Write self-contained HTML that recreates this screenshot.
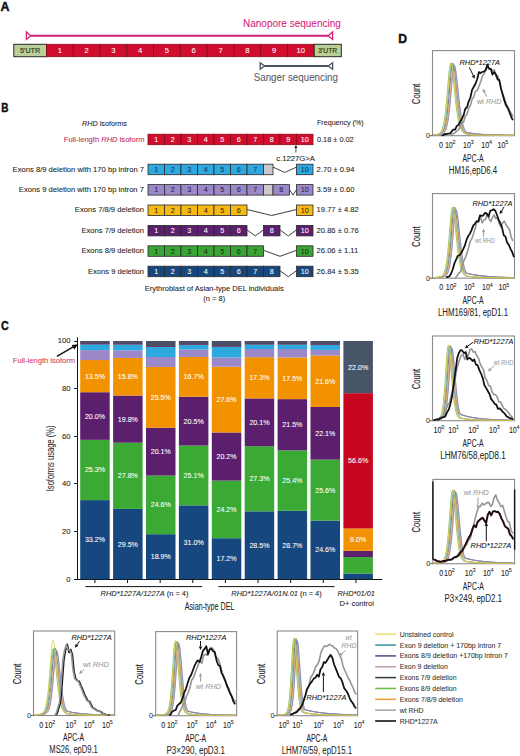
<!DOCTYPE html>
<html><head><meta charset="utf-8"><title>Figure</title>
<style>
html,body{margin:0;padding:0;background:#fff;}
body{width:520px;height:756px;overflow:hidden;}
svg{display:block;font-family:"Liberation Sans", sans-serif;}
</style></head>
<body>
<svg width="520" height="756" viewBox="0 0 520 756">
<rect x="0" y="0" width="520" height="756" fill="#fff"/>
<text x="0.60" y="11.10" font-size="13.2" fill="#111" text-anchor="start" font-weight="bold" textLength="9.00" lengthAdjust="spacingAndGlyphs" stroke="#111" stroke-width="0.45">A</text>
<text x="1.30" y="111.90" font-size="13.2" fill="#111" text-anchor="start" font-weight="bold" textLength="7.20" lengthAdjust="spacingAndGlyphs" stroke="#111" stroke-width="0.45">B</text>
<text x="0.90" y="329.90" font-size="13.2" fill="#111" text-anchor="start" font-weight="bold" textLength="7.70" lengthAdjust="spacingAndGlyphs" stroke="#111" stroke-width="0.45">C</text>
<text x="398.30" y="42.90" font-size="13.2" fill="#111" text-anchor="start" font-weight="bold" textLength="8.80" lengthAdjust="spacingAndGlyphs" stroke="#111" stroke-width="0.45">D</text>
<text x="243.00" y="26.80" font-size="10" fill="#d41f78" text-anchor="start" textLength="97.80" lengthAdjust="spacingAndGlyphs" stroke="#d41f78" stroke-width="0.07">Nanopore sequencing</text>
<line x1="30.80" y1="35.70" x2="328.20" y2="35.70" stroke="#d41f78" stroke-width="1.9"/>
<polygon points="26.40,32.00 26.40,39.40 30.80,35.70" fill="#fff" stroke="#d41f78" stroke-width="1.3"/>
<polygon points="332.60,32.00 332.60,39.40 328.20,35.70" fill="#fff" stroke="#d41f78" stroke-width="1.3"/>
<rect x="13.80" y="44.30" width="32.70" height="12.40" fill="#b9cf98" stroke="#2a2a20" stroke-width="1"/>
<text x="30.10" y="52.90" font-size="7.6" fill="#2c3d12" text-anchor="middle" textLength="20.20" lengthAdjust="spacingAndGlyphs" stroke="#2c3d12" stroke-width="0.2">5'UTR</text>
<rect x="46.50" y="44.30" width="26.77" height="12.40" fill="#d00d2e" stroke="#880a1c" stroke-width="0.8"/>
<text x="59.88" y="53.10" font-size="7.6" fill="#fff" text-anchor="middle" stroke="#fff" stroke-width="0.07">1</text>
<rect x="73.27" y="44.30" width="26.77" height="12.40" fill="#d00d2e" stroke="#880a1c" stroke-width="0.8"/>
<text x="86.66" y="53.10" font-size="7.6" fill="#fff" text-anchor="middle" stroke="#fff" stroke-width="0.07">2</text>
<rect x="100.04" y="44.30" width="26.77" height="12.40" fill="#d00d2e" stroke="#880a1c" stroke-width="0.8"/>
<text x="113.42" y="53.10" font-size="7.6" fill="#fff" text-anchor="middle" stroke="#fff" stroke-width="0.07">3</text>
<rect x="126.81" y="44.30" width="26.77" height="12.40" fill="#d00d2e" stroke="#880a1c" stroke-width="0.8"/>
<text x="140.19" y="53.10" font-size="7.6" fill="#fff" text-anchor="middle" stroke="#fff" stroke-width="0.07">4</text>
<rect x="153.58" y="44.30" width="26.77" height="12.40" fill="#d00d2e" stroke="#880a1c" stroke-width="0.8"/>
<text x="166.96" y="53.10" font-size="7.6" fill="#fff" text-anchor="middle" stroke="#fff" stroke-width="0.07">5</text>
<rect x="180.35" y="44.30" width="26.77" height="12.40" fill="#d00d2e" stroke="#880a1c" stroke-width="0.8"/>
<text x="193.73" y="53.10" font-size="7.6" fill="#fff" text-anchor="middle" stroke="#fff" stroke-width="0.07">6</text>
<rect x="207.12" y="44.30" width="26.77" height="12.40" fill="#d00d2e" stroke="#880a1c" stroke-width="0.8"/>
<text x="220.50" y="53.10" font-size="7.6" fill="#fff" text-anchor="middle" stroke="#fff" stroke-width="0.07">7</text>
<rect x="233.89" y="44.30" width="26.77" height="12.40" fill="#d00d2e" stroke="#880a1c" stroke-width="0.8"/>
<text x="247.27" y="53.10" font-size="7.6" fill="#fff" text-anchor="middle" stroke="#fff" stroke-width="0.07">8</text>
<rect x="260.66" y="44.30" width="26.77" height="12.40" fill="#d00d2e" stroke="#880a1c" stroke-width="0.8"/>
<text x="274.04" y="53.10" font-size="7.6" fill="#fff" text-anchor="middle" stroke="#fff" stroke-width="0.07">9</text>
<rect x="287.43" y="44.30" width="26.77" height="12.40" fill="#d00d2e" stroke="#880a1c" stroke-width="0.8"/>
<text x="300.81" y="53.10" font-size="7.6" fill="#fff" text-anchor="middle" stroke="#fff" stroke-width="0.07">10</text>
<rect x="314.20" y="44.30" width="27.10" height="12.40" fill="#b9cf98" stroke="#2a2a20" stroke-width="1"/>
<text x="327.75" y="52.90" font-size="7.2" fill="#2c3d12" text-anchor="middle" textLength="19.00" lengthAdjust="spacingAndGlyphs" stroke="#2c3d12" stroke-width="0.2">3'UTR</text>
<line x1="264.60" y1="66.00" x2="328.20" y2="66.00" stroke="#4a5160" stroke-width="1.9"/>
<polygon points="260.20,62.70 260.20,69.30 264.60,66.00" fill="#fff" stroke="#4a5160" stroke-width="1.3"/>
<polygon points="332.60,62.70 332.60,69.30 328.20,66.00" fill="#fff" stroke="#4a5160" stroke-width="1.3"/>
<text x="253.70" y="80.60" font-size="10.3" fill="#555b66" text-anchor="start" textLength="84.30" lengthAdjust="spacingAndGlyphs" stroke="#555b66" stroke-width="0.07">Sanger sequencing</text>
<text x="82.00" y="126.00" font-size="7.6" fill="#222" text-anchor="start" textLength="45.00" lengthAdjust="spacingAndGlyphs" stroke="#222" stroke-width="0.07"><tspan font-style="italic">RHD</tspan> isoforms</text>
<text x="317.00" y="125.40" font-size="7.4" fill="#222" text-anchor="start" textLength="46.70" lengthAdjust="spacingAndGlyphs" stroke="#222" stroke-width="0.07">Frequency (%)</text>
<text x="144.50" y="141.70" font-size="7.6" fill="#c62a55" text-anchor="end" textLength="80.70" lengthAdjust="spacingAndGlyphs" stroke="#c62a55" stroke-width="0.07">Full-length <tspan font-style="italic">RHD</tspan> isoform</text>
<rect x="148.00" y="134.20" width="16.50" height="10.50" fill="#d00d2e" stroke="#880a1c" stroke-width="0.8"/>
<text x="156.25" y="142.00" font-size="7.2" fill="#fff" text-anchor="middle" stroke="#fff" stroke-width="0.07">1</text>
<rect x="164.50" y="134.20" width="16.50" height="10.50" fill="#d00d2e" stroke="#880a1c" stroke-width="0.8"/>
<text x="172.75" y="142.00" font-size="7.2" fill="#fff" text-anchor="middle" stroke="#fff" stroke-width="0.07">2</text>
<rect x="181.00" y="134.20" width="16.50" height="10.50" fill="#d00d2e" stroke="#880a1c" stroke-width="0.8"/>
<text x="189.25" y="142.00" font-size="7.2" fill="#fff" text-anchor="middle" stroke="#fff" stroke-width="0.07">3</text>
<rect x="197.50" y="134.20" width="16.50" height="10.50" fill="#d00d2e" stroke="#880a1c" stroke-width="0.8"/>
<text x="205.75" y="142.00" font-size="7.2" fill="#fff" text-anchor="middle" stroke="#fff" stroke-width="0.07">4</text>
<rect x="214.00" y="134.20" width="16.50" height="10.50" fill="#d00d2e" stroke="#880a1c" stroke-width="0.8"/>
<text x="222.25" y="142.00" font-size="7.2" fill="#fff" text-anchor="middle" stroke="#fff" stroke-width="0.07">5</text>
<rect x="230.50" y="134.20" width="16.50" height="10.50" fill="#d00d2e" stroke="#880a1c" stroke-width="0.8"/>
<text x="238.75" y="142.00" font-size="7.2" fill="#fff" text-anchor="middle" stroke="#fff" stroke-width="0.07">6</text>
<rect x="247.00" y="134.20" width="16.50" height="10.50" fill="#d00d2e" stroke="#880a1c" stroke-width="0.8"/>
<text x="255.25" y="142.00" font-size="7.2" fill="#fff" text-anchor="middle" stroke="#fff" stroke-width="0.07">7</text>
<rect x="263.50" y="134.20" width="16.50" height="10.50" fill="#d00d2e" stroke="#880a1c" stroke-width="0.8"/>
<text x="271.75" y="142.00" font-size="7.2" fill="#fff" text-anchor="middle" stroke="#fff" stroke-width="0.07">8</text>
<rect x="280.00" y="134.20" width="16.50" height="10.50" fill="#d00d2e" stroke="#880a1c" stroke-width="0.8"/>
<text x="288.25" y="142.00" font-size="7.2" fill="#fff" text-anchor="middle" stroke="#fff" stroke-width="0.07">9</text>
<rect x="296.50" y="134.20" width="16.50" height="10.50" fill="#d00d2e" stroke="#880a1c" stroke-width="0.8"/>
<text x="304.75" y="142.00" font-size="7.2" fill="#fff" text-anchor="middle" stroke="#fff" stroke-width="0.07">10</text>
<line x1="295.90" y1="146.00" x2="295.90" y2="152.50" stroke="#222" stroke-width="0.8"/>
<polygon points="294.30,148.00 297.50,148.00 295.90,145.00" fill="#222"/>
<text x="276.20" y="160.60" font-size="7.6" fill="#222" text-anchor="start" textLength="38.80" lengthAdjust="spacingAndGlyphs" stroke="#222" stroke-width="0.07">c.1227G&gt;A</text>
<rect x="148.00" y="164.20" width="16.50" height="10.50" fill="#2ea9df" stroke="#2a2a2a" stroke-width="0.8"/>
<text x="156.25" y="172.00" font-size="7.2" fill="#1b2f5a" text-anchor="middle" stroke="#1b2f5a" stroke-width="0.07">1</text>
<rect x="164.50" y="164.20" width="16.50" height="10.50" fill="#2ea9df" stroke="#2a2a2a" stroke-width="0.8"/>
<text x="172.75" y="172.00" font-size="7.2" fill="#1b2f5a" text-anchor="middle" stroke="#1b2f5a" stroke-width="0.07">2</text>
<rect x="181.00" y="164.20" width="16.50" height="10.50" fill="#2ea9df" stroke="#2a2a2a" stroke-width="0.8"/>
<text x="189.25" y="172.00" font-size="7.2" fill="#1b2f5a" text-anchor="middle" stroke="#1b2f5a" stroke-width="0.07">3</text>
<rect x="197.50" y="164.20" width="16.50" height="10.50" fill="#2ea9df" stroke="#2a2a2a" stroke-width="0.8"/>
<text x="205.75" y="172.00" font-size="7.2" fill="#1b2f5a" text-anchor="middle" stroke="#1b2f5a" stroke-width="0.07">4</text>
<rect x="214.00" y="164.20" width="16.50" height="10.50" fill="#2ea9df" stroke="#2a2a2a" stroke-width="0.8"/>
<text x="222.25" y="172.00" font-size="7.2" fill="#1b2f5a" text-anchor="middle" stroke="#1b2f5a" stroke-width="0.07">5</text>
<rect x="230.50" y="164.20" width="16.50" height="10.50" fill="#2ea9df" stroke="#2a2a2a" stroke-width="0.8"/>
<text x="238.75" y="172.00" font-size="7.2" fill="#1b2f5a" text-anchor="middle" stroke="#1b2f5a" stroke-width="0.07">6</text>
<rect x="247.00" y="164.20" width="16.50" height="10.50" fill="#2ea9df" stroke="#2a2a2a" stroke-width="0.8"/>
<text x="255.25" y="172.00" font-size="7.2" fill="#1b2f5a" text-anchor="middle" stroke="#1b2f5a" stroke-width="0.07">7</text>
<rect x="296.50" y="164.20" width="16.50" height="10.50" fill="#2ea9df" stroke="#2a2a2a" stroke-width="0.8"/>
<text x="304.75" y="172.00" font-size="7.2" fill="#1b2f5a" text-anchor="middle" stroke="#1b2f5a" stroke-width="0.07">10</text>
<rect x="263.50" y="164.20" width="9.50" height="10.50" fill="#cdc8cb" stroke="#2a2a2a" stroke-width="0.8"/>
<polyline points="273.00,167.10 284.75,172.50 296.50,167.10" fill="none" stroke="#2a2a2a" stroke-width="0.9"/>
<rect x="148.00" y="184.60" width="16.50" height="10.50" fill="#9a88c8" stroke="#2a2a2a" stroke-width="0.8"/>
<text x="156.25" y="192.40" font-size="7.2" fill="#2a1a4e" text-anchor="middle" stroke="#2a1a4e" stroke-width="0.07">1</text>
<rect x="164.50" y="184.60" width="16.50" height="10.50" fill="#9a88c8" stroke="#2a2a2a" stroke-width="0.8"/>
<text x="172.75" y="192.40" font-size="7.2" fill="#2a1a4e" text-anchor="middle" stroke="#2a1a4e" stroke-width="0.07">2</text>
<rect x="181.00" y="184.60" width="16.50" height="10.50" fill="#9a88c8" stroke="#2a2a2a" stroke-width="0.8"/>
<text x="189.25" y="192.40" font-size="7.2" fill="#2a1a4e" text-anchor="middle" stroke="#2a1a4e" stroke-width="0.07">3</text>
<rect x="197.50" y="184.60" width="16.50" height="10.50" fill="#9a88c8" stroke="#2a2a2a" stroke-width="0.8"/>
<text x="205.75" y="192.40" font-size="7.2" fill="#2a1a4e" text-anchor="middle" stroke="#2a1a4e" stroke-width="0.07">4</text>
<rect x="214.00" y="184.60" width="16.50" height="10.50" fill="#9a88c8" stroke="#2a2a2a" stroke-width="0.8"/>
<text x="222.25" y="192.40" font-size="7.2" fill="#2a1a4e" text-anchor="middle" stroke="#2a1a4e" stroke-width="0.07">5</text>
<rect x="230.50" y="184.60" width="16.50" height="10.50" fill="#9a88c8" stroke="#2a2a2a" stroke-width="0.8"/>
<text x="238.75" y="192.40" font-size="7.2" fill="#2a1a4e" text-anchor="middle" stroke="#2a1a4e" stroke-width="0.07">6</text>
<rect x="247.00" y="184.60" width="16.50" height="10.50" fill="#9a88c8" stroke="#2a2a2a" stroke-width="0.8"/>
<text x="255.25" y="192.40" font-size="7.2" fill="#2a1a4e" text-anchor="middle" stroke="#2a1a4e" stroke-width="0.07">7</text>
<rect x="296.50" y="184.60" width="16.50" height="10.50" fill="#9a88c8" stroke="#2a2a2a" stroke-width="0.8"/>
<text x="304.75" y="192.40" font-size="7.2" fill="#2a1a4e" text-anchor="middle" stroke="#2a1a4e" stroke-width="0.07">10</text>
<rect x="263.50" y="184.60" width="9.50" height="10.50" fill="#cdc8cb" stroke="#2a2a2a" stroke-width="0.8"/>
<polyline points="289.50,189.60 293.00,195.10 296.50,189.60" fill="none" stroke="#2a2a2a" stroke-width="0.9"/>
<rect x="273.00" y="184.60" width="16.50" height="10.50" fill="#9a88c8" stroke="#2a2a2a" stroke-width="0.8"/>
<text x="281.25" y="192.40" font-size="7.2" fill="#2a1a4e" text-anchor="middle" stroke="#2a1a4e" stroke-width="0.07">8</text>
<rect x="148.00" y="205.00" width="16.50" height="10.50" fill="#f7b916" stroke="#2a2a2a" stroke-width="0.8"/>
<text x="156.25" y="212.80" font-size="7.2" fill="#3a2a00" text-anchor="middle" stroke="#3a2a00" stroke-width="0.07">1</text>
<rect x="164.50" y="205.00" width="16.50" height="10.50" fill="#f7b916" stroke="#2a2a2a" stroke-width="0.8"/>
<text x="172.75" y="212.80" font-size="7.2" fill="#3a2a00" text-anchor="middle" stroke="#3a2a00" stroke-width="0.07">2</text>
<rect x="181.00" y="205.00" width="16.50" height="10.50" fill="#f7b916" stroke="#2a2a2a" stroke-width="0.8"/>
<text x="189.25" y="212.80" font-size="7.2" fill="#3a2a00" text-anchor="middle" stroke="#3a2a00" stroke-width="0.07">3</text>
<rect x="197.50" y="205.00" width="16.50" height="10.50" fill="#f7b916" stroke="#2a2a2a" stroke-width="0.8"/>
<text x="205.75" y="212.80" font-size="7.2" fill="#3a2a00" text-anchor="middle" stroke="#3a2a00" stroke-width="0.07">4</text>
<rect x="214.00" y="205.00" width="16.50" height="10.50" fill="#f7b916" stroke="#2a2a2a" stroke-width="0.8"/>
<text x="222.25" y="212.80" font-size="7.2" fill="#3a2a00" text-anchor="middle" stroke="#3a2a00" stroke-width="0.07">5</text>
<rect x="230.50" y="205.00" width="16.50" height="10.50" fill="#f7b916" stroke="#2a2a2a" stroke-width="0.8"/>
<text x="238.75" y="212.80" font-size="7.2" fill="#3a2a00" text-anchor="middle" stroke="#3a2a00" stroke-width="0.07">6</text>
<rect x="296.50" y="205.00" width="16.50" height="10.50" fill="#f7b916" stroke="#2a2a2a" stroke-width="0.8"/>
<text x="304.75" y="212.80" font-size="7.2" fill="#3a2a00" text-anchor="middle" stroke="#3a2a00" stroke-width="0.07">10</text>
<polyline points="247.00,209.50 271.75,215.50 296.50,209.50" fill="none" stroke="#2a2a2a" stroke-width="0.9"/>
<rect x="148.00" y="225.40" width="16.50" height="10.50" fill="#5b1f6d" stroke="#2a2a2a" stroke-width="0.8"/>
<text x="156.25" y="233.20" font-size="7.2" fill="#fff" text-anchor="middle" stroke="#fff" stroke-width="0.07">1</text>
<rect x="164.50" y="225.40" width="16.50" height="10.50" fill="#5b1f6d" stroke="#2a2a2a" stroke-width="0.8"/>
<text x="172.75" y="233.20" font-size="7.2" fill="#fff" text-anchor="middle" stroke="#fff" stroke-width="0.07">2</text>
<rect x="181.00" y="225.40" width="16.50" height="10.50" fill="#5b1f6d" stroke="#2a2a2a" stroke-width="0.8"/>
<text x="189.25" y="233.20" font-size="7.2" fill="#fff" text-anchor="middle" stroke="#fff" stroke-width="0.07">3</text>
<rect x="197.50" y="225.40" width="16.50" height="10.50" fill="#5b1f6d" stroke="#2a2a2a" stroke-width="0.8"/>
<text x="205.75" y="233.20" font-size="7.2" fill="#fff" text-anchor="middle" stroke="#fff" stroke-width="0.07">4</text>
<rect x="214.00" y="225.40" width="16.50" height="10.50" fill="#5b1f6d" stroke="#2a2a2a" stroke-width="0.8"/>
<text x="222.25" y="233.20" font-size="7.2" fill="#fff" text-anchor="middle" stroke="#fff" stroke-width="0.07">5</text>
<rect x="230.50" y="225.40" width="16.50" height="10.50" fill="#5b1f6d" stroke="#2a2a2a" stroke-width="0.8"/>
<text x="238.75" y="233.20" font-size="7.2" fill="#fff" text-anchor="middle" stroke="#fff" stroke-width="0.07">6</text>
<rect x="263.50" y="225.40" width="16.50" height="10.50" fill="#5b1f6d" stroke="#2a2a2a" stroke-width="0.8"/>
<text x="271.75" y="233.20" font-size="7.2" fill="#fff" text-anchor="middle" stroke="#fff" stroke-width="0.07">8</text>
<rect x="296.50" y="225.40" width="16.50" height="10.50" fill="#5b1f6d" stroke="#2a2a2a" stroke-width="0.8"/>
<text x="304.75" y="233.20" font-size="7.2" fill="#fff" text-anchor="middle" stroke="#fff" stroke-width="0.07">10</text>
<polyline points="247.00,229.90 255.25,235.90 263.50,229.90" fill="none" stroke="#2a2a2a" stroke-width="0.9"/>
<polyline points="280.00,229.90 288.25,235.90 296.50,229.90" fill="none" stroke="#2a2a2a" stroke-width="0.9"/>
<rect x="148.00" y="245.80" width="16.50" height="10.50" fill="#3aa535" stroke="#2a2a2a" stroke-width="0.8"/>
<text x="156.25" y="253.60" font-size="7.2" fill="#1a2a10" text-anchor="middle" stroke="#1a2a10" stroke-width="0.07">1</text>
<rect x="164.50" y="245.80" width="16.50" height="10.50" fill="#3aa535" stroke="#2a2a2a" stroke-width="0.8"/>
<text x="172.75" y="253.60" font-size="7.2" fill="#1a2a10" text-anchor="middle" stroke="#1a2a10" stroke-width="0.07">2</text>
<rect x="181.00" y="245.80" width="16.50" height="10.50" fill="#3aa535" stroke="#2a2a2a" stroke-width="0.8"/>
<text x="189.25" y="253.60" font-size="7.2" fill="#1a2a10" text-anchor="middle" stroke="#1a2a10" stroke-width="0.07">3</text>
<rect x="197.50" y="245.80" width="16.50" height="10.50" fill="#3aa535" stroke="#2a2a2a" stroke-width="0.8"/>
<text x="205.75" y="253.60" font-size="7.2" fill="#1a2a10" text-anchor="middle" stroke="#1a2a10" stroke-width="0.07">4</text>
<rect x="214.00" y="245.80" width="16.50" height="10.50" fill="#3aa535" stroke="#2a2a2a" stroke-width="0.8"/>
<text x="222.25" y="253.60" font-size="7.2" fill="#1a2a10" text-anchor="middle" stroke="#1a2a10" stroke-width="0.07">5</text>
<rect x="230.50" y="245.80" width="16.50" height="10.50" fill="#3aa535" stroke="#2a2a2a" stroke-width="0.8"/>
<text x="238.75" y="253.60" font-size="7.2" fill="#1a2a10" text-anchor="middle" stroke="#1a2a10" stroke-width="0.07">6</text>
<rect x="247.00" y="245.80" width="16.50" height="10.50" fill="#3aa535" stroke="#2a2a2a" stroke-width="0.8"/>
<text x="255.25" y="253.60" font-size="7.2" fill="#1a2a10" text-anchor="middle" stroke="#1a2a10" stroke-width="0.07">7</text>
<rect x="296.50" y="245.80" width="16.50" height="10.50" fill="#3aa535" stroke="#2a2a2a" stroke-width="0.8"/>
<text x="304.75" y="253.60" font-size="7.2" fill="#1a2a10" text-anchor="middle" stroke="#1a2a10" stroke-width="0.07">10</text>
<polyline points="263.50,250.30 280.00,256.30 296.50,250.30" fill="none" stroke="#2a2a2a" stroke-width="0.9"/>
<rect x="148.00" y="266.20" width="16.50" height="10.50" fill="#17477f" stroke="#2a2a2a" stroke-width="0.8"/>
<text x="156.25" y="274.00" font-size="7.2" fill="#fff" text-anchor="middle" stroke="#fff" stroke-width="0.07">1</text>
<rect x="164.50" y="266.20" width="16.50" height="10.50" fill="#17477f" stroke="#2a2a2a" stroke-width="0.8"/>
<text x="172.75" y="274.00" font-size="7.2" fill="#fff" text-anchor="middle" stroke="#fff" stroke-width="0.07">2</text>
<rect x="181.00" y="266.20" width="16.50" height="10.50" fill="#17477f" stroke="#2a2a2a" stroke-width="0.8"/>
<text x="189.25" y="274.00" font-size="7.2" fill="#fff" text-anchor="middle" stroke="#fff" stroke-width="0.07">3</text>
<rect x="197.50" y="266.20" width="16.50" height="10.50" fill="#17477f" stroke="#2a2a2a" stroke-width="0.8"/>
<text x="205.75" y="274.00" font-size="7.2" fill="#fff" text-anchor="middle" stroke="#fff" stroke-width="0.07">4</text>
<rect x="214.00" y="266.20" width="16.50" height="10.50" fill="#17477f" stroke="#2a2a2a" stroke-width="0.8"/>
<text x="222.25" y="274.00" font-size="7.2" fill="#fff" text-anchor="middle" stroke="#fff" stroke-width="0.07">5</text>
<rect x="230.50" y="266.20" width="16.50" height="10.50" fill="#17477f" stroke="#2a2a2a" stroke-width="0.8"/>
<text x="238.75" y="274.00" font-size="7.2" fill="#fff" text-anchor="middle" stroke="#fff" stroke-width="0.07">6</text>
<rect x="247.00" y="266.20" width="16.50" height="10.50" fill="#17477f" stroke="#2a2a2a" stroke-width="0.8"/>
<text x="255.25" y="274.00" font-size="7.2" fill="#fff" text-anchor="middle" stroke="#fff" stroke-width="0.07">7</text>
<rect x="263.50" y="266.20" width="16.50" height="10.50" fill="#17477f" stroke="#2a2a2a" stroke-width="0.8"/>
<text x="271.75" y="274.00" font-size="7.2" fill="#fff" text-anchor="middle" stroke="#fff" stroke-width="0.07">8</text>
<rect x="296.50" y="266.20" width="16.50" height="10.50" fill="#17477f" stroke="#2a2a2a" stroke-width="0.8"/>
<text x="304.75" y="274.00" font-size="7.2" fill="#fff" text-anchor="middle" stroke="#fff" stroke-width="0.07">10</text>
<polyline points="280.00,270.70 288.25,276.70 296.50,270.70" fill="none" stroke="#2a2a2a" stroke-width="0.9"/>
<text x="317.00" y="141.90" font-size="7.6" fill="#222" text-anchor="start" textLength="36.70" lengthAdjust="spacingAndGlyphs" stroke="#222" stroke-width="0.07">0.18 ± 0.02</text>
<text x="144.00" y="171.60" font-size="7.6" fill="#222" text-anchor="end" textLength="131.40" lengthAdjust="spacingAndGlyphs" stroke="#222" stroke-width="0.07">Exons 8/9 deletion with 170 bp intron 7</text>
<text x="316.60" y="171.60" font-size="7.6" fill="#222" text-anchor="start" stroke="#222" stroke-width="0.07">2.70 ± 0.94</text>
<text x="144.00" y="192.00" font-size="7.6" fill="#222" text-anchor="end" textLength="125.20" lengthAdjust="spacingAndGlyphs" stroke="#222" stroke-width="0.07">Exons 9 deletion with 170 bp intron 7</text>
<text x="316.60" y="192.00" font-size="7.6" fill="#222" text-anchor="start" stroke="#222" stroke-width="0.07">3.59 ± 0.60</text>
<text x="144.00" y="212.40" font-size="7.6" fill="#222" text-anchor="end" textLength="69.20" lengthAdjust="spacingAndGlyphs" stroke="#222" stroke-width="0.07">Exons 7/8/9 deletion</text>
<text x="316.60" y="212.40" font-size="7.6" fill="#222" text-anchor="start" stroke="#222" stroke-width="0.07">19.77 ± 4.82</text>
<text x="144.00" y="232.80" font-size="7.6" fill="#222" text-anchor="end" textLength="62.60" lengthAdjust="spacingAndGlyphs" stroke="#222" stroke-width="0.07">Exons 7/9 deletion</text>
<text x="316.60" y="232.80" font-size="7.6" fill="#222" text-anchor="start" stroke="#222" stroke-width="0.07">20.86 ± 0.76</text>
<text x="144.00" y="253.20" font-size="7.6" fill="#222" text-anchor="end" textLength="62.60" lengthAdjust="spacingAndGlyphs" stroke="#222" stroke-width="0.07">Exons 8/9 deletion</text>
<text x="316.60" y="253.20" font-size="7.6" fill="#222" text-anchor="start" stroke="#222" stroke-width="0.07">26.06 ± 1.11</text>
<text x="144.00" y="273.60" font-size="7.6" fill="#222" text-anchor="end" textLength="56.00" lengthAdjust="spacingAndGlyphs" stroke="#222" stroke-width="0.07">Exons 9 deletion</text>
<text x="316.60" y="273.60" font-size="7.6" fill="#222" text-anchor="start" stroke="#222" stroke-width="0.07">26.84 ± 5.35</text>
<text x="214.20" y="291.30" font-size="7.5" fill="#222" text-anchor="middle" textLength="138.90" lengthAdjust="spacingAndGlyphs" stroke="#222" stroke-width="0.07">Erythroblast of Asian-type DEL individuals</text>
<text x="214.20" y="301.00" font-size="7.5" fill="#222" text-anchor="middle" stroke="#222" stroke-width="0.07">(n = 8)</text>
<line x1="77.50" y1="337.40" x2="77.50" y2="580.00" stroke="#111" stroke-width="1.0"/>
<line x1="77.00" y1="579.50" x2="382.40" y2="579.50" stroke="#111" stroke-width="1.0"/>
<line x1="74.20" y1="579.50" x2="77.50" y2="579.50" stroke="#111" stroke-width="1.0"/>
<text x="70.60" y="581.60" font-size="7.7" fill="#222" text-anchor="end" stroke="#222" stroke-width="0.07">0</text>
<line x1="74.20" y1="531.50" x2="77.50" y2="531.50" stroke="#111" stroke-width="1.0"/>
<text x="70.60" y="533.96" font-size="7.7" fill="#222" text-anchor="end" stroke="#222" stroke-width="0.07">20</text>
<line x1="74.20" y1="483.50" x2="77.50" y2="483.50" stroke="#111" stroke-width="1.0"/>
<text x="70.60" y="486.32" font-size="7.7" fill="#222" text-anchor="end" stroke="#222" stroke-width="0.07">40</text>
<line x1="74.20" y1="436.50" x2="77.50" y2="436.50" stroke="#111" stroke-width="1.0"/>
<text x="70.60" y="438.68" font-size="7.7" fill="#222" text-anchor="end" stroke="#222" stroke-width="0.07">60</text>
<line x1="74.20" y1="388.50" x2="77.50" y2="388.50" stroke="#111" stroke-width="1.0"/>
<text x="70.60" y="391.04" font-size="7.7" fill="#222" text-anchor="end" stroke="#222" stroke-width="0.07">80</text>
<line x1="74.20" y1="341.50" x2="77.50" y2="341.50" stroke="#111" stroke-width="1.0"/>
<text x="70.60" y="343.40" font-size="7.7" fill="#222" text-anchor="end" stroke="#222" stroke-width="0.07">100</text>
<text transform="translate(53.7,458.4) rotate(-90)" x="0" y="0" font-size="10.2" fill="#222" text-anchor="middle" textLength="65.7" lengthAdjust="spacingAndGlyphs">Isoforms usage (%)</text>
<text x="12.80" y="362.80" font-size="7.6" fill="#cf3560" text-anchor="start" textLength="62.40" lengthAdjust="spacingAndGlyphs" stroke="#cf3560" stroke-width="0.07">Full-length isoform</text>
<line x1="56.90" y1="356.30" x2="74.50" y2="346.20" stroke="#111" stroke-width="1.4"/>
<polygon points="78.20,344.20 71.60,345.00 74.30,349.60" fill="#111"/>
<rect x="80.20" y="500.12" width="29.50" height="79.08" fill="#17477f"/>
<text x="94.95" y="542.16" font-size="7.1" fill="#fff" text-anchor="middle" stroke="#fff" stroke-width="0.07">33.2%</text>
<rect x="80.20" y="439.85" width="29.50" height="60.26" fill="#3aaa35"/>
<text x="94.95" y="472.49" font-size="7.1" fill="#fff" text-anchor="middle" stroke="#fff" stroke-width="0.07">25.3%</text>
<rect x="80.20" y="392.21" width="29.50" height="47.64" fill="#5b1f6d"/>
<text x="94.95" y="418.53" font-size="7.1" fill="#fff" text-anchor="middle" stroke="#fff" stroke-width="0.07">20.0%</text>
<rect x="80.20" y="360.06" width="29.50" height="32.16" fill="#f39200"/>
<text x="94.95" y="378.63" font-size="7.1" fill="#fff" text-anchor="middle" stroke="#fff" stroke-width="0.07">13.5%</text>
<rect x="80.20" y="350.10" width="29.50" height="9.96" fill="#9a88c8"/>
<rect x="80.20" y="344.30" width="29.50" height="5.80" fill="#2ea9df"/>
<rect x="80.20" y="341.00" width="29.50" height="3.30" fill="#4a4f67"/>
<rect x="80.20" y="343.50" width="29.50" height="0.80" fill="#74305a"/>
<rect x="113.10" y="508.93" width="29.50" height="70.27" fill="#17477f"/>
<text x="127.85" y="546.57" font-size="7.1" fill="#fff" text-anchor="middle" stroke="#fff" stroke-width="0.07">29.5%</text>
<rect x="113.10" y="442.71" width="29.50" height="66.22" fill="#3aaa35"/>
<text x="127.85" y="478.32" font-size="7.1" fill="#fff" text-anchor="middle" stroke="#fff" stroke-width="0.07">27.8%</text>
<rect x="113.10" y="395.55" width="29.50" height="47.16" fill="#5b1f6d"/>
<text x="127.85" y="421.63" font-size="7.1" fill="#fff" text-anchor="middle" stroke="#fff" stroke-width="0.07">19.8%</text>
<rect x="113.10" y="357.91" width="29.50" height="37.64" fill="#f39200"/>
<text x="127.85" y="379.23" font-size="7.1" fill="#fff" text-anchor="middle" stroke="#fff" stroke-width="0.07">15.8%</text>
<rect x="113.10" y="350.30" width="29.50" height="7.61" fill="#9a88c8"/>
<rect x="113.10" y="344.40" width="29.50" height="5.90" fill="#2ea9df"/>
<rect x="113.10" y="341.00" width="29.50" height="3.40" fill="#4a4f67"/>
<rect x="113.10" y="343.60" width="29.50" height="0.80" fill="#74305a"/>
<rect x="146.00" y="534.18" width="29.50" height="45.02" fill="#17477f"/>
<text x="160.75" y="559.19" font-size="7.1" fill="#fff" text-anchor="middle" stroke="#fff" stroke-width="0.07">18.9%</text>
<rect x="146.00" y="475.58" width="29.50" height="58.60" fill="#3aaa35"/>
<text x="160.75" y="507.38" font-size="7.1" fill="#fff" text-anchor="middle" stroke="#fff" stroke-width="0.07">24.6%</text>
<rect x="146.00" y="427.70" width="29.50" height="47.88" fill="#5b1f6d"/>
<text x="160.75" y="454.14" font-size="7.1" fill="#fff" text-anchor="middle" stroke="#fff" stroke-width="0.07">20.1%</text>
<rect x="146.00" y="366.96" width="29.50" height="60.74" fill="#f39200"/>
<text x="160.75" y="399.83" font-size="7.1" fill="#fff" text-anchor="middle" stroke="#fff" stroke-width="0.07">25.5%</text>
<rect x="146.00" y="357.00" width="29.50" height="9.96" fill="#9a88c8"/>
<rect x="146.00" y="346.80" width="29.50" height="10.20" fill="#2ea9df"/>
<rect x="146.00" y="341.00" width="29.50" height="5.80" fill="#4a4f67"/>
<rect x="146.00" y="346.00" width="29.50" height="0.80" fill="#74305a"/>
<rect x="178.90" y="505.36" width="29.50" height="73.84" fill="#17477f"/>
<text x="193.65" y="544.78" font-size="7.1" fill="#fff" text-anchor="middle" stroke="#fff" stroke-width="0.07">31.0%</text>
<rect x="178.90" y="445.57" width="29.50" height="59.79" fill="#3aaa35"/>
<text x="193.65" y="477.96" font-size="7.1" fill="#fff" text-anchor="middle" stroke="#fff" stroke-width="0.07">25.1%</text>
<rect x="178.90" y="396.74" width="29.50" height="48.83" fill="#5b1f6d"/>
<text x="193.65" y="423.65" font-size="7.1" fill="#fff" text-anchor="middle" stroke="#fff" stroke-width="0.07">20.5%</text>
<rect x="178.90" y="356.96" width="29.50" height="39.78" fill="#f39200"/>
<text x="193.65" y="379.35" font-size="7.1" fill="#fff" text-anchor="middle" stroke="#fff" stroke-width="0.07">16.7%</text>
<rect x="178.90" y="349.50" width="29.50" height="7.46" fill="#9a88c8"/>
<rect x="178.90" y="344.70" width="29.50" height="4.80" fill="#2ea9df"/>
<rect x="178.90" y="341.00" width="29.50" height="3.70" fill="#4a4f67"/>
<rect x="178.90" y="343.90" width="29.50" height="0.80" fill="#74305a"/>
<rect x="211.80" y="538.23" width="29.50" height="40.97" fill="#17477f"/>
<text x="226.55" y="561.21" font-size="7.1" fill="#fff" text-anchor="middle" stroke="#fff" stroke-width="0.07">17.2%</text>
<rect x="211.80" y="480.59" width="29.50" height="57.64" fill="#3aaa35"/>
<text x="226.55" y="511.91" font-size="7.1" fill="#fff" text-anchor="middle" stroke="#fff" stroke-width="0.07">24.2%</text>
<rect x="211.80" y="432.47" width="29.50" height="48.12" fill="#5b1f6d"/>
<text x="226.55" y="459.03" font-size="7.1" fill="#fff" text-anchor="middle" stroke="#fff" stroke-width="0.07">20.2%</text>
<rect x="211.80" y="366.73" width="29.50" height="65.74" fill="#f39200"/>
<text x="226.55" y="402.10" font-size="7.1" fill="#fff" text-anchor="middle" stroke="#fff" stroke-width="0.07">27.6%</text>
<rect x="211.80" y="357.50" width="29.50" height="9.23" fill="#9a88c8"/>
<rect x="211.80" y="346.60" width="29.50" height="10.90" fill="#2ea9df"/>
<rect x="211.80" y="341.00" width="29.50" height="5.60" fill="#4a4f67"/>
<rect x="211.80" y="345.80" width="29.50" height="0.80" fill="#74305a"/>
<rect x="244.70" y="511.31" width="29.50" height="67.89" fill="#17477f"/>
<text x="259.45" y="547.76" font-size="7.1" fill="#fff" text-anchor="middle" stroke="#fff" stroke-width="0.07">28.5%</text>
<rect x="244.70" y="446.28" width="29.50" height="65.03" fill="#3aaa35"/>
<text x="259.45" y="481.30" font-size="7.1" fill="#fff" text-anchor="middle" stroke="#fff" stroke-width="0.07">27.3%</text>
<rect x="244.70" y="398.41" width="29.50" height="47.88" fill="#5b1f6d"/>
<text x="259.45" y="424.85" font-size="7.1" fill="#fff" text-anchor="middle" stroke="#fff" stroke-width="0.07">20.1%</text>
<rect x="244.70" y="357.20" width="29.50" height="41.21" fill="#f39200"/>
<text x="259.45" y="380.30" font-size="7.1" fill="#fff" text-anchor="middle" stroke="#fff" stroke-width="0.07">17.3%</text>
<rect x="244.70" y="349.00" width="29.50" height="8.20" fill="#9a88c8"/>
<rect x="244.70" y="344.40" width="29.50" height="4.60" fill="#2ea9df"/>
<rect x="244.70" y="341.00" width="29.50" height="3.40" fill="#4a4f67"/>
<rect x="244.70" y="343.60" width="29.50" height="0.80" fill="#74305a"/>
<rect x="277.60" y="510.84" width="29.50" height="68.36" fill="#17477f"/>
<text x="292.35" y="547.52" font-size="7.1" fill="#fff" text-anchor="middle" stroke="#fff" stroke-width="0.07">28.7%</text>
<rect x="277.60" y="450.33" width="29.50" height="60.50" fill="#3aaa35"/>
<text x="292.35" y="483.09" font-size="7.1" fill="#fff" text-anchor="middle" stroke="#fff" stroke-width="0.07">25.4%</text>
<rect x="277.60" y="399.12" width="29.50" height="51.21" fill="#5b1f6d"/>
<text x="292.35" y="427.23" font-size="7.1" fill="#fff" text-anchor="middle" stroke="#fff" stroke-width="0.07">21.5%</text>
<rect x="277.60" y="357.44" width="29.50" height="41.68" fill="#f39200"/>
<text x="292.35" y="380.78" font-size="7.1" fill="#fff" text-anchor="middle" stroke="#fff" stroke-width="0.07">17.5%</text>
<rect x="277.60" y="349.00" width="29.50" height="8.44" fill="#9a88c8"/>
<rect x="277.60" y="344.40" width="29.50" height="4.60" fill="#2ea9df"/>
<rect x="277.60" y="341.00" width="29.50" height="3.40" fill="#4a4f67"/>
<rect x="277.60" y="343.60" width="29.50" height="0.80" fill="#74305a"/>
<rect x="310.50" y="520.60" width="29.50" height="58.60" fill="#17477f"/>
<text x="325.25" y="552.40" font-size="7.1" fill="#fff" text-anchor="middle" stroke="#fff" stroke-width="0.07">24.6%</text>
<rect x="310.50" y="459.62" width="29.50" height="60.98" fill="#3aaa35"/>
<text x="325.25" y="492.61" font-size="7.1" fill="#fff" text-anchor="middle" stroke="#fff" stroke-width="0.07">25.6%</text>
<rect x="310.50" y="406.98" width="29.50" height="52.64" fill="#5b1f6d"/>
<text x="325.25" y="435.80" font-size="7.1" fill="#fff" text-anchor="middle" stroke="#fff" stroke-width="0.07">22.1%</text>
<rect x="310.50" y="355.53" width="29.50" height="51.45" fill="#f39200"/>
<text x="325.25" y="383.76" font-size="7.1" fill="#fff" text-anchor="middle" stroke="#fff" stroke-width="0.07">21.6%</text>
<rect x="310.50" y="349.90" width="29.50" height="5.63" fill="#9a88c8"/>
<rect x="310.50" y="344.70" width="29.50" height="5.20" fill="#2ea9df"/>
<rect x="310.50" y="341.00" width="29.50" height="3.70" fill="#4a4f67"/>
<rect x="310.50" y="343.90" width="29.50" height="0.80" fill="#74305a"/>
<rect x="343.40" y="573.48" width="29.50" height="5.72" fill="#17477f"/>
<rect x="343.40" y="557.05" width="29.50" height="16.44" fill="#3aaa35"/>
<rect x="343.40" y="550.85" width="29.50" height="6.19" fill="#5b1f6d"/>
<rect x="343.40" y="528.46" width="29.50" height="22.39" fill="#f39200"/>
<text x="358.15" y="542.16" font-size="7.1" fill="#fff" text-anchor="middle" stroke="#fff" stroke-width="0.07">9.0%</text>
<rect x="343.40" y="393.17" width="29.50" height="135.30" fill="#c8061f"/>
<text x="358.15" y="463.31" font-size="7.1" fill="#fff" text-anchor="middle" stroke="#fff" stroke-width="0.07">56.6%</text>
<rect x="343.40" y="341.00" width="29.50" height="52.17" fill="#485468"/>
<text x="358.15" y="369.58" font-size="7.1" fill="#fff" text-anchor="middle" stroke="#fff" stroke-width="0.07">22.0%</text>
<line x1="94.90" y1="579.50" x2="94.90" y2="583.00" stroke="#111" stroke-width="1.0"/>
<line x1="127.53" y1="579.50" x2="127.53" y2="583.00" stroke="#111" stroke-width="1.0"/>
<line x1="160.16" y1="579.50" x2="160.16" y2="583.00" stroke="#111" stroke-width="1.0"/>
<line x1="192.79" y1="579.50" x2="192.79" y2="583.00" stroke="#111" stroke-width="1.0"/>
<line x1="225.42" y1="579.50" x2="225.42" y2="583.00" stroke="#111" stroke-width="1.0"/>
<line x1="258.05" y1="579.50" x2="258.05" y2="583.00" stroke="#111" stroke-width="1.0"/>
<line x1="290.68" y1="579.50" x2="290.68" y2="583.00" stroke="#111" stroke-width="1.0"/>
<line x1="323.31" y1="579.50" x2="323.31" y2="583.00" stroke="#111" stroke-width="1.0"/>
<line x1="355.94" y1="579.50" x2="355.94" y2="583.00" stroke="#111" stroke-width="1.0"/>
<line x1="85.40" y1="586.60" x2="202.10" y2="586.60" stroke="#111" stroke-width="1.0"/>
<line x1="218.40" y1="586.60" x2="334.60" y2="586.60" stroke="#111" stroke-width="1.0"/>
<text x="144.50" y="596.00" font-size="7.4" fill="#222" text-anchor="middle" textLength="87.90" lengthAdjust="spacingAndGlyphs" stroke="#222" stroke-width="0.07"><tspan font-style="italic">RHD*1227A/1227A</tspan> (n = 4)</text>
<text x="276.50" y="596.00" font-size="7.4" fill="#222" text-anchor="middle" textLength="90.50" lengthAdjust="spacingAndGlyphs" stroke="#222" stroke-width="0.07"><tspan font-style="italic">RHD*1227A/01N.01</tspan> (n = 4)</text>
<text x="356.20" y="596.00" font-size="7.4" fill="#222" text-anchor="middle" font-style="italic" textLength="37.40" lengthAdjust="spacingAndGlyphs" stroke="#222" stroke-width="0.07">RHD*01/01</text>
<text x="356.70" y="606.00" font-size="7.4" fill="#222" text-anchor="middle" textLength="34.40" lengthAdjust="spacingAndGlyphs" stroke="#222" stroke-width="0.07">D+ control</text>
<text x="209.60" y="610.20" font-size="10.0" fill="#222" text-anchor="middle" textLength="49.70" lengthAdjust="spacingAndGlyphs" stroke="#222" stroke-width="0.07">Asian-type DEL</text>
<rect x="432.50" y="50.60" width="82.00" height="85.10" fill="#fff" stroke="#8a8a8a" stroke-width="1.1"/>
<path d="M433.00,135.03 L433.80,134.98 L434.60,134.93 L435.40,134.86 L436.20,134.78 L437.00,134.69 L437.80,134.58 L438.60,134.43 L439.40,134.24 L440.20,133.99 L441.00,133.62 L441.80,133.09 L442.60,132.30 L443.40,131.13 L444.20,129.41 L445.00,126.93 L445.80,123.47 L446.60,118.82 L447.40,112.84 L448.20,105.46 L449.00,96.83 L449.80,87.33 L450.60,77.77 L451.40,69.47 L452.20,64.14 L453.00,63.16 L453.80,65.80 L454.60,71.14 L455.40,78.25 L456.20,86.15 L457.00,94.10 L457.80,101.57 L458.60,108.27 L459.40,114.06 L460.20,118.89 L461.00,122.81 L461.80,125.90 L462.60,128.26 L463.40,130.03 L464.20,131.34 L465.00,132.28 L465.80,132.49 L466.60,132.64 L467.40,132.78 L468.20,132.92 L469.00,133.05 L469.80,133.17 L470.60,133.29 L471.40,133.40 L472.20,133.50 L473.00,133.60 L473.80,133.69 L474.60,133.78 L475.40,133.86 L476.20,133.94 L477.00,134.02 L477.80,134.09 L478.60,134.16 L479.40,134.22 L480.20,134.29 L481.00,134.34 L481.80,134.40 L482.60,134.45 L483.40,134.50 L484.20,134.55 L485.00,134.59 L485.80,134.63 L486.60,134.67 L487.40,134.71 L488.20,134.75 L489.00,134.78 L489.80,134.81 L490.60,134.84 L491.40,134.87 L492.20,134.90 L493.00,134.93 L493.80,134.95 L494.60,134.97 L495.40,135.00 L496.20,135.02 L497.00,135.04 L497.80,135.06 L498.60,135.07 L499.40,135.09 L500.20,135.11 L501.00,135.12 L501.80,135.14 L502.60,135.15 L503.40,135.16 L504.20,135.17 L505.00,135.19 L505.80,135.20 L506.60,135.21 L507.40,135.22 L508.20,135.23 L509.00,135.24 L509.80,135.25 L510.60,135.25 L511.40,135.26 L512.20,135.27 L513.00,135.27 L513.80,135.28" fill="none" stroke="#5a5250" stroke-width="0.8" stroke-linejoin="round"/>
<path d="M433.00,135.12 L433.80,135.08 L434.60,135.05 L435.40,135.00 L436.20,134.95 L437.00,134.89 L437.80,134.82 L438.60,134.73 L439.40,134.62 L440.20,134.48 L441.00,134.30 L441.80,134.06 L442.60,133.72 L443.40,133.23 L444.20,132.49 L445.00,131.39 L445.80,129.78 L446.60,127.45 L447.40,124.20 L448.20,119.83 L449.00,114.17 L449.80,107.18 L450.60,98.97 L451.40,89.91 L452.20,80.71 L453.00,72.63 L453.80,67.30 L454.60,66.10 L455.40,68.44 L456.20,73.42 L457.00,80.16 L457.80,87.71 L458.60,95.34 L459.40,102.54 L460.20,109.02 L461.00,114.62 L461.80,119.31 L462.60,123.12 L463.40,126.13 L464.20,128.43 L465.00,130.16 L465.80,131.44 L466.60,132.36 L467.40,132.60 L468.20,132.74 L469.00,132.88 L469.80,133.01 L470.60,133.14 L471.40,133.25 L472.20,133.37 L473.00,133.47 L473.80,133.57 L474.60,133.67 L475.40,133.76 L476.20,133.84 L477.00,133.92 L477.80,134.00 L478.60,134.07 L479.40,134.14 L480.20,134.21 L481.00,134.27 L481.80,134.33 L482.60,134.38 L483.40,134.44 L484.20,134.49 L485.00,134.53 L485.80,134.58 L486.60,134.62 L487.40,134.66 L488.20,134.70 L489.00,134.74 L489.80,134.77 L490.60,134.80 L491.40,134.83 L492.20,134.86 L493.00,134.89 L493.80,134.92 L494.60,134.94 L495.40,134.97 L496.20,134.99 L497.00,135.01 L497.80,135.03 L498.60,135.05 L499.40,135.07 L500.20,135.09 L501.00,135.10 L501.80,135.12 L502.60,135.13 L503.40,135.15 L504.20,135.16 L505.00,135.17 L505.80,135.18 L506.60,135.19 L507.40,135.21 L508.20,135.22 L509.00,135.23 L509.80,135.23 L510.60,135.24 L511.40,135.25 L512.20,135.26 L513.00,135.27 L513.80,135.27" fill="none" stroke="#9a8cb8" stroke-width="0.8" stroke-linejoin="round"/>
<path d="M433.00,134.97 L433.80,134.92 L434.60,134.85 L435.40,134.77 L436.20,134.67 L437.00,134.55 L437.80,134.40 L438.60,134.19 L439.40,133.91 L440.20,133.51 L441.00,132.92 L441.80,132.04 L442.60,130.74 L443.40,128.84 L444.20,126.12 L445.00,122.37 L445.80,117.40 L446.60,111.09 L447.40,103.43 L448.20,94.61 L449.00,85.15 L449.80,75.97 L450.60,68.53 L451.40,64.54 L452.20,64.84 L453.00,68.35 L453.80,74.25 L454.60,81.58 L455.40,89.44 L456.20,97.14 L457.00,104.28 L457.80,110.60 L458.60,116.00 L459.40,120.46 L460.20,124.05 L461.00,126.85 L461.80,128.98 L462.60,130.57 L463.40,131.73 L464.20,132.57 L465.00,133.17 L465.80,133.60 L466.60,133.92 L467.40,134.16 L468.20,134.34 L469.00,134.48 L469.80,134.59 L470.60,134.69 L471.40,134.77 L472.20,134.83 L473.00,134.89 L473.80,134.93 L474.60,134.97 L475.40,135.00 L476.20,135.03 L477.00,135.06 L477.80,135.09 L478.60,135.11 L479.40,135.13 L480.20,135.15 L481.00,135.17 L481.80,135.19 L482.60,135.21 L483.40,135.22 L484.20,135.23 L485.00,135.25 L485.80,135.26 L486.60,135.27 L487.40,135.28 L488.20,135.29 L489.00,135.30 L489.80,135.31 L490.60,135.31 L491.40,135.32 L492.20,135.32 L493.00,135.33 L493.80,135.33 L494.60,135.33 L495.40,135.34 L496.20,135.34 L497.00,135.34 L497.80,135.35 L498.60,135.35 L499.40,135.35 L500.20,135.35 L501.00,135.36 L501.80,135.36 L502.60,135.36 L503.40,135.36 L504.20,135.36 L505.00,135.36 L505.80,135.37 L506.60,135.37 L507.40,135.37 L508.20,135.37 L509.00,135.37 L509.80,135.37 L510.60,135.37 L511.40,135.37 L512.20,135.38 L513.00,135.38 L513.80,135.38" fill="none" stroke="#4f9ea4" stroke-width="0.8" stroke-linejoin="round"/>
<path d="M433.00,134.89 L433.80,134.82 L434.60,134.73 L435.40,134.63 L436.20,134.50 L437.00,134.33 L437.80,134.10 L438.60,133.79 L439.40,133.33 L440.20,132.66 L441.00,131.66 L441.80,130.18 L442.60,128.02 L443.40,124.98 L444.20,120.84 L445.00,115.41 L445.80,108.61 L446.60,100.49 L447.40,91.32 L448.20,81.74 L449.00,72.85 L449.80,66.26 L450.60,63.61 L451.40,65.04 L452.20,69.43 L453.00,75.94 L453.80,83.58 L454.60,91.52 L455.40,99.15 L456.20,106.10 L457.00,112.19 L457.80,117.34 L458.60,121.56 L459.40,124.92 L460.20,127.52 L461.00,129.48 L461.80,130.93 L462.60,131.99 L463.40,132.75 L464.20,133.30 L465.00,133.70 L465.80,133.99 L466.60,134.21 L467.40,134.38 L468.20,134.51 L469.00,134.62 L469.80,134.71 L470.60,134.78 L471.40,134.85 L472.20,134.90 L473.00,134.94 L473.80,134.97 L474.60,135.01 L475.40,135.04 L476.20,135.07 L477.00,135.09 L477.80,135.11 L478.60,135.14 L479.40,135.16 L480.20,135.18 L481.00,135.19 L481.80,135.21 L482.60,135.22 L483.40,135.24 L484.20,135.25 L485.00,135.26 L485.80,135.27 L486.60,135.28 L487.40,135.29 L488.20,135.30 L489.00,135.31 L489.80,135.31 L490.60,135.32 L491.40,135.32 L492.20,135.33 L493.00,135.33 L493.80,135.33 L494.60,135.34 L495.40,135.34 L496.20,135.34 L497.00,135.35 L497.80,135.35 L498.60,135.35 L499.40,135.35 L500.20,135.36 L501.00,135.36 L501.80,135.36 L502.60,135.36 L503.40,135.36 L504.20,135.37 L505.00,135.37 L505.80,135.37 L506.60,135.37 L507.40,135.37 L508.20,135.37 L509.00,135.37 L509.80,135.37 L510.60,135.38 L511.40,135.38 L512.20,135.38 L513.00,135.38 L513.80,135.38" fill="none" stroke="#78b246" stroke-width="0.8" stroke-linejoin="round"/>
<path d="M433.00,135.10 L433.80,135.06 L434.60,135.02 L435.40,134.98 L436.20,134.92 L437.00,134.85 L437.80,134.78 L438.60,134.68 L439.40,134.56 L440.20,134.41 L441.00,134.21 L441.80,133.93 L442.60,133.53 L443.40,132.95 L444.20,132.08 L445.00,130.79 L445.80,128.91 L446.60,126.22 L447.40,122.52 L448.20,117.61 L449.00,111.36 L449.80,103.79 L450.60,95.07 L451.40,85.71 L452.20,76.64 L453.00,69.28 L453.80,65.33 L454.60,65.63 L455.40,69.10 L456.20,74.94 L457.00,82.19 L457.80,89.95 L458.60,97.57 L459.40,104.63 L460.20,110.88 L461.00,116.22 L461.80,120.63 L462.60,124.18 L463.40,126.95 L464.20,129.05 L465.00,130.62 L465.80,131.77 L466.60,132.46 L467.40,132.62 L468.20,132.76 L469.00,132.90 L469.80,133.03 L470.60,133.15 L471.40,133.27 L472.20,133.38 L473.00,133.48 L473.80,133.58 L474.60,133.68 L475.40,133.77 L476.20,133.85 L477.00,133.93 L477.80,134.01 L478.60,134.08 L479.40,134.15 L480.20,134.21 L481.00,134.28 L481.80,134.33 L482.60,134.39 L483.40,134.44 L484.20,134.49 L485.00,134.54 L485.80,134.58 L486.60,134.63 L487.40,134.67 L488.20,134.70 L489.00,134.74 L489.80,134.77 L490.60,134.81 L491.40,134.84 L492.20,134.87 L493.00,134.89 L493.80,134.92 L494.60,134.95 L495.40,134.97 L496.20,134.99 L497.00,135.01 L497.80,135.03 L498.60,135.05 L499.40,135.07 L500.20,135.09 L501.00,135.10 L501.80,135.12 L502.60,135.13 L503.40,135.15 L504.20,135.16 L505.00,135.17 L505.80,135.18 L506.60,135.20 L507.40,135.21 L508.20,135.22 L509.00,135.23 L509.80,135.24 L510.60,135.24 L511.40,135.25 L512.20,135.26 L513.00,135.27 L513.80,135.27" fill="none" stroke="#7a8aa8" stroke-width="0.8" stroke-linejoin="round"/>
<path d="M433.00,135.09 L433.80,135.05 L434.60,135.01 L435.40,134.95 L436.20,134.89 L437.00,134.82 L437.80,134.73 L438.60,134.62 L439.40,134.47 L440.20,134.28 L441.00,134.02 L441.80,133.63 L442.60,133.07 L443.40,132.24 L444.20,131.00 L445.00,129.20 L445.80,126.64 L446.60,123.12 L447.40,118.48 L448.20,112.61 L449.00,105.53 L449.80,97.46 L450.60,88.87 L451.40,80.69 L452.20,74.27 L453.00,71.14 L453.80,71.83 L454.60,75.32 L455.40,80.87 L456.20,87.60 L457.00,94.71 L457.80,101.64 L458.60,108.01 L459.40,113.62 L460.20,118.40 L461.00,122.34 L461.80,125.49 L462.60,127.94 L463.40,129.80 L464.20,131.18 L465.00,132.19 L465.80,132.91 L466.60,133.44 L467.40,133.82 L468.20,134.09 L469.00,134.30 L469.80,134.46 L470.60,134.58 L471.40,134.68 L472.20,134.77 L473.00,134.84 L473.80,134.90 L474.60,134.95 L475.40,134.98 L476.20,135.01 L477.00,135.04 L477.80,135.07 L478.60,135.10 L479.40,135.12 L480.20,135.14 L481.00,135.16 L481.80,135.18 L482.60,135.20 L483.40,135.21 L484.20,135.23 L485.00,135.24 L485.80,135.25 L486.60,135.26 L487.40,135.27 L488.20,135.28 L489.00,135.29 L489.80,135.30 L490.60,135.31 L491.40,135.32 L492.20,135.32 L493.00,135.32 L493.80,135.33 L494.60,135.33 L495.40,135.34 L496.20,135.34 L497.00,135.34 L497.80,135.35 L498.60,135.35 L499.40,135.35 L500.20,135.35 L501.00,135.36 L501.80,135.36 L502.60,135.36 L503.40,135.36 L504.20,135.36 L505.00,135.37 L505.80,135.37 L506.60,135.37 L507.40,135.37 L508.20,135.37 L509.00,135.37 L509.80,135.37 L510.60,135.37 L511.40,135.38 L512.20,135.38 L513.00,135.38 L513.80,135.38" fill="none" stroke="#eca262" stroke-width="0.8" stroke-linejoin="round"/>
<path d="M433.00,134.92 L433.80,134.85 L434.60,134.77 L435.40,134.68 L436.20,134.56 L437.00,134.41 L437.80,134.22 L438.60,133.95 L439.40,133.57 L440.20,133.03 L441.00,132.21 L441.80,130.99 L442.60,129.21 L443.40,126.65 L444.20,123.08 L445.00,118.30 L445.80,112.16 L446.60,104.62 L447.40,95.82 L448.20,86.19 L449.00,76.56 L449.80,68.30 L450.60,63.16 L451.40,62.44 L452.20,65.29 L453.00,70.84 L453.80,78.10 L454.60,86.12 L455.40,94.13 L456.20,101.64 L457.00,108.36 L457.80,114.16 L458.60,118.99 L459.40,122.89 L460.20,125.96 L461.00,128.31 L461.80,130.07 L462.60,131.36 L463.40,132.30 L464.20,132.97 L465.00,133.45 L465.80,133.81 L466.60,134.07 L467.40,134.27 L468.20,134.42 L469.00,134.54 L469.80,134.65 L470.60,134.73 L471.40,134.80 L472.20,134.86 L473.00,134.91 L473.80,134.95 L474.60,134.98 L475.40,135.01 L476.20,135.04 L477.00,135.07 L477.80,135.10 L478.60,135.12 L479.40,135.14 L480.20,135.16 L481.00,135.18 L481.80,135.20 L482.60,135.21 L483.40,135.23 L484.20,135.24 L485.00,135.25 L485.80,135.26 L486.60,135.27 L487.40,135.28 L488.20,135.29 L489.00,135.30 L489.80,135.31 L490.60,135.31 L491.40,135.32 L492.20,135.32 L493.00,135.33 L493.80,135.33 L494.60,135.33 L495.40,135.34 L496.20,135.34 L497.00,135.34 L497.80,135.35 L498.60,135.35 L499.40,135.35 L500.20,135.35 L501.00,135.36 L501.80,135.36 L502.60,135.36 L503.40,135.36 L504.20,135.36 L505.00,135.37 L505.80,135.37 L506.60,135.37 L507.40,135.37 L508.20,135.37 L509.00,135.37 L509.80,135.37 L510.60,135.37 L511.40,135.37 L512.20,135.38 L513.00,135.38 L513.80,135.38" fill="none" stroke="#d8d24c" stroke-width="0.8" stroke-linejoin="round"/>
<path d="M450.00,134.66 L451.70,134.49 L453.40,133.58 L455.10,132.56 L456.80,131.21 L458.50,129.66 L460.20,126.27 L461.90,123.03 L463.60,122.09 L465.30,116.02 L467.00,114.24 L468.70,108.51 L470.40,105.37 L472.10,99.45 L473.80,96.55 L475.50,91.46 L477.20,90.31 L478.90,86.45 L480.60,82.04 L482.30,76.39 L484.00,73.95 L485.70,70.22 L487.40,67.17 L489.10,69.00 L490.80,68.67 L492.50,71.03 L494.20,69.53 L495.90,75.74 L497.60,75.53 L499.30,80.60 L501.00,87.86 L502.70,93.55 L504.40,98.09 L506.10,103.75 L507.80,106.78 L509.50,110.36 L511.20,113.29 L512.90,116.72" fill="none" stroke="#959595" stroke-width="1.6" stroke-linejoin="round"/>
<path d="M441.50,135.40 L443.20,135.25 L444.90,133.94 L446.60,134.07 L448.30,133.52 L450.00,133.50 L451.70,131.38 L453.40,129.51 L455.10,129.59 L456.80,125.88 L458.50,124.88 L460.20,121.72 L461.90,118.80 L463.60,115.15 L465.30,108.74 L467.00,107.28 L468.70,101.36 L470.40,97.52 L472.10,89.81 L473.80,86.74 L475.50,83.74 L477.20,79.24 L478.90,72.07 L480.60,73.09 L482.30,72.04 L484.00,71.47 L485.70,69.87 L487.40,64.58 L489.10,68.68 L490.80,68.86 L492.50,74.63 L494.20,72.09 L495.90,74.41 L497.60,79.43 L499.30,80.09 L501.00,88.63 L502.70,94.75 L504.40,100.66 L506.10,105.59 L507.80,108.05 L509.50,112.18 L511.20,116.82 L512.90,120.22" fill="none" stroke="#111" stroke-width="1.75" stroke-linejoin="round"/>
<text transform="translate(419.90,93.85) rotate(-90)" x="0" y="0" font-size="11.5" fill="#222" stroke="#222" stroke-width="0.16" text-anchor="middle" textLength="20.6" lengthAdjust="spacingAndGlyphs">Count</text>
<line x1="429.70" y1="135.70" x2="432.50" y2="135.70" stroke="#555" stroke-width="0.9"/>
<text x="429.90" y="138.30" font-size="8.0" fill="#333" text-anchor="end" textLength="4.00" lengthAdjust="spacingAndGlyphs" stroke="#333" stroke-width="0.07">0</text>
<text x="438.95" y="147.70" font-size="8.2" fill="#222" text-anchor="start" textLength="4.00" lengthAdjust="spacingAndGlyphs" stroke="#222" stroke-width="0.07">0</text>
<text x="444.90" y="147.70" font-size="8.2" fill="#222" text-anchor="start" textLength="7.90" lengthAdjust="spacingAndGlyphs" stroke="#222" stroke-width="0.07">10</text>
<text x="452.60" y="144.40" font-size="5.4" fill="#222" text-anchor="start" stroke="#222" stroke-width="0.07">2</text>
<text x="463.00" y="147.70" font-size="8.2" fill="#222" text-anchor="start" textLength="7.90" lengthAdjust="spacingAndGlyphs" stroke="#222" stroke-width="0.07">10</text>
<text x="470.70" y="144.40" font-size="5.4" fill="#222" text-anchor="start" stroke="#222" stroke-width="0.07">3</text>
<text x="481.20" y="147.70" font-size="8.2" fill="#222" text-anchor="start" textLength="7.90" lengthAdjust="spacingAndGlyphs" stroke="#222" stroke-width="0.07">10</text>
<text x="488.90" y="144.40" font-size="5.4" fill="#222" text-anchor="start" stroke="#222" stroke-width="0.07">4</text>
<text x="497.60" y="147.70" font-size="8.2" fill="#222" text-anchor="start" textLength="7.90" lengthAdjust="spacingAndGlyphs" stroke="#222" stroke-width="0.07">10</text>
<text x="505.30" y="144.40" font-size="5.4" fill="#222" text-anchor="start" stroke="#222" stroke-width="0.07">5</text>
<text x="473.00" y="161.50" font-size="10.2" fill="#222" text-anchor="middle" textLength="21.00" lengthAdjust="spacingAndGlyphs" stroke="#222" stroke-width="0.04">APC-A</text>
<text x="473.00" y="173.60" font-size="10.0" fill="#222" text-anchor="middle" textLength="48.40" lengthAdjust="spacingAndGlyphs" stroke="#222" stroke-width="0.04">HM16,epD6.4</text>
<text x="459.50" y="64.60" font-size="7.9" fill="#111" text-anchor="start" font-style="italic" textLength="40.50" lengthAdjust="spacingAndGlyphs" stroke="#111" stroke-width="0.07">RHD*1227A</text>
<line x1="469.30" y1="67.30" x2="473.25" y2="75.55" stroke="#111" stroke-width="1.0"/>
<polygon points="474.80,78.80 471.71,76.29 474.78,74.82" fill="#111"/>
<text x="477.00" y="103.80" font-size="7.9" fill="#9a9a9a" text-anchor="start" textLength="24.30" lengthAdjust="spacingAndGlyphs" stroke="#9a9a9a" stroke-width="0.07">wt <tspan font-style="italic">RHD</tspan></text>
<line x1="486.50" y1="96.50" x2="484.33" y2="91.86" stroke="#9a9a9a" stroke-width="1.0"/>
<polygon points="482.80,88.60 485.87,91.14 482.79,92.58" fill="#9a9a9a"/>
<rect x="432.50" y="193.60" width="82.00" height="84.60" fill="#fff" stroke="#8a8a8a" stroke-width="1.1"/>
<path d="M433.00,277.67 L433.80,277.64 L434.60,277.61 L435.40,277.57 L436.20,277.53 L437.00,277.48 L437.80,277.42 L438.60,277.35 L439.40,277.26 L440.20,277.15 L441.00,277.01 L441.80,276.83 L442.60,276.58 L443.40,276.23 L444.20,275.69 L445.00,274.88 L445.80,273.63 L446.60,271.74 L447.40,268.97 L448.20,265.03 L449.00,259.69 L449.80,252.80 L450.60,244.37 L451.40,234.71 L452.20,224.55 L453.00,215.25 L453.80,208.79 L454.60,207.06 L455.40,209.43 L456.20,214.74 L457.00,221.95 L457.80,230.01 L458.60,238.08 L459.40,245.62 L460.20,252.31 L461.00,258.03 L461.80,262.75 L462.60,266.50 L463.40,269.41 L464.20,271.60 L465.00,272.85 L465.80,273.07 L466.60,273.28 L467.40,273.48 L468.20,273.67 L469.00,273.86 L469.80,274.03 L470.60,274.20 L471.40,274.36 L472.20,274.51 L473.00,274.66 L473.80,274.80 L474.60,274.94 L475.40,275.07 L476.20,275.19 L477.00,275.31 L477.80,275.42 L478.60,275.53 L479.40,275.63 L480.20,275.73 L481.00,275.82 L481.80,275.91 L482.60,276.00 L483.40,276.08 L484.20,276.16 L485.00,276.24 L485.80,276.31 L486.60,276.38 L487.40,276.45 L488.20,276.51 L489.00,276.57 L489.80,276.63 L490.60,276.68 L491.40,276.73 L492.20,276.79 L493.00,276.83 L493.80,276.88 L494.60,276.92 L495.40,276.97 L496.20,277.01 L497.00,277.05 L497.80,277.08 L498.60,277.12 L499.40,277.15 L500.20,277.19 L501.00,277.22 L501.80,277.25 L502.60,277.27 L503.40,277.30 L504.20,277.33 L505.00,277.35 L505.80,277.38 L506.60,277.40 L507.40,277.42 L508.20,277.44 L509.00,277.46 L509.80,277.48 L510.60,277.50 L511.40,277.52 L512.20,277.53 L513.00,277.55 L513.80,277.56" fill="none" stroke="#5a5250" stroke-width="0.8" stroke-linejoin="round"/>
<path d="M433.00,277.72 L433.80,277.70 L434.60,277.68 L435.40,277.65 L436.20,277.62 L437.00,277.59 L437.80,277.55 L438.60,277.50 L439.40,277.44 L440.20,277.37 L441.00,277.29 L441.80,277.19 L442.60,277.06 L443.40,276.89 L444.20,276.66 L445.00,276.32 L445.80,275.82 L446.60,275.07 L447.40,273.90 L448.20,272.14 L449.00,269.54 L449.80,265.85 L450.60,260.82 L451.40,254.32 L452.20,246.34 L453.00,237.14 L453.80,227.41 L454.60,218.40 L455.40,211.99 L456.20,210.03 L457.00,212.10 L457.80,217.03 L458.60,223.85 L459.40,231.55 L460.20,239.29 L461.00,246.55 L461.80,253.02 L462.60,258.56 L463.40,263.13 L464.20,266.79 L465.00,269.62 L465.80,271.75 L466.60,273.05 L467.40,273.26 L468.20,273.46 L469.00,273.66 L469.80,273.84 L470.60,274.02 L471.40,274.19 L472.20,274.35 L473.00,274.50 L473.80,274.65 L474.60,274.79 L475.40,274.93 L476.20,275.05 L477.00,275.18 L477.80,275.30 L478.60,275.41 L479.40,275.52 L480.20,275.62 L481.00,275.72 L481.80,275.82 L482.60,275.91 L483.40,275.99 L484.20,276.08 L485.00,276.15 L485.80,276.23 L486.60,276.30 L487.40,276.37 L488.20,276.44 L489.00,276.50 L489.80,276.56 L490.60,276.62 L491.40,276.68 L492.20,276.73 L493.00,276.78 L493.80,276.83 L494.60,276.88 L495.40,276.92 L496.20,276.96 L497.00,277.00 L497.80,277.04 L498.60,277.08 L499.40,277.12 L500.20,277.15 L501.00,277.18 L501.80,277.21 L502.60,277.24 L503.40,277.27 L504.20,277.30 L505.00,277.33 L505.80,277.35 L506.60,277.37 L507.40,277.40 L508.20,277.42 L509.00,277.44 L509.80,277.46 L510.60,277.48 L511.40,277.50 L512.20,277.51 L513.00,277.53 L513.80,277.55" fill="none" stroke="#9a8cb8" stroke-width="0.8" stroke-linejoin="round"/>
<path d="M433.00,277.63 L433.80,277.60 L434.60,277.56 L435.40,277.52 L436.20,277.47 L437.00,277.40 L437.80,277.33 L438.60,277.24 L439.40,277.12 L440.20,276.98 L441.00,276.78 L441.80,276.51 L442.60,276.11 L443.40,275.52 L444.20,274.60 L445.00,273.20 L445.80,271.10 L446.60,268.04 L447.40,263.76 L448.20,258.05 L449.00,250.79 L449.80,242.08 L450.60,232.33 L451.40,222.42 L452.20,213.92 L453.00,208.88 L453.80,208.63 L454.60,211.95 L455.40,217.87 L456.20,225.33 L457.00,233.33 L457.80,241.14 L458.60,248.32 L459.40,254.61 L460.20,259.92 L461.00,264.25 L461.80,267.67 L462.60,270.30 L463.40,272.25 L464.20,273.68 L465.00,274.71 L465.80,275.44 L466.60,275.96 L467.40,276.16 L468.20,276.28 L469.00,276.38 L469.80,276.48 L470.60,276.57 L471.40,276.66 L472.20,276.74 L473.00,276.81 L473.80,276.88 L474.60,276.95 L475.40,277.01 L476.20,277.07 L477.00,277.12 L477.80,277.17 L478.60,277.22 L479.40,277.26 L480.20,277.30 L481.00,277.34 L481.80,277.38 L482.60,277.41 L483.40,277.44 L484.20,277.47 L485.00,277.50 L485.80,277.53 L486.60,277.55 L487.40,277.57 L488.20,277.59 L489.00,277.61 L489.80,277.63 L490.60,277.65 L491.40,277.67 L492.20,277.68 L493.00,277.69 L493.80,277.71 L494.60,277.72 L495.40,277.73 L496.20,277.74 L497.00,277.75 L497.80,277.76 L498.60,277.77 L499.40,277.78 L500.20,277.79 L501.00,277.79 L501.80,277.80 L502.60,277.81 L503.40,277.81 L504.20,277.82 L505.00,277.82 L505.80,277.83 L506.60,277.83 L507.40,277.84 L508.20,277.84 L509.00,277.85 L509.80,277.85 L510.60,277.85 L511.40,277.86 L512.20,277.86 L513.00,277.86 L513.80,277.86" fill="none" stroke="#4f9ea4" stroke-width="0.8" stroke-linejoin="round"/>
<path d="M433.00,277.59 L433.80,277.55 L434.60,277.50 L435.40,277.44 L436.20,277.38 L437.00,277.30 L437.80,277.20 L438.60,277.07 L439.40,276.91 L440.20,276.70 L441.00,276.39 L441.80,275.94 L442.60,275.25 L443.40,274.19 L444.20,272.59 L445.00,270.19 L445.80,266.75 L446.60,262.00 L447.40,255.76 L448.20,247.96 L449.00,238.78 L449.80,228.77 L450.60,219.02 L451.40,211.31 L452.20,207.70 L453.00,208.75 L453.80,213.02 L454.60,219.59 L455.40,227.38 L456.20,235.45 L457.00,243.17 L457.80,250.15 L458.60,256.19 L459.40,261.24 L460.20,265.31 L461.00,268.49 L461.80,270.91 L462.60,272.71 L463.40,274.01 L464.20,274.94 L465.00,275.60 L465.80,276.07 L466.60,276.18 L467.40,276.30 L468.20,276.40 L469.00,276.50 L469.80,276.59 L470.60,276.67 L471.40,276.75 L472.20,276.82 L473.00,276.89 L473.80,276.96 L474.60,277.02 L475.40,277.08 L476.20,277.13 L477.00,277.18 L477.80,277.23 L478.60,277.27 L479.40,277.31 L480.20,277.35 L481.00,277.38 L481.80,277.42 L482.60,277.45 L483.40,277.48 L484.20,277.50 L485.00,277.53 L485.80,277.55 L486.60,277.58 L487.40,277.60 L488.20,277.62 L489.00,277.63 L489.80,277.65 L490.60,277.67 L491.40,277.68 L492.20,277.70 L493.00,277.71 L493.80,277.72 L494.60,277.73 L495.40,277.74 L496.20,277.75 L497.00,277.76 L497.80,277.77 L498.60,277.78 L499.40,277.79 L500.20,277.80 L501.00,277.80 L501.80,277.81 L502.60,277.81 L503.40,277.82 L504.20,277.83 L505.00,277.83 L505.80,277.83 L506.60,277.84 L507.40,277.84 L508.20,277.85 L509.00,277.85 L509.80,277.85 L510.60,277.86 L511.40,277.86 L512.20,277.86 L513.00,277.86 L513.80,277.87" fill="none" stroke="#78b246" stroke-width="0.8" stroke-linejoin="round"/>
<path d="M433.00,277.71 L433.80,277.69 L434.60,277.66 L435.40,277.64 L436.20,277.60 L437.00,277.57 L437.80,277.52 L438.60,277.47 L439.40,277.41 L440.20,277.34 L441.00,277.25 L441.80,277.13 L442.60,276.99 L443.40,276.79 L444.20,276.53 L445.00,276.13 L445.80,275.54 L446.60,274.64 L447.40,273.26 L448.20,271.18 L449.00,268.16 L449.80,263.93 L450.60,258.28 L451.40,251.10 L452.20,242.49 L453.00,232.85 L453.80,223.06 L454.60,214.66 L455.40,209.67 L456.20,209.43 L457.00,212.71 L457.80,218.56 L458.60,225.93 L459.40,233.84 L460.20,241.56 L461.00,248.66 L461.80,254.88 L462.60,260.13 L463.40,264.41 L464.20,267.79 L465.00,270.38 L465.80,272.32 L466.60,273.06 L467.40,273.27 L468.20,273.47 L469.00,273.66 L469.80,273.85 L470.60,274.02 L471.40,274.19 L472.20,274.35 L473.00,274.51 L473.80,274.66 L474.60,274.80 L475.40,274.93 L476.20,275.06 L477.00,275.18 L477.80,275.30 L478.60,275.42 L479.40,275.52 L480.20,275.63 L481.00,275.73 L481.80,275.82 L482.60,275.91 L483.40,276.00 L484.20,276.08 L485.00,276.16 L485.80,276.23 L486.60,276.31 L487.40,276.38 L488.20,276.44 L489.00,276.51 L489.80,276.57 L490.60,276.62 L491.40,276.68 L492.20,276.73 L493.00,276.78 L493.80,276.83 L494.60,276.88 L495.40,276.92 L496.20,276.97 L497.00,277.01 L497.80,277.04 L498.60,277.08 L499.40,277.12 L500.20,277.15 L501.00,277.18 L501.80,277.22 L502.60,277.24 L503.40,277.27 L504.20,277.30 L505.00,277.33 L505.80,277.35 L506.60,277.38 L507.40,277.40 L508.20,277.42 L509.00,277.44 L509.80,277.46 L510.60,277.48 L511.40,277.50 L512.20,277.52 L513.00,277.53 L513.80,277.55" fill="none" stroke="#7a8aa8" stroke-width="0.8" stroke-linejoin="round"/>
<path d="M433.00,277.70 L433.80,277.68 L434.60,277.66 L435.40,277.63 L436.20,277.59 L437.00,277.55 L437.80,277.50 L438.60,277.45 L439.40,277.38 L440.20,277.29 L441.00,277.18 L441.80,277.05 L442.60,276.86 L443.40,276.61 L444.20,276.23 L445.00,275.66 L445.80,274.79 L446.60,273.46 L447.40,271.47 L448.20,268.59 L449.00,264.57 L449.80,259.24 L450.60,252.52 L451.40,244.51 L452.20,235.64 L453.00,226.77 L453.80,219.39 L454.60,215.34 L455.40,215.61 L456.20,218.95 L457.00,224.51 L457.80,231.35 L458.60,238.58 L459.40,245.57 L460.20,251.96 L461.00,257.53 L461.80,262.21 L462.60,266.01 L463.40,269.00 L464.20,271.29 L465.00,272.99 L465.80,274.23 L466.60,275.12 L467.40,275.75 L468.20,276.20 L469.00,276.35 L469.80,276.45 L470.60,276.54 L471.40,276.63 L472.20,276.71 L473.00,276.79 L473.80,276.86 L474.60,276.93 L475.40,276.99 L476.20,277.05 L477.00,277.10 L477.80,277.15 L478.60,277.20 L479.40,277.25 L480.20,277.29 L481.00,277.33 L481.80,277.37 L482.60,277.40 L483.40,277.43 L484.20,277.46 L485.00,277.49 L485.80,277.52 L486.60,277.54 L487.40,277.56 L488.20,277.59 L489.00,277.61 L489.80,277.63 L490.60,277.64 L491.40,277.66 L492.20,277.68 L493.00,277.69 L493.80,277.70 L494.60,277.72 L495.40,277.73 L496.20,277.74 L497.00,277.75 L497.80,277.76 L498.60,277.77 L499.40,277.78 L500.20,277.78 L501.00,277.79 L501.80,277.80 L502.60,277.81 L503.40,277.81 L504.20,277.82 L505.00,277.82 L505.80,277.83 L506.60,277.83 L507.40,277.84 L508.20,277.84 L509.00,277.84 L509.80,277.85 L510.60,277.85 L511.40,277.85 L512.20,277.86 L513.00,277.86 L513.80,277.86" fill="none" stroke="#eca262" stroke-width="0.8" stroke-linejoin="round"/>
<path d="M433.00,277.60 L433.80,277.56 L434.60,277.52 L435.40,277.47 L436.20,277.41 L437.00,277.33 L437.80,277.24 L438.60,277.13 L439.40,276.99 L440.20,276.81 L441.00,276.55 L441.80,276.18 L442.60,275.63 L443.40,274.78 L444.20,273.49 L445.00,271.53 L445.80,268.65 L446.60,264.59 L447.40,259.10 L448.20,252.03 L449.00,243.42 L449.80,233.59 L450.60,223.32 L451.40,214.03 L452.20,207.75 L453.00,206.31 L453.80,208.92 L454.60,214.44 L455.40,221.81 L456.20,229.99 L457.00,238.12 L457.80,245.70 L458.60,252.42 L459.40,258.14 L460.20,262.84 L461.00,266.58 L461.80,269.47 L462.60,271.65 L463.40,273.24 L464.20,274.39 L465.00,275.21 L465.80,275.79 L466.60,276.08 L467.40,276.20 L468.20,276.31 L469.00,276.41 L469.80,276.51 L470.60,276.60 L471.40,276.68 L472.20,276.76 L473.00,276.83 L473.80,276.90 L474.60,276.97 L475.40,277.03 L476.20,277.08 L477.00,277.14 L477.80,277.19 L478.60,277.23 L479.40,277.27 L480.20,277.32 L481.00,277.35 L481.80,277.39 L482.60,277.42 L483.40,277.45 L484.20,277.48 L485.00,277.51 L485.80,277.53 L486.60,277.56 L487.40,277.58 L488.20,277.60 L489.00,277.62 L489.80,277.64 L490.60,277.65 L491.40,277.67 L492.20,277.68 L493.00,277.70 L493.80,277.71 L494.60,277.72 L495.40,277.74 L496.20,277.75 L497.00,277.76 L497.80,277.77 L498.60,277.77 L499.40,277.78 L500.20,277.79 L501.00,277.80 L501.80,277.80 L502.60,277.81 L503.40,277.82 L504.20,277.82 L505.00,277.83 L505.80,277.83 L506.60,277.84 L507.40,277.84 L508.20,277.84 L509.00,277.85 L509.80,277.85 L510.60,277.85 L511.40,277.86 L512.20,277.86 L513.00,277.86 L513.80,277.86" fill="none" stroke="#d8d24c" stroke-width="0.8" stroke-linejoin="round"/>
<path d="M455.00,278.00 L456.70,276.29 L458.40,273.50 L460.10,272.34 L461.80,268.14 L463.50,261.74 L465.20,257.94 L466.90,253.66 L468.60,247.75 L470.30,241.06 L472.00,238.39 L473.70,233.24 L475.40,227.21 L477.10,221.10 L478.80,221.74 L480.50,216.40 L482.20,222.90 L483.90,220.07 L485.60,219.29 L487.30,213.65 L489.00,218.39 L490.70,221.75 L492.40,217.68 L494.10,214.96 L495.80,218.65 L497.50,217.77 L499.20,223.60 L500.90,226.87 L502.60,222.91 L504.30,221.03 L506.00,224.68 L507.70,226.90 L509.40,229.54 L511.10,236.73 L512.80,241.05" fill="none" stroke="#959595" stroke-width="1.6" stroke-linejoin="round"/>
<path d="M446.00,277.27 L447.70,276.79 L449.40,276.39 L451.10,273.53 L452.80,269.26 L454.50,263.19 L456.20,259.31 L457.90,255.72 L459.60,255.22 L461.30,253.01 L463.00,249.61 L464.70,245.95 L466.40,240.13 L468.10,236.36 L469.80,233.87 L471.50,230.09 L473.20,225.60 L474.90,223.81 L476.60,221.26 L478.30,221.52 L480.00,215.31 L481.70,215.94 L483.40,215.33 L485.10,212.85 L486.80,213.60 L488.50,216.64 L490.20,210.92 L491.90,210.29 L493.60,209.18 L495.30,210.73 L497.00,215.00 L498.70,219.90 L500.40,223.24 L502.10,227.92 L503.80,235.34 L505.50,236.64 L507.20,242.71 L508.90,244.87 L510.60,249.19 L512.30,252.20 L514.00,257.25" fill="none" stroke="#111" stroke-width="1.75" stroke-linejoin="round"/>
<text transform="translate(419.90,236.60) rotate(-90)" x="0" y="0" font-size="11.5" fill="#222" stroke="#222" stroke-width="0.16" text-anchor="middle" textLength="20.6" lengthAdjust="spacingAndGlyphs">Count</text>
<line x1="429.70" y1="278.20" x2="432.50" y2="278.20" stroke="#555" stroke-width="0.9"/>
<text x="429.90" y="280.80" font-size="8.0" fill="#333" text-anchor="end" textLength="4.00" lengthAdjust="spacingAndGlyphs" stroke="#333" stroke-width="0.07">0</text>
<text x="439.15" y="290.20" font-size="8.2" fill="#222" text-anchor="start" textLength="4.00" lengthAdjust="spacingAndGlyphs" stroke="#222" stroke-width="0.07">0</text>
<text x="445.70" y="290.20" font-size="8.2" fill="#222" text-anchor="start" textLength="7.90" lengthAdjust="spacingAndGlyphs" stroke="#222" stroke-width="0.07">10</text>
<text x="453.40" y="286.90" font-size="5.4" fill="#222" text-anchor="start" stroke="#222" stroke-width="0.07">2</text>
<text x="463.90" y="290.20" font-size="8.2" fill="#222" text-anchor="start" textLength="7.90" lengthAdjust="spacingAndGlyphs" stroke="#222" stroke-width="0.07">10</text>
<text x="471.60" y="286.90" font-size="5.4" fill="#222" text-anchor="start" stroke="#222" stroke-width="0.07">3</text>
<text x="482.10" y="290.20" font-size="8.2" fill="#222" text-anchor="start" textLength="7.90" lengthAdjust="spacingAndGlyphs" stroke="#222" stroke-width="0.07">10</text>
<text x="489.80" y="286.90" font-size="5.4" fill="#222" text-anchor="start" stroke="#222" stroke-width="0.07">4</text>
<text x="498.50" y="290.20" font-size="8.2" fill="#222" text-anchor="start" textLength="7.90" lengthAdjust="spacingAndGlyphs" stroke="#222" stroke-width="0.07">10</text>
<text x="506.20" y="286.90" font-size="5.4" fill="#222" text-anchor="start" stroke="#222" stroke-width="0.07">5</text>
<text x="473.00" y="304.00" font-size="10.2" fill="#222" text-anchor="middle" textLength="21.00" lengthAdjust="spacingAndGlyphs" stroke="#222" stroke-width="0.04">APC-A</text>
<text x="473.00" y="316.10" font-size="10.0" fill="#222" text-anchor="middle" textLength="70.00" lengthAdjust="spacingAndGlyphs" stroke="#222" stroke-width="0.04">LHM169/81, epD1.1</text>
<text x="472.50" y="205.60" font-size="7.9" fill="#111" text-anchor="start" font-style="italic" textLength="40.00" lengthAdjust="spacingAndGlyphs" stroke="#111" stroke-width="0.07">RHD*1227A</text>
<line x1="504.00" y1="207.00" x2="501.48" y2="211.13" stroke="#111" stroke-width="1.0"/>
<polygon points="499.60,214.20 500.03,210.24 502.93,212.01" fill="#111"/>
<text x="475.00" y="242.60" font-size="7.9" fill="#9a9a9a" text-anchor="start" textLength="20.00" lengthAdjust="spacingAndGlyphs" stroke="#9a9a9a" stroke-width="0.07">wt <tspan font-style="italic">RHD</tspan></text>
<line x1="483.60" y1="236.60" x2="483.60" y2="232.20" stroke="#9a9a9a" stroke-width="1.0"/>
<polygon points="483.60,228.60 485.30,232.20 481.90,232.20" fill="#9a9a9a"/>
<rect x="432.50" y="336.00" width="82.00" height="84.70" fill="#fff" stroke="#8a8a8a" stroke-width="1.1"/>
<path d="M433.00,420.11 L433.80,420.07 L434.60,420.01 L435.40,419.95 L436.20,419.88 L437.00,419.78 L437.80,419.66 L438.60,419.51 L439.40,419.30 L440.20,418.99 L441.00,418.52 L441.80,417.77 L442.60,416.52 L443.40,414.47 L444.20,411.22 L445.00,406.29 L445.80,399.29 L446.60,389.99 L447.40,378.59 L448.20,365.98 L449.00,354.17 L449.80,346.47 L450.60,345.68 L451.40,350.18 L452.20,358.20 L453.00,367.95 L453.80,377.93 L454.60,387.17 L455.40,395.18 L456.20,401.76 L457.00,406.92 L457.80,410.81 L458.60,413.61 L459.40,414.18 L460.20,414.48 L461.00,414.76 L461.80,415.02 L462.60,415.28 L463.40,415.52 L464.20,415.75 L465.00,415.97 L465.80,416.18 L466.60,416.38 L467.40,416.57 L468.20,416.75 L469.00,416.92 L469.80,417.09 L470.60,417.25 L471.40,417.39 L472.20,417.54 L473.00,417.67 L473.80,417.80 L474.60,417.92 L475.40,418.04 L476.20,418.15 L477.00,418.26 L477.80,418.36 L478.60,418.46 L479.40,418.55 L480.20,418.64 L481.00,418.72 L481.80,418.80 L482.60,418.88 L483.40,418.95 L484.20,419.02 L485.00,419.08 L485.80,419.14 L486.60,419.20 L487.40,419.26 L488.20,419.31 L489.00,419.37 L489.80,419.41 L490.60,419.46 L491.40,419.51 L492.20,419.55 L493.00,419.59 L493.80,419.63 L494.60,419.66 L495.40,419.70 L496.20,419.73 L497.00,419.76 L497.80,419.79 L498.60,419.82 L499.40,419.85 L500.20,419.88 L501.00,419.90 L501.80,419.92 L502.60,419.95 L503.40,419.97 L504.20,419.99 L505.00,420.01 L505.80,420.03 L506.60,420.04 L507.40,420.06 L508.20,420.08 L509.00,420.09 L509.80,420.11 L510.60,420.12 L511.40,420.13 L512.20,420.15 L513.00,420.16 L513.80,420.17" fill="none" stroke="#5a5250" stroke-width="0.8" stroke-linejoin="round"/>
<path d="M433.00,420.19 L433.80,420.16 L434.60,420.12 L435.40,420.08 L436.20,420.03 L437.00,419.97 L437.80,419.90 L438.60,419.81 L439.40,419.70 L440.20,419.55 L441.00,419.36 L441.80,419.07 L442.60,418.63 L443.40,417.93 L444.20,416.77 L445.00,414.86 L445.80,411.82 L446.60,407.21 L447.40,400.61 L448.20,391.83 L449.00,380.99 L449.80,368.91 L450.60,357.45 L451.40,349.70 L452.20,348.54 L453.00,352.59 L453.80,360.13 L454.60,369.44 L455.40,379.04 L456.20,387.98 L457.00,395.75 L457.80,402.15 L458.60,407.19 L459.40,410.99 L460.20,413.74 L461.00,414.41 L461.80,414.69 L462.60,414.96 L463.40,415.22 L464.20,415.47 L465.00,415.70 L465.80,415.92 L466.60,416.13 L467.40,416.34 L468.20,416.53 L469.00,416.71 L469.80,416.89 L470.60,417.05 L471.40,417.21 L472.20,417.36 L473.00,417.51 L473.80,417.64 L474.60,417.77 L475.40,417.90 L476.20,418.02 L477.00,418.13 L477.80,418.24 L478.60,418.34 L479.40,418.44 L480.20,418.53 L481.00,418.62 L481.80,418.70 L482.60,418.78 L483.40,418.86 L484.20,418.93 L485.00,419.00 L485.80,419.07 L486.60,419.13 L487.40,419.19 L488.20,419.25 L489.00,419.30 L489.80,419.35 L490.60,419.40 L491.40,419.45 L492.20,419.50 L493.00,419.54 L493.80,419.58 L494.60,419.62 L495.40,419.66 L496.20,419.69 L497.00,419.72 L497.80,419.76 L498.60,419.79 L499.40,419.82 L500.20,419.84 L501.00,419.87 L501.80,419.89 L502.60,419.92 L503.40,419.94 L504.20,419.96 L505.00,419.98 L505.80,420.00 L506.60,420.02 L507.40,420.04 L508.20,420.06 L509.00,420.07 L509.80,420.09 L510.60,420.10 L511.40,420.12 L512.20,420.13 L513.00,420.14 L513.80,420.16" fill="none" stroke="#9a8cb8" stroke-width="0.8" stroke-linejoin="round"/>
<path d="M433.00,420.06 L433.80,420.00 L434.60,419.94 L435.40,419.86 L436.20,419.76 L437.00,419.63 L437.80,419.47 L438.60,419.23 L439.40,418.89 L440.20,418.36 L441.00,417.49 L441.80,416.05 L442.60,413.71 L443.40,410.05 L444.20,404.60 L445.00,397.01 L445.80,387.17 L446.60,375.44 L447.40,363.00 L448.20,352.26 L449.00,346.65 L449.80,347.79 L450.60,353.47 L451.40,362.09 L452.20,371.89 L453.00,381.56 L453.80,390.31 L454.60,397.76 L455.40,403.79 L456.20,408.46 L457.00,411.93 L457.80,414.41 L458.60,416.13 L459.40,417.30 L460.20,417.95 L461.00,418.12 L461.80,418.28 L462.60,418.43 L463.40,418.57 L464.20,418.70 L465.00,418.82 L465.80,418.93 L466.60,419.03 L467.40,419.13 L468.20,419.22 L469.00,419.30 L469.80,419.38 L470.60,419.45 L471.40,419.51 L472.20,419.58 L473.00,419.63 L473.80,419.69 L474.60,419.74 L475.40,419.78 L476.20,419.83 L477.00,419.87 L477.80,419.91 L478.60,419.94 L479.40,419.97 L480.20,420.00 L481.00,420.03 L481.80,420.06 L482.60,420.08 L483.40,420.10 L484.20,420.12 L485.00,420.14 L485.80,420.16 L486.60,420.18 L487.40,420.19 L488.20,420.21 L489.00,420.22 L489.80,420.23 L490.60,420.25 L491.40,420.26 L492.20,420.27 L493.00,420.28 L493.80,420.28 L494.60,420.29 L495.40,420.30 L496.20,420.31 L497.00,420.31 L497.80,420.32 L498.60,420.33 L499.40,420.33 L500.20,420.34 L501.00,420.34 L501.80,420.34 L502.60,420.35 L503.40,420.35 L504.20,420.36 L505.00,420.36 L505.80,420.36 L506.60,420.36 L507.40,420.37 L508.20,420.37 L509.00,420.37 L509.80,420.37 L510.60,420.37 L511.40,420.38 L512.20,420.38 L513.00,420.38 L513.80,420.38" fill="none" stroke="#4f9ea4" stroke-width="0.8" stroke-linejoin="round"/>
<path d="M433.00,419.98 L433.80,419.91 L434.60,419.83 L435.40,419.72 L436.20,419.58 L437.00,419.39 L437.80,419.13 L438.60,418.74 L439.40,418.12 L440.20,417.09 L441.00,415.40 L441.80,412.67 L442.60,408.46 L443.40,402.32 L444.20,393.96 L445.00,383.37 L445.80,371.15 L446.60,358.81 L447.40,349.22 L448.20,345.81 L449.00,348.57 L449.80,355.41 L450.60,364.65 L451.40,374.60 L452.20,384.13 L453.00,392.57 L453.80,399.63 L454.60,405.27 L455.40,409.58 L456.20,412.73 L457.00,414.97 L457.80,416.51 L458.60,417.55 L459.40,417.99 L460.20,418.15 L461.00,418.31 L461.80,418.46 L462.60,418.60 L463.40,418.72 L464.20,418.84 L465.00,418.95 L465.80,419.05 L466.60,419.15 L467.40,419.23 L468.20,419.32 L469.00,419.39 L469.80,419.46 L470.60,419.53 L471.40,419.59 L472.20,419.65 L473.00,419.70 L473.80,419.75 L474.60,419.79 L475.40,419.84 L476.20,419.88 L477.00,419.91 L477.80,419.95 L478.60,419.98 L479.40,420.01 L480.20,420.04 L481.00,420.06 L481.80,420.08 L482.60,420.11 L483.40,420.13 L484.20,420.15 L485.00,420.16 L485.80,420.18 L486.60,420.20 L487.40,420.21 L488.20,420.22 L489.00,420.24 L489.80,420.25 L490.60,420.26 L491.40,420.27 L492.20,420.28 L493.00,420.29 L493.80,420.29 L494.60,420.30 L495.40,420.31 L496.20,420.31 L497.00,420.32 L497.80,420.33 L498.60,420.33 L499.40,420.34 L500.20,420.34 L501.00,420.34 L501.80,420.35 L502.60,420.35 L503.40,420.36 L504.20,420.36 L505.00,420.36 L505.80,420.36 L506.60,420.37 L507.40,420.37 L508.20,420.37 L509.00,420.37 L509.80,420.38 L510.60,420.38 L511.40,420.38 L512.20,420.38 L513.00,420.38 L513.80,420.38" fill="none" stroke="#78b246" stroke-width="0.8" stroke-linejoin="round"/>
<path d="M433.00,420.17 L433.80,420.14 L434.60,420.10 L435.40,420.06 L436.20,420.01 L437.00,419.94 L437.80,419.86 L438.60,419.77 L439.40,419.64 L440.20,419.48 L441.00,419.25 L441.80,418.91 L442.60,418.38 L443.40,417.52 L444.20,416.10 L445.00,413.79 L445.80,410.16 L446.60,404.77 L447.40,397.26 L448.20,387.53 L449.00,375.93 L449.80,363.62 L450.60,352.99 L451.40,347.45 L452.20,348.57 L453.00,354.20 L453.80,362.72 L454.60,372.41 L455.40,381.98 L456.20,390.64 L457.00,398.01 L457.80,403.97 L458.60,408.59 L459.40,412.02 L460.20,414.14 L461.00,414.44 L461.80,414.72 L462.60,414.99 L463.40,415.24 L464.20,415.49 L465.00,415.72 L465.80,415.94 L466.60,416.15 L467.40,416.35 L468.20,416.55 L469.00,416.73 L469.80,416.90 L470.60,417.07 L471.40,417.23 L472.20,417.38 L473.00,417.52 L473.80,417.65 L474.60,417.78 L475.40,417.91 L476.20,418.03 L477.00,418.14 L477.80,418.25 L478.60,418.35 L479.40,418.44 L480.20,418.54 L481.00,418.63 L481.80,418.71 L482.60,418.79 L483.40,418.87 L484.20,418.94 L485.00,419.01 L485.80,419.07 L486.60,419.14 L487.40,419.20 L488.20,419.25 L489.00,419.31 L489.80,419.36 L490.60,419.41 L491.40,419.46 L492.20,419.50 L493.00,419.54 L493.80,419.58 L494.60,419.62 L495.40,419.66 L496.20,419.69 L497.00,419.73 L497.80,419.76 L498.60,419.79 L499.40,419.82 L500.20,419.85 L501.00,419.87 L501.80,419.90 L502.60,419.92 L503.40,419.94 L504.20,419.97 L505.00,419.99 L505.80,420.01 L506.60,420.02 L507.40,420.04 L508.20,420.06 L509.00,420.07 L509.80,420.09 L510.60,420.10 L511.40,420.12 L512.20,420.13 L513.00,420.14 L513.80,420.16" fill="none" stroke="#7a8aa8" stroke-width="0.8" stroke-linejoin="round"/>
<path d="M433.00,420.16 L433.80,420.12 L434.60,420.08 L435.40,420.03 L436.20,419.97 L437.00,419.90 L437.80,419.81 L438.60,419.69 L439.40,419.53 L440.20,419.31 L441.00,418.98 L441.80,418.47 L442.60,417.63 L443.40,416.24 L444.20,413.99 L445.00,410.48 L445.80,405.30 L446.60,398.15 L447.40,388.97 L448.20,378.16 L449.00,366.91 L449.80,357.56 L450.60,353.26 L451.40,354.91 L452.20,360.49 L453.00,368.53 L453.80,377.47 L454.60,386.18 L455.40,393.99 L456.20,400.60 L457.00,405.91 L457.80,410.01 L458.60,413.03 L459.40,415.19 L460.20,416.68 L461.00,417.69 L461.80,418.20 L462.60,418.35 L463.40,418.49 L464.20,418.63 L465.00,418.75 L465.80,418.87 L466.60,418.97 L467.40,419.07 L468.20,419.17 L469.00,419.25 L469.80,419.33 L470.60,419.41 L471.40,419.48 L472.20,419.54 L473.00,419.60 L473.80,419.66 L474.60,419.71 L475.40,419.76 L476.20,419.80 L477.00,419.85 L477.80,419.89 L478.60,419.92 L479.40,419.95 L480.20,419.99 L481.00,420.02 L481.80,420.04 L482.60,420.07 L483.40,420.09 L484.20,420.11 L485.00,420.13 L485.80,420.15 L486.60,420.17 L487.40,420.18 L488.20,420.20 L489.00,420.21 L489.80,420.23 L490.60,420.24 L491.40,420.25 L492.20,420.26 L493.00,420.27 L493.80,420.28 L494.60,420.29 L495.40,420.30 L496.20,420.30 L497.00,420.31 L497.80,420.32 L498.60,420.32 L499.40,420.33 L500.20,420.33 L501.00,420.34 L501.80,420.34 L502.60,420.35 L503.40,420.35 L504.20,420.35 L505.00,420.36 L505.80,420.36 L506.60,420.36 L507.40,420.37 L508.20,420.37 L509.00,420.37 L509.80,420.37 L510.60,420.37 L511.40,420.38 L512.20,420.38 L513.00,420.38 L513.80,420.38" fill="none" stroke="#eca262" stroke-width="0.8" stroke-linejoin="round"/>
<path d="M433.00,420.01 L433.80,419.94 L434.60,419.87 L435.40,419.77 L436.20,419.65 L437.00,419.49 L437.80,419.27 L438.60,418.95 L439.40,418.47 L440.20,417.68 L441.00,416.38 L441.80,414.24 L442.60,410.86 L443.40,405.77 L444.20,398.54 L445.00,389.00 L445.80,377.37 L446.60,364.60 L447.40,352.82 L448.20,345.42 L449.00,345.04 L449.80,349.85 L450.60,358.12 L451.40,368.03 L452.20,378.09 L453.00,387.37 L453.80,395.37 L454.60,401.93 L455.40,407.06 L456.20,410.91 L457.00,413.69 L457.80,415.63 L458.60,416.96 L459.40,417.84 L460.20,418.02 L461.00,418.18 L461.80,418.34 L462.60,418.48 L463.40,418.62 L464.20,418.74 L465.00,418.86 L465.80,418.97 L466.60,419.07 L467.40,419.16 L468.20,419.25 L469.00,419.33 L469.80,419.40 L470.60,419.47 L471.40,419.54 L472.20,419.60 L473.00,419.66 L473.80,419.71 L474.60,419.76 L475.40,419.80 L476.20,419.84 L477.00,419.88 L477.80,419.92 L478.60,419.95 L479.40,419.98 L480.20,420.01 L481.00,420.04 L481.80,420.07 L482.60,420.09 L483.40,420.11 L484.20,420.13 L485.00,420.15 L485.80,420.17 L486.60,420.18 L487.40,420.20 L488.20,420.21 L489.00,420.23 L489.80,420.24 L490.60,420.25 L491.40,420.26 L492.20,420.27 L493.00,420.28 L493.80,420.29 L494.60,420.30 L495.40,420.30 L496.20,420.31 L497.00,420.32 L497.80,420.32 L498.60,420.33 L499.40,420.33 L500.20,420.34 L501.00,420.34 L501.80,420.35 L502.60,420.35 L503.40,420.35 L504.20,420.36 L505.00,420.36 L505.80,420.36 L506.60,420.36 L507.40,420.37 L508.20,420.37 L509.00,420.37 L509.80,420.37 L510.60,420.38 L511.40,420.38 L512.20,420.38 L513.00,420.38 L513.80,420.38" fill="none" stroke="#d8d24c" stroke-width="0.8" stroke-linejoin="round"/>
<path d="M436.00,420.30 L437.70,418.78 L439.40,418.23 L441.10,417.50 L442.80,416.84 L444.50,414.51 L446.20,409.03 L447.90,404.79 L449.60,402.36 L451.30,395.08 L453.00,387.42 L454.70,382.06 L456.40,370.74 L458.10,364.65 L459.80,358.94 L461.50,355.01 L463.20,355.10 L464.90,359.50 L466.60,355.04 L468.30,355.75 L470.00,349.58 L471.70,348.94 L473.40,352.25 L475.10,351.61 L476.80,355.77 L478.50,358.29 L480.20,363.73 L481.90,367.01 L483.60,370.20 L485.30,378.29 L487.00,380.65 L488.70,385.68 L490.40,385.85 L492.10,391.87 L493.80,394.45 L495.50,394.63 L497.20,397.14 L498.90,401.92 L500.60,401.98 L502.30,405.56 L504.00,408.57 L505.70,409.42 L507.40,411.51 L509.10,413.35 L510.80,415.86 L512.50,417.32" fill="none" stroke="#959595" stroke-width="1.6" stroke-linejoin="round"/>
<path d="M433.40,420.21 L435.10,420.02 L436.80,419.29 L438.50,419.66 L440.20,418.25 L441.90,417.42 L443.60,417.16 L445.30,416.44 L447.00,412.36 L448.70,409.64 L450.40,404.17 L452.10,396.00 L453.80,383.22 L455.50,371.24 L457.20,358.02 L458.90,352.94 L460.60,350.03 L462.30,350.63 L464.00,353.25 L465.70,352.09 L467.40,359.45 L469.10,357.87 L470.80,358.80 L472.50,361.02 L474.20,359.43 L475.90,364.59 L477.60,365.15 L479.30,369.90 L481.00,373.53 L482.70,377.91 L484.40,385.26 L486.10,387.88 L487.80,391.05 L489.50,394.02 L491.20,399.14 L492.90,401.12 L494.60,403.84 L496.30,404.58 L498.00,408.82 L499.70,408.37 L501.40,410.09 L503.10,412.19 L504.80,413.72 L506.50,416.30 L508.20,417.14 L509.90,418.33 L511.60,418.36 L513.30,419.13" fill="none" stroke="#111" stroke-width="1.75" stroke-linejoin="round"/>
<text transform="translate(419.90,379.05) rotate(-90)" x="0" y="0" font-size="11.5" fill="#222" stroke="#222" stroke-width="0.16" text-anchor="middle" textLength="20.6" lengthAdjust="spacingAndGlyphs">Count</text>
<line x1="429.70" y1="420.70" x2="432.50" y2="420.70" stroke="#555" stroke-width="0.9"/>
<text x="429.90" y="423.30" font-size="8.0" fill="#333" text-anchor="end" textLength="4.00" lengthAdjust="spacingAndGlyphs" stroke="#333" stroke-width="0.07">0</text>
<text x="433.60" y="432.70" font-size="8.2" fill="#222" text-anchor="start" textLength="7.90" lengthAdjust="spacingAndGlyphs" stroke="#222" stroke-width="0.07">10</text>
<text x="441.30" y="429.40" font-size="5.4" fill="#222" text-anchor="start" stroke="#222" stroke-width="0.07">0</text>
<text x="448.30" y="432.70" font-size="8.2" fill="#222" text-anchor="start" textLength="7.90" lengthAdjust="spacingAndGlyphs" stroke="#222" stroke-width="0.07">10</text>
<text x="456.00" y="429.40" font-size="5.4" fill="#222" text-anchor="start" stroke="#222" stroke-width="0.07">1</text>
<text x="468.20" y="432.70" font-size="8.2" fill="#222" text-anchor="start" textLength="7.90" lengthAdjust="spacingAndGlyphs" stroke="#222" stroke-width="0.07">10</text>
<text x="475.90" y="429.40" font-size="5.4" fill="#222" text-anchor="start" stroke="#222" stroke-width="0.07">2</text>
<text x="489.00" y="432.70" font-size="8.2" fill="#222" text-anchor="start" textLength="7.90" lengthAdjust="spacingAndGlyphs" stroke="#222" stroke-width="0.07">10</text>
<text x="496.70" y="429.40" font-size="5.4" fill="#222" text-anchor="start" stroke="#222" stroke-width="0.07">3</text>
<text x="508.90" y="432.70" font-size="8.2" fill="#222" text-anchor="start" textLength="7.90" lengthAdjust="spacingAndGlyphs" stroke="#222" stroke-width="0.07">10</text>
<text x="516.60" y="429.40" font-size="5.4" fill="#222" text-anchor="start" stroke="#222" stroke-width="0.07">4</text>
<text x="473.00" y="446.50" font-size="10.2" fill="#222" text-anchor="middle" textLength="21.00" lengthAdjust="spacingAndGlyphs" stroke="#222" stroke-width="0.04">APC-A</text>
<text x="473.00" y="458.60" font-size="10.0" fill="#222" text-anchor="middle" textLength="65.50" lengthAdjust="spacingAndGlyphs" stroke="#222" stroke-width="0.04">LHM76/58,epD8.1</text>
<text x="473.80" y="343.80" font-size="7.9" fill="#111" text-anchor="start" font-style="italic" textLength="39.50" lengthAdjust="spacingAndGlyphs" stroke="#111" stroke-width="0.07">RHD*1227A</text>
<line x1="473.20" y1="342.20" x2="467.71" y2="346.18" stroke="#111" stroke-width="1.0"/>
<polygon points="464.80,348.30 466.71,344.81 468.71,347.56" fill="#111"/>
<text x="493.80" y="364.50" font-size="7.9" fill="#9a9a9a" text-anchor="start" textLength="19.50" lengthAdjust="spacingAndGlyphs" stroke="#9a9a9a" stroke-width="0.07">wt <tspan font-style="italic">RHD</tspan></text>
<line x1="494.30" y1="365.60" x2="490.63" y2="369.04" stroke="#9a9a9a" stroke-width="1.0"/>
<polygon points="488.00,371.50 489.47,367.80 491.79,370.28" fill="#9a9a9a"/>
<rect x="432.90" y="479.40" width="81.70" height="84.30" fill="#fff" stroke="#8a8a8a" stroke-width="1.1"/>
<path d="M433.40,563.18 L434.20,563.15 L435.00,563.12 L435.80,563.09 L436.60,563.05 L437.40,563.00 L438.20,562.94 L439.00,562.87 L439.80,562.78 L440.60,562.67 L441.40,562.54 L442.20,562.36 L443.00,562.11 L443.80,561.75 L444.60,561.21 L445.40,560.37 L446.20,559.05 L447.00,557.00 L447.80,553.93 L448.60,549.52 L449.40,543.46 L450.20,535.62 L451.00,526.07 L451.80,515.27 L452.60,504.32 L453.40,495.17 L454.20,490.31 L455.00,491.11 L455.80,496.29 L456.60,504.41 L457.40,513.84 L458.20,523.30 L459.00,531.98 L459.80,539.48 L460.60,545.64 L461.40,550.48 L462.20,554.13 L463.00,556.79 L463.80,557.81 L464.60,558.05 L465.40,558.29 L466.20,558.51 L467.00,558.72 L467.80,558.92 L468.60,559.12 L469.40,559.31 L470.20,559.48 L471.00,559.65 L471.80,559.82 L472.60,559.97 L473.40,560.12 L474.20,560.26 L475.00,560.40 L475.80,560.53 L476.60,560.66 L477.40,560.77 L478.20,560.89 L479.00,561.00 L479.80,561.10 L480.60,561.20 L481.40,561.30 L482.20,561.39 L483.00,561.48 L483.80,561.56 L484.60,561.64 L485.40,561.72 L486.20,561.79 L487.00,561.86 L487.80,561.93 L488.60,561.99 L489.40,562.05 L490.20,562.11 L491.00,562.17 L491.80,562.22 L492.60,562.27 L493.40,562.32 L494.20,562.37 L495.00,562.41 L495.80,562.46 L496.60,562.50 L497.40,562.54 L498.20,562.57 L499.00,562.61 L499.80,562.64 L500.60,562.68 L501.40,562.71 L502.20,562.74 L503.00,562.77 L503.80,562.79 L504.60,562.82 L505.40,562.85 L506.20,562.87 L507.00,562.89 L507.80,562.92 L508.60,562.94 L509.40,562.96 L510.20,562.98 L511.00,562.99 L511.80,563.01 L512.60,563.03 L513.40,563.04" fill="none" stroke="#5a5250" stroke-width="0.8" stroke-linejoin="round"/>
<path d="M433.40,563.23 L434.20,563.21 L435.00,563.19 L435.80,563.16 L436.60,563.14 L437.40,563.10 L438.20,563.06 L439.00,563.02 L439.80,562.96 L440.60,562.89 L441.40,562.81 L442.20,562.71 L443.00,562.58 L443.80,562.41 L444.60,562.18 L445.40,561.85 L446.20,561.34 L447.00,560.56 L447.80,559.32 L448.60,557.41 L449.40,554.54 L450.20,550.39 L451.00,544.69 L451.80,537.28 L452.60,528.21 L453.40,517.90 L454.20,507.36 L455.00,498.41 L455.80,493.43 L456.60,493.88 L457.40,498.62 L458.20,506.28 L459.00,515.29 L459.80,524.39 L460.60,532.78 L461.40,540.04 L462.20,546.03 L463.00,550.75 L463.80,554.32 L464.60,556.93 L465.40,558.02 L466.20,558.26 L467.00,558.48 L467.80,558.70 L468.60,558.90 L469.40,559.10 L470.20,559.28 L471.00,559.46 L471.80,559.63 L472.60,559.80 L473.40,559.95 L474.20,560.10 L475.00,560.25 L475.80,560.38 L476.60,560.51 L477.40,560.64 L478.20,560.76 L479.00,560.87 L479.80,560.98 L480.60,561.09 L481.40,561.19 L482.20,561.29 L483.00,561.38 L483.80,561.47 L484.60,561.55 L485.40,561.63 L486.20,561.71 L487.00,561.78 L487.80,561.85 L488.60,561.92 L489.40,561.98 L490.20,562.04 L491.00,562.10 L491.80,562.16 L492.60,562.21 L493.40,562.27 L494.20,562.31 L495.00,562.36 L495.80,562.41 L496.60,562.45 L497.40,562.49 L498.20,562.53 L499.00,562.57 L499.80,562.60 L500.60,562.64 L501.40,562.67 L502.20,562.70 L503.00,562.73 L503.80,562.76 L504.60,562.79 L505.40,562.82 L506.20,562.84 L507.00,562.87 L507.80,562.89 L508.60,562.91 L509.40,562.93 L510.20,562.95 L511.00,562.97 L511.80,562.99 L512.60,563.01 L513.40,563.03" fill="none" stroke="#9a8cb8" stroke-width="0.8" stroke-linejoin="round"/>
<path d="M433.40,563.15 L434.20,563.12 L435.00,563.08 L435.80,563.04 L436.60,562.99 L437.40,562.92 L438.20,562.85 L439.00,562.76 L439.80,562.65 L440.60,562.50 L441.40,562.31 L442.20,562.04 L443.00,561.64 L443.80,561.03 L444.60,560.07 L445.40,558.58 L446.20,556.29 L447.00,552.89 L447.80,548.07 L448.60,541.57 L449.40,533.31 L450.20,523.45 L451.00,512.63 L451.80,502.17 L452.60,494.22 L453.40,491.20 L454.20,493.47 L455.00,499.65 L455.80,508.20 L456.60,517.61 L457.40,526.73 L458.20,534.94 L459.00,541.90 L459.80,547.55 L460.60,551.93 L461.40,555.20 L462.20,557.55 L463.00,559.20 L463.80,560.33 L464.60,561.09 L465.40,561.28 L466.20,561.41 L467.00,561.54 L467.80,561.66 L468.60,561.77 L469.40,561.88 L470.20,561.98 L471.00,562.07 L471.80,562.15 L472.60,562.23 L473.40,562.31 L474.20,562.38 L475.00,562.45 L475.80,562.51 L476.60,562.56 L477.40,562.62 L478.20,562.67 L479.00,562.72 L479.80,562.76 L480.60,562.80 L481.40,562.84 L482.20,562.88 L483.00,562.91 L483.80,562.94 L484.60,562.97 L485.40,563.00 L486.20,563.02 L487.00,563.05 L487.80,563.07 L488.60,563.09 L489.40,563.11 L490.20,563.13 L491.00,563.15 L491.80,563.16 L492.60,563.18 L493.40,563.19 L494.20,563.21 L495.00,563.22 L495.80,563.23 L496.60,563.24 L497.40,563.25 L498.20,563.26 L499.00,563.27 L499.80,563.28 L500.60,563.29 L501.40,563.29 L502.20,563.30 L503.00,563.31 L503.80,563.31 L504.60,563.32 L505.40,563.32 L506.20,563.33 L507.00,563.33 L507.80,563.34 L508.60,563.34 L509.40,563.35 L510.20,563.35 L511.00,563.35 L511.80,563.36 L512.60,563.36 L513.40,563.36" fill="none" stroke="#4f9ea4" stroke-width="0.8" stroke-linejoin="round"/>
<path d="M433.40,563.10 L434.20,563.06 L435.00,563.02 L435.80,562.96 L436.60,562.90 L437.40,562.82 L438.20,562.72 L439.00,562.60 L439.80,562.44 L440.60,562.22 L441.40,561.92 L442.20,561.46 L443.00,560.75 L443.80,559.64 L444.60,557.92 L445.40,555.29 L446.20,551.45 L447.00,546.08 L447.80,538.98 L448.60,530.11 L449.40,519.77 L450.20,508.79 L451.00,498.76 L451.80,492.07 L452.60,490.83 L453.40,494.48 L454.20,501.63 L455.00,510.68 L455.80,520.17 L456.60,529.13 L457.40,537.04 L458.20,543.65 L459.00,548.93 L459.80,552.97 L460.60,555.96 L461.40,558.09 L462.20,559.57 L463.00,560.58 L463.80,561.16 L464.60,561.30 L465.40,561.44 L466.20,561.56 L467.00,561.68 L467.80,561.79 L468.60,561.90 L469.40,561.99 L470.20,562.08 L471.00,562.17 L471.80,562.25 L472.60,562.32 L473.40,562.39 L474.20,562.46 L475.00,562.52 L475.80,562.57 L476.60,562.63 L477.40,562.68 L478.20,562.72 L479.00,562.77 L479.80,562.81 L480.60,562.85 L481.40,562.88 L482.20,562.92 L483.00,562.95 L483.80,562.98 L484.60,563.00 L485.40,563.03 L486.20,563.05 L487.00,563.08 L487.80,563.10 L488.60,563.12 L489.40,563.13 L490.20,563.15 L491.00,563.17 L491.80,563.18 L492.60,563.20 L493.40,563.21 L494.20,563.22 L495.00,563.23 L495.80,563.24 L496.60,563.25 L497.40,563.26 L498.20,563.27 L499.00,563.28 L499.80,563.29 L500.60,563.30 L501.40,563.30 L502.20,563.31 L503.00,563.31 L503.80,563.32 L504.60,563.33 L505.40,563.33 L506.20,563.33 L507.00,563.34 L507.80,563.34 L508.60,563.35 L509.40,563.35 L510.20,563.35 L511.00,563.36 L511.80,563.36 L512.60,563.36 L513.40,563.36" fill="none" stroke="#78b246" stroke-width="0.8" stroke-linejoin="round"/>
<path d="M433.40,563.22 L434.20,563.20 L435.00,563.18 L435.80,563.15 L436.60,563.12 L437.40,563.08 L438.20,563.04 L439.00,562.99 L439.80,562.93 L440.60,562.86 L441.40,562.77 L442.20,562.65 L443.00,562.51 L443.80,562.32 L444.60,562.05 L445.40,561.66 L446.20,561.05 L447.00,560.11 L447.80,558.63 L448.60,556.37 L449.40,553.00 L450.20,548.24 L451.00,541.81 L451.80,533.64 L452.60,523.89 L453.40,513.19 L454.20,502.85 L455.00,494.99 L455.80,492.00 L456.60,494.25 L457.40,500.35 L458.20,508.82 L459.00,518.11 L459.80,527.14 L460.60,535.25 L461.40,542.14 L462.20,547.72 L463.00,552.06 L463.80,555.29 L464.60,557.62 L465.40,558.04 L466.20,558.27 L467.00,558.49 L467.80,558.71 L468.60,558.91 L469.40,559.11 L470.20,559.29 L471.00,559.47 L471.80,559.64 L472.60,559.81 L473.40,559.96 L474.20,560.11 L475.00,560.25 L475.80,560.39 L476.60,560.52 L477.40,560.65 L478.20,560.77 L479.00,560.88 L479.80,560.99 L480.60,561.10 L481.40,561.20 L482.20,561.29 L483.00,561.38 L483.80,561.47 L484.60,561.55 L485.40,561.64 L486.20,561.71 L487.00,561.79 L487.80,561.86 L488.60,561.92 L489.40,561.99 L490.20,562.05 L491.00,562.11 L491.80,562.16 L492.60,562.22 L493.40,562.27 L494.20,562.32 L495.00,562.36 L495.80,562.41 L496.60,562.45 L497.40,562.49 L498.20,562.53 L499.00,562.57 L499.80,562.61 L500.60,562.64 L501.40,562.67 L502.20,562.71 L503.00,562.74 L503.80,562.76 L504.60,562.79 L505.40,562.82 L506.20,562.84 L507.00,562.87 L507.80,562.89 L508.60,562.91 L509.40,562.93 L510.20,562.95 L511.00,562.97 L511.80,562.99 L512.60,563.01 L513.40,563.03" fill="none" stroke="#7a8aa8" stroke-width="0.8" stroke-linejoin="round"/>
<path d="M433.40,563.21 L434.20,563.19 L435.00,563.17 L435.80,563.14 L436.60,563.11 L437.40,563.07 L438.20,563.02 L439.00,562.96 L439.80,562.89 L440.60,562.81 L441.40,562.70 L442.20,562.57 L443.00,562.38 L443.80,562.13 L444.60,561.75 L445.40,561.16 L446.20,560.25 L447.00,558.82 L447.80,556.63 L448.60,553.41 L449.40,548.86 L450.20,542.78 L451.00,535.10 L451.80,526.02 L452.60,516.18 L453.40,506.87 L454.20,500.11 L455.00,498.03 L455.80,500.59 L456.60,506.53 L457.40,514.45 L458.20,522.98 L459.00,531.17 L459.80,538.47 L460.60,544.63 L461.40,549.60 L462.20,553.43 L463.00,556.28 L463.80,558.32 L464.60,559.75 L465.40,560.72 L466.20,561.36 L467.00,561.49 L467.80,561.61 L468.60,561.73 L469.40,561.84 L470.20,561.94 L471.00,562.03 L471.80,562.12 L472.60,562.20 L473.40,562.28 L474.20,562.35 L475.00,562.42 L475.80,562.48 L476.60,562.54 L477.40,562.60 L478.20,562.65 L479.00,562.70 L479.80,562.74 L480.60,562.79 L481.40,562.83 L482.20,562.86 L483.00,562.90 L483.80,562.93 L484.60,562.96 L485.40,562.99 L486.20,563.01 L487.00,563.04 L487.80,563.06 L488.60,563.08 L489.40,563.10 L490.20,563.12 L491.00,563.14 L491.80,563.16 L492.60,563.17 L493.40,563.19 L494.20,563.20 L495.00,563.21 L495.80,563.23 L496.60,563.24 L497.40,563.25 L498.20,563.26 L499.00,563.27 L499.80,563.28 L500.60,563.28 L501.40,563.29 L502.20,563.30 L503.00,563.30 L503.80,563.31 L504.60,563.32 L505.40,563.32 L506.20,563.33 L507.00,563.33 L507.80,563.34 L508.60,563.34 L509.40,563.34 L510.20,563.35 L511.00,563.35 L511.80,563.35 L512.60,563.36 L513.40,563.36" fill="none" stroke="#eca262" stroke-width="0.8" stroke-linejoin="round"/>
<path d="M433.40,563.12 L434.20,563.08 L435.00,563.04 L435.80,562.99 L436.60,562.93 L437.40,562.85 L438.20,562.77 L439.00,562.66 L439.80,562.52 L440.60,562.33 L441.40,562.08 L442.20,561.71 L443.00,561.15 L443.80,560.27 L444.60,558.90 L445.40,556.77 L446.20,553.60 L447.00,549.03 L447.80,542.81 L448.60,534.76 L449.40,525.01 L450.20,514.04 L451.00,503.02 L451.80,493.96 L452.60,489.40 L453.40,490.53 L454.20,496.00 L455.00,504.34 L455.80,513.91 L456.60,523.44 L457.40,532.15 L458.20,539.65 L459.00,545.79 L459.80,550.60 L460.60,554.23 L461.40,556.86 L462.20,558.72 L463.00,559.99 L463.80,560.86 L464.60,561.18 L465.40,561.32 L466.20,561.46 L467.00,561.58 L467.80,561.70 L468.60,561.81 L469.40,561.91 L470.20,562.01 L471.00,562.10 L471.80,562.18 L472.60,562.26 L473.40,562.33 L474.20,562.40 L475.00,562.47 L475.80,562.53 L476.60,562.58 L477.40,562.64 L478.20,562.69 L479.00,562.73 L479.80,562.77 L480.60,562.81 L481.40,562.85 L482.20,562.89 L483.00,562.92 L483.80,562.95 L484.60,562.98 L485.40,563.01 L486.20,563.03 L487.00,563.06 L487.80,563.08 L488.60,563.10 L489.40,563.12 L490.20,563.14 L491.00,563.15 L491.80,563.17 L492.60,563.18 L493.40,563.20 L494.20,563.21 L495.00,563.22 L495.80,563.24 L496.60,563.25 L497.40,563.26 L498.20,563.26 L499.00,563.27 L499.80,563.28 L500.60,563.29 L501.40,563.30 L502.20,563.30 L503.00,563.31 L503.80,563.32 L504.60,563.32 L505.40,563.33 L506.20,563.33 L507.00,563.34 L507.80,563.34 L508.60,563.34 L509.40,563.35 L510.20,563.35 L511.00,563.35 L511.80,563.36 L512.60,563.36 L513.40,563.36" fill="none" stroke="#d8d24c" stroke-width="0.8" stroke-linejoin="round"/>
<path d="M455.00,558.00 L456.70,556.53 L458.40,553.75 L460.10,551.65 L461.80,549.32 L463.50,548.41 L465.20,545.95 L466.90,544.08 L468.60,539.88 L470.30,538.83 L472.00,530.28 L473.70,524.81 L475.40,517.42 L477.10,511.40 L478.80,506.98 L480.50,506.34 L482.20,503.09 L483.90,504.92 L485.60,503.77 L487.30,502.38 L489.00,502.62 L490.70,506.46 L492.40,504.52 L494.10,497.78 L495.80,494.94 L497.50,500.14 L499.20,502.69 L500.90,506.70 L502.60,505.26 L504.30,511.13 L506.00,516.94 L507.70,521.48 L509.40,522.30 L511.10,530.24 L512.80,533.68" fill="none" stroke="#959595" stroke-width="1.6" stroke-linejoin="round"/>
<path d="M433.40,559.34 L435.10,559.84 L436.80,560.91 L438.50,561.24 L440.20,561.68 L441.90,561.41 L443.60,560.91 L445.30,561.22 L447.00,560.28 L448.70,559.73 L450.40,559.86 L452.10,559.26 L453.80,557.64 L455.50,556.99 L457.20,556.60 L458.90,554.99 L460.60,552.20 L462.30,550.69 L464.00,547.62 L465.70,544.07 L467.40,540.40 L469.10,537.04 L470.80,534.41 L472.50,528.94 L474.20,525.40 L475.90,527.17 L477.60,522.04 L479.30,520.29 L481.00,518.69 L482.70,517.83 L484.40,520.55 L486.10,522.87 L487.80,514.76 L489.50,511.82 L491.20,515.42 L492.90,511.58 L494.60,511.11 L496.30,511.89 L498.00,511.83 L499.70,513.79 L501.40,518.37 L503.10,521.40 L504.80,525.99 L506.50,527.63 L508.20,528.52 L509.90,534.29 L511.60,536.13 L513.30,539.35" fill="none" stroke="#24090d" stroke-width="2.0" stroke-linejoin="round"/>
<line x1="432.90" y1="481.40" x2="432.90" y2="559.70" stroke="#111" stroke-width="1.4"/>
<line x1="514.60" y1="489.40" x2="514.60" y2="549.70" stroke="#111" stroke-width="1.4"/>
<text transform="translate(420.30,522.25) rotate(-90)" x="0" y="0" font-size="11.5" fill="#222" stroke="#222" stroke-width="0.16" text-anchor="middle" textLength="20.6" lengthAdjust="spacingAndGlyphs">Count</text>
<line x1="430.10" y1="563.70" x2="432.90" y2="563.70" stroke="#555" stroke-width="0.9"/>
<text x="430.30" y="566.30" font-size="8.0" fill="#333" text-anchor="end" textLength="4.00" lengthAdjust="spacingAndGlyphs" stroke="#333" stroke-width="0.07">0</text>
<text x="439.15" y="575.70" font-size="8.2" fill="#222" text-anchor="start" textLength="4.00" lengthAdjust="spacingAndGlyphs" stroke="#222" stroke-width="0.07">0</text>
<text x="444.00" y="575.70" font-size="8.2" fill="#222" text-anchor="start" textLength="7.90" lengthAdjust="spacingAndGlyphs" stroke="#222" stroke-width="0.07">10</text>
<text x="451.70" y="572.40" font-size="5.4" fill="#222" text-anchor="start" stroke="#222" stroke-width="0.07">2</text>
<text x="464.80" y="575.70" font-size="8.2" fill="#222" text-anchor="start" textLength="7.90" lengthAdjust="spacingAndGlyphs" stroke="#222" stroke-width="0.07">10</text>
<text x="472.50" y="572.40" font-size="5.4" fill="#222" text-anchor="start" stroke="#222" stroke-width="0.07">3</text>
<text x="482.90" y="575.70" font-size="8.2" fill="#222" text-anchor="start" textLength="7.90" lengthAdjust="spacingAndGlyphs" stroke="#222" stroke-width="0.07">10</text>
<text x="490.60" y="572.40" font-size="5.4" fill="#222" text-anchor="start" stroke="#222" stroke-width="0.07">4</text>
<text x="501.10" y="575.70" font-size="8.2" fill="#222" text-anchor="start" textLength="7.90" lengthAdjust="spacingAndGlyphs" stroke="#222" stroke-width="0.07">10</text>
<text x="508.80" y="572.40" font-size="5.4" fill="#222" text-anchor="start" stroke="#222" stroke-width="0.07">5</text>
<text x="473.25" y="589.50" font-size="10.2" fill="#222" text-anchor="middle" textLength="21.00" lengthAdjust="spacingAndGlyphs" stroke="#222" stroke-width="0.04">APC-A</text>
<text x="473.25" y="601.60" font-size="10.0" fill="#222" text-anchor="middle" textLength="57.50" lengthAdjust="spacingAndGlyphs" stroke="#222" stroke-width="0.04">P3×249, epD2.1</text>
<text x="463.70" y="495.00" font-size="7.9" fill="#9a9a9a" text-anchor="start" textLength="25.00" lengthAdjust="spacingAndGlyphs" stroke="#9a9a9a" stroke-width="0.07">wt <tspan font-style="italic">RHD</tspan></text>
<line x1="478.00" y1="497.30" x2="478.00" y2="505.40" stroke="#9a9a9a" stroke-width="1.0"/>
<polygon points="478.00,509.00 476.30,505.40 479.70,505.40" fill="#9a9a9a"/>
<text x="470.50" y="548.00" font-size="7.9" fill="#111" text-anchor="start" font-style="italic" textLength="40.80" lengthAdjust="spacingAndGlyphs" stroke="#111" stroke-width="0.07">RHD*1227A</text>
<line x1="486.30" y1="541.30" x2="486.30" y2="525.90" stroke="#111" stroke-width="1.0"/>
<polygon points="486.30,522.30 488.00,525.90 484.60,525.90" fill="#111"/>
<rect x="33.50" y="631.00" width="81.20" height="84.50" fill="#fff" stroke="#8a8a8a" stroke-width="1.1"/>
<path d="M34.00,714.96 L34.80,714.94 L35.60,714.90 L36.40,714.87 L37.20,714.82 L38.00,714.77 L38.80,714.71 L39.60,714.63 L40.40,714.54 L41.20,714.43 L42.00,714.28 L42.80,714.08 L43.60,713.79 L44.40,713.38 L45.20,712.76 L46.00,711.80 L46.80,710.33 L47.60,708.15 L48.40,704.99 L49.20,700.60 L50.00,694.80 L50.80,687.50 L51.60,678.85 L52.40,669.31 L53.20,659.85 L54.00,652.11 L54.80,648.06 L55.60,648.66 L56.40,652.70 L57.20,659.20 L58.00,666.98 L58.80,675.04 L59.60,682.69 L60.40,689.55 L61.20,695.41 L62.00,700.23 L62.80,704.06 L63.60,707.00 L64.40,709.19 L65.20,710.78 L66.00,711.04 L66.80,711.26 L67.60,711.46 L68.40,711.66 L69.20,711.84 L70.00,712.02 L70.80,712.18 L71.60,712.34 L72.40,712.49 L73.20,712.63 L74.00,712.76 L74.80,712.89 L75.60,713.01 L76.40,713.12 L77.20,713.23 L78.00,713.33 L78.80,713.43 L79.60,713.52 L80.40,713.61 L81.20,713.69 L82.00,713.77 L82.80,713.84 L83.60,713.91 L84.40,713.98 L85.20,714.04 L86.00,714.10 L86.80,714.16 L87.60,714.21 L88.40,714.27 L89.20,714.31 L90.00,714.36 L90.80,714.40 L91.60,714.45 L92.40,714.48 L93.20,714.52 L94.00,714.56 L94.80,714.59 L95.60,714.62 L96.40,714.65 L97.20,714.68 L98.00,714.71 L98.80,714.73 L99.60,714.76 L100.40,714.78 L101.20,714.80 L102.00,714.82 L102.80,714.84 L103.60,714.86 L104.40,714.88 L105.20,714.90 L106.00,714.91 L106.80,714.93 L107.60,714.94 L108.40,714.95 L109.20,714.97 L110.00,714.98 L110.80,714.99 L111.60,715.00 L112.40,715.01 L113.20,715.02 L114.00,715.03" fill="none" stroke="#5a5250" stroke-width="0.8" stroke-linejoin="round"/>
<path d="M34.00,715.02 L34.80,715.00 L35.60,714.98 L36.40,714.95 L37.20,714.92 L38.00,714.88 L38.80,714.84 L39.60,714.79 L40.40,714.73 L41.20,714.66 L42.00,714.58 L42.80,714.47 L43.60,714.33 L44.40,714.14 L45.20,713.88 L46.00,713.49 L46.80,712.91 L47.60,712.02 L48.40,710.66 L49.20,708.62 L50.00,705.66 L50.80,701.55 L51.60,696.10 L52.40,689.21 L53.20,681.02 L54.00,671.93 L54.80,662.85 L55.60,655.29 L56.40,651.15 L57.20,651.48 L58.00,655.16 L58.80,661.26 L59.60,668.65 L60.40,676.35 L61.20,683.70 L62.00,690.30 L62.80,695.97 L63.60,700.64 L64.40,704.35 L65.20,707.21 L66.00,709.34 L66.80,710.89 L67.60,711.21 L68.40,711.42 L69.20,711.62 L70.00,711.80 L70.80,711.98 L71.60,712.15 L72.40,712.31 L73.20,712.46 L74.00,712.60 L74.80,712.73 L75.60,712.86 L76.40,712.98 L77.20,713.10 L78.00,713.21 L78.80,713.31 L79.60,713.41 L80.40,713.50 L81.20,713.59 L82.00,713.67 L82.80,713.75 L83.60,713.83 L84.40,713.90 L85.20,713.97 L86.00,714.03 L86.80,714.09 L87.60,714.15 L88.40,714.20 L89.20,714.26 L90.00,714.30 L90.80,714.35 L91.60,714.40 L92.40,714.44 L93.20,714.48 L94.00,714.51 L94.80,714.55 L95.60,714.58 L96.40,714.62 L97.20,714.65 L98.00,714.67 L98.80,714.70 L99.60,714.73 L100.40,714.75 L101.20,714.78 L102.00,714.80 L102.80,714.82 L103.60,714.84 L104.40,714.86 L105.20,714.88 L106.00,714.89 L106.80,714.91 L107.60,714.92 L108.40,714.94 L109.20,714.95 L110.00,714.96 L110.80,714.98 L111.60,714.99 L112.40,715.00 L113.20,715.01 L114.00,715.02" fill="none" stroke="#9a8cb8" stroke-width="0.8" stroke-linejoin="round"/>
<path d="M34.00,714.93 L34.80,714.90 L35.60,714.86 L36.40,714.81 L37.20,714.76 L38.00,714.70 L38.80,714.62 L39.60,714.52 L40.40,714.40 L41.20,714.24 L42.00,714.02 L42.80,713.71 L43.60,713.25 L44.40,712.55 L45.20,711.47 L46.00,709.84 L46.80,707.42 L47.60,703.96 L48.40,699.24 L49.20,693.08 L50.00,685.47 L50.80,676.63 L51.60,667.15 L52.40,658.19 L53.20,651.51 L54.00,649.00 L54.80,650.76 L55.60,655.61 L56.40,662.51 L57.20,670.32 L58.00,678.17 L58.80,685.47 L59.60,691.91 L60.40,697.35 L61.20,701.77 L62.00,705.25 L62.80,707.89 L63.60,709.84 L64.40,711.24 L65.20,712.24 L66.00,712.94 L66.80,713.42 L67.60,713.77 L68.40,713.95 L69.20,714.04 L70.00,714.13 L70.80,714.21 L71.60,714.29 L72.40,714.36 L73.20,714.42 L74.00,714.48 L74.80,714.54 L75.60,714.59 L76.40,714.64 L77.20,714.68 L78.00,714.72 L78.80,714.76 L79.60,714.79 L80.40,714.82 L81.20,714.85 L82.00,714.88 L82.80,714.90 L83.60,714.93 L84.40,714.95 L85.20,714.97 L86.00,714.98 L86.80,715.00 L87.60,715.02 L88.40,715.03 L89.20,715.04 L90.00,715.06 L90.80,715.07 L91.60,715.08 L92.40,715.09 L93.20,715.09 L94.00,715.10 L94.80,715.11 L95.60,715.12 L96.40,715.12 L97.20,715.13 L98.00,715.13 L98.80,715.14 L99.60,715.14 L100.40,715.15 L101.20,715.15 L102.00,715.16 L102.80,715.16 L103.60,715.16 L104.40,715.17 L105.20,715.17 L106.00,715.17 L106.80,715.17 L107.60,715.17 L108.40,715.18 L109.20,715.18 L110.00,715.18 L110.80,715.18 L111.60,715.18 L112.40,715.18 L113.20,715.18 L114.00,715.18" fill="none" stroke="#4f9ea4" stroke-width="0.8" stroke-linejoin="round"/>
<path d="M34.00,714.88 L34.80,714.84 L35.60,714.80 L36.40,714.74 L37.20,714.67 L38.00,714.58 L38.80,714.48 L39.60,714.34 L40.40,714.17 L41.20,713.92 L42.00,713.57 L42.80,713.04 L43.60,712.23 L44.40,710.99 L45.20,709.12 L46.00,706.38 L46.80,702.52 L47.60,697.31 L48.40,690.63 L49.20,682.53 L50.00,673.32 L50.80,663.76 L51.60,655.22 L52.40,649.62 L53.20,648.58 L54.00,651.41 L54.80,657.08 L55.60,664.44 L56.40,672.42 L57.20,680.22 L58.00,687.34 L58.80,693.53 L59.60,698.69 L60.40,702.85 L61.20,706.07 L62.00,708.50 L62.80,710.29 L63.60,711.56 L64.40,712.46 L65.20,713.09 L66.00,713.53 L66.80,713.84 L67.60,713.97 L68.40,714.06 L69.20,714.15 L70.00,714.23 L70.80,714.30 L71.60,714.37 L72.40,714.44 L73.20,714.49 L74.00,714.55 L74.80,714.60 L75.60,714.65 L76.40,714.69 L77.20,714.73 L78.00,714.76 L78.80,714.80 L79.60,714.83 L80.40,714.86 L81.20,714.88 L82.00,714.91 L82.80,714.93 L83.60,714.95 L84.40,714.97 L85.20,714.99 L86.00,715.00 L86.80,715.02 L87.60,715.03 L88.40,715.05 L89.20,715.06 L90.00,715.07 L90.80,715.08 L91.60,715.09 L92.40,715.10 L93.20,715.10 L94.00,715.11 L94.80,715.12 L95.60,715.12 L96.40,715.13 L97.20,715.14 L98.00,715.14 L98.80,715.15 L99.60,715.15 L100.40,715.15 L101.20,715.16 L102.00,715.16 L102.80,715.16 L103.60,715.17 L104.40,715.17 L105.20,715.17 L106.00,715.17 L106.80,715.17 L107.60,715.18 L108.40,715.18 L109.20,715.18 L110.00,715.18 L110.80,715.18 L111.60,715.18 L112.40,715.18 L113.20,715.18 L114.00,715.18" fill="none" stroke="#78b246" stroke-width="0.8" stroke-linejoin="round"/>
<path d="M34.00,715.01 L34.80,714.99 L35.60,714.96 L36.40,714.94 L37.20,714.90 L38.00,714.86 L38.80,714.82 L39.60,714.77 L40.40,714.70 L41.20,714.62 L42.00,714.53 L42.80,714.41 L43.60,714.25 L44.40,714.03 L45.20,713.73 L46.00,713.27 L46.80,712.58 L47.60,711.52 L48.40,709.90 L49.20,707.51 L50.00,704.10 L50.80,699.43 L51.60,693.35 L52.40,685.83 L53.20,677.10 L54.00,667.73 L54.80,658.88 L55.60,652.28 L56.40,649.80 L57.20,651.54 L58.00,656.33 L58.80,663.14 L59.60,670.87 L60.40,678.62 L61.20,685.83 L62.00,692.19 L62.80,697.57 L63.60,701.94 L64.40,705.37 L65.20,707.98 L66.00,709.90 L66.80,711.02 L67.60,711.23 L68.40,711.44 L69.20,711.63 L70.00,711.82 L70.80,711.99 L71.60,712.16 L72.40,712.32 L73.20,712.47 L74.00,712.61 L74.80,712.74 L75.60,712.87 L76.40,712.99 L77.20,713.11 L78.00,713.22 L78.80,713.32 L79.60,713.42 L80.40,713.51 L81.20,713.60 L82.00,713.68 L82.80,713.76 L83.60,713.83 L84.40,713.91 L85.20,713.97 L86.00,714.04 L86.80,714.10 L87.60,714.15 L88.40,714.21 L89.20,714.26 L90.00,714.31 L90.80,714.36 L91.60,714.40 L92.40,714.44 L93.20,714.48 L94.00,714.52 L94.80,714.55 L95.60,714.59 L96.40,714.62 L97.20,714.65 L98.00,714.68 L98.80,714.70 L99.60,714.73 L100.40,714.75 L101.20,714.78 L102.00,714.80 L102.80,714.82 L103.60,714.84 L104.40,714.86 L105.20,714.88 L106.00,714.89 L106.80,714.91 L107.60,714.92 L108.40,714.94 L109.20,714.95 L110.00,714.97 L110.80,714.98 L111.60,714.99 L112.40,715.00 L113.20,715.01 L114.00,715.02" fill="none" stroke="#7a8aa8" stroke-width="0.8" stroke-linejoin="round"/>
<path d="M34.00,715.01 L34.80,714.98 L35.60,714.96 L36.40,714.93 L37.20,714.89 L38.00,714.85 L38.80,714.80 L39.60,714.74 L40.40,714.67 L41.20,714.58 L42.00,714.46 L42.80,714.32 L43.60,714.11 L44.40,713.82 L45.20,713.38 L46.00,712.72 L46.80,711.70 L47.60,710.16 L48.40,707.89 L49.20,704.66 L50.00,700.26 L50.80,694.57 L51.60,687.59 L52.40,679.54 L53.20,671.03 L54.00,663.15 L54.80,657.54 L55.60,655.83 L56.40,657.79 L57.20,662.42 L58.00,668.77 L58.80,675.83 L59.60,682.83 L60.40,689.29 L61.20,694.96 L62.00,699.73 L62.80,703.59 L63.60,706.60 L64.40,708.89 L65.20,710.57 L66.00,711.78 L66.80,712.63 L67.60,713.23 L68.40,713.65 L69.20,713.95 L70.00,714.09 L70.80,714.17 L71.60,714.25 L72.40,714.32 L73.20,714.39 L74.00,714.45 L74.80,714.51 L75.60,714.56 L76.40,714.61 L77.20,714.66 L78.00,714.70 L78.80,714.74 L79.60,714.77 L80.40,714.81 L81.20,714.84 L82.00,714.86 L82.80,714.89 L83.60,714.91 L84.40,714.94 L85.20,714.96 L86.00,714.97 L86.80,714.99 L87.60,715.01 L88.40,715.02 L89.20,715.04 L90.00,715.05 L90.80,715.06 L91.60,715.07 L92.40,715.08 L93.20,715.09 L94.00,715.10 L94.80,715.11 L95.60,715.11 L96.40,715.12 L97.20,715.13 L98.00,715.13 L98.80,715.14 L99.60,715.14 L100.40,715.15 L101.20,715.15 L102.00,715.15 L102.80,715.16 L103.60,715.16 L104.40,715.16 L105.20,715.17 L106.00,715.17 L106.80,715.17 L107.60,715.17 L108.40,715.18 L109.20,715.18 L110.00,715.18 L110.80,715.18 L111.60,715.18 L112.40,715.18 L113.20,715.18 L114.00,715.18" fill="none" stroke="#eca262" stroke-width="0.8" stroke-linejoin="round"/>
<path d="M34.00,714.85 L34.80,714.80 L35.60,714.75 L36.40,714.68 L37.20,714.61 L38.00,714.51 L38.80,714.40 L39.60,714.25 L40.40,714.05 L41.20,713.78 L42.00,713.40 L42.80,712.82 L43.60,711.93 L44.40,710.57 L45.20,708.52 L46.00,705.50 L46.80,701.24 L47.60,695.48 L48.40,688.06 L49.20,679.03 L50.00,668.72 L50.80,657.95 L51.60,648.21 L52.40,641.63 L53.20,640.13 L54.00,643.09 L54.80,649.30 L55.60,657.51 L56.40,666.48 L57.20,675.29 L58.00,683.36 L58.80,690.40 L59.60,696.29 L60.40,701.03 L61.20,704.73 L62.00,707.51 L62.80,709.56 L63.60,711.03 L64.40,712.06 L65.20,712.79 L66.00,713.29 L66.80,713.65 L67.60,713.80 L68.40,713.91 L69.20,714.01 L70.00,714.10 L70.80,714.19 L71.60,714.26 L72.40,714.34 L73.20,714.40 L74.00,714.46 L74.80,714.52 L75.60,714.57 L76.40,714.62 L77.20,714.67 L78.00,714.71 L78.80,714.74 L79.60,714.78 L80.40,714.81 L81.20,714.84 L82.00,714.87 L82.80,714.89 L83.60,714.92 L84.40,714.94 L85.20,714.96 L86.00,714.98 L86.80,715.00 L87.60,715.01 L88.40,715.03 L89.20,715.04 L90.00,715.05 L90.80,715.06 L91.60,715.07 L92.40,715.08 L93.20,715.09 L94.00,715.10 L94.80,715.11 L95.60,715.12 L96.40,715.12 L97.20,715.13 L98.00,715.13 L98.80,715.14 L99.60,715.14 L100.40,715.15 L101.20,715.15 L102.00,715.16 L102.80,715.16 L103.60,715.16 L104.40,715.16 L105.20,715.17 L106.00,715.17 L106.80,715.17 L107.60,715.17 L108.40,715.17 L109.20,715.18 L110.00,715.18 L110.80,715.18 L111.60,715.18 L112.40,715.18 L113.20,715.18 L114.00,715.18" fill="none" stroke="#dcd44a" stroke-width="0.8" stroke-linejoin="round"/>
<path d="M55.40,714.91 L57.10,713.83 L58.80,707.97 L60.50,702.31 L62.20,683.12 L63.90,659.93 L65.60,650.07 L67.30,644.37 L69.00,652.47 L70.70,649.40 L72.40,654.50 L74.10,671.60 L75.80,678.88 L77.50,680.67 L79.20,681.21 L80.90,685.34 L82.60,689.10 L84.30,693.87 L86.00,697.22 L87.70,700.55 L89.40,701.24 L91.10,704.34 L92.80,707.77 L94.50,708.55 L96.20,709.96 L97.90,710.77 L99.60,711.11 L101.30,712.07 L103.00,713.62 L104.70,713.90 L106.40,715.05 L108.10,715.16 L109.80,714.45" fill="none" stroke="#111" stroke-width="1.6" stroke-linejoin="round"/>
<path d="M54.40,714.91 L56.10,713.83 L57.80,707.97 L59.50,702.31 L61.20,683.12 L62.90,659.93 L64.60,650.07 L66.30,644.81 L68.00,649.80 L69.70,650.13 L71.40,653.58 L73.10,670.64 L74.80,678.72 L76.50,680.55 L78.20,681.01 L79.90,685.14 L81.60,688.90 L83.30,693.68 L85.00,697.02 L86.70,700.39 L88.40,701.07 L90.10,704.17 L91.80,707.71 L93.50,708.48 L95.20,709.89 L96.90,710.70 L98.60,711.07 L100.30,712.02 L102.00,713.58 L103.70,713.87 L105.40,715.02 L107.10,715.13 L108.80,714.42" fill="none" stroke="#959595" stroke-width="1.6" stroke-linejoin="round"/>
<text transform="translate(20.90,673.95) rotate(-90)" x="0" y="0" font-size="11.5" fill="#222" stroke="#222" stroke-width="0.16" text-anchor="middle" textLength="20.6" lengthAdjust="spacingAndGlyphs">Count</text>
<line x1="30.70" y1="715.50" x2="33.50" y2="715.50" stroke="#555" stroke-width="0.9"/>
<text x="30.90" y="718.10" font-size="8.0" fill="#333" text-anchor="end" textLength="4.00" lengthAdjust="spacingAndGlyphs" stroke="#333" stroke-width="0.07">0</text>
<text x="39.15" y="727.50" font-size="8.2" fill="#222" text-anchor="start" textLength="4.00" lengthAdjust="spacingAndGlyphs" stroke="#222" stroke-width="0.07">0</text>
<text x="44.50" y="727.50" font-size="8.2" fill="#222" text-anchor="start" textLength="7.90" lengthAdjust="spacingAndGlyphs" stroke="#222" stroke-width="0.07">10</text>
<text x="52.20" y="724.20" font-size="5.4" fill="#222" text-anchor="start" stroke="#222" stroke-width="0.07">2</text>
<text x="65.60" y="727.50" font-size="8.2" fill="#222" text-anchor="start" textLength="7.90" lengthAdjust="spacingAndGlyphs" stroke="#222" stroke-width="0.07">10</text>
<text x="73.30" y="724.20" font-size="5.4" fill="#222" text-anchor="start" stroke="#222" stroke-width="0.07">3</text>
<text x="83.80" y="727.50" font-size="8.2" fill="#222" text-anchor="start" textLength="7.90" lengthAdjust="spacingAndGlyphs" stroke="#222" stroke-width="0.07">10</text>
<text x="91.50" y="724.20" font-size="5.4" fill="#222" text-anchor="start" stroke="#222" stroke-width="0.07">4</text>
<text x="102.00" y="727.50" font-size="8.2" fill="#222" text-anchor="start" textLength="7.90" lengthAdjust="spacingAndGlyphs" stroke="#222" stroke-width="0.07">10</text>
<text x="109.70" y="724.20" font-size="5.4" fill="#222" text-anchor="start" stroke="#222" stroke-width="0.07">5</text>
<text x="73.60" y="741.30" font-size="10.2" fill="#222" text-anchor="middle" textLength="21.00" lengthAdjust="spacingAndGlyphs" stroke="#222" stroke-width="0.04">APC-A</text>
<text x="73.60" y="753.40" font-size="10.0" fill="#222" text-anchor="middle" textLength="48.50" lengthAdjust="spacingAndGlyphs" stroke="#222" stroke-width="0.04">MS26, epD9.1</text>
<text x="71.40" y="639.60" font-size="7.9" fill="#111" text-anchor="start" font-style="italic" textLength="40.30" lengthAdjust="spacingAndGlyphs" stroke="#111" stroke-width="0.07">RHD*1227A</text>
<line x1="79.50" y1="641.20" x2="77.03" y2="644.83" stroke="#111" stroke-width="1.0"/>
<polygon points="75.00,647.80 75.62,643.87 78.43,645.78" fill="#111"/>
<text x="83.00" y="667.00" font-size="7.9" fill="#9a9a9a" text-anchor="start" textLength="26.00" lengthAdjust="spacingAndGlyphs" stroke="#9a9a9a" stroke-width="0.07">wt <tspan font-style="italic">RHD</tspan></text>
<line x1="84.00" y1="669.50" x2="81.68" y2="671.59" stroke="#9a9a9a" stroke-width="1.0"/>
<polygon points="79.00,674.00 80.54,670.33 82.81,672.86" fill="#9a9a9a"/>
<rect x="155.70" y="631.60" width="80.90" height="84.10" fill="#fff" stroke="#8a8a8a" stroke-width="1.1"/>
<path d="M156.20,715.24 L157.00,715.22 L157.80,715.20 L158.60,715.17 L159.40,715.14 L160.20,715.10 L161.00,715.06 L161.80,715.00 L162.60,714.94 L163.40,714.86 L164.20,714.76 L165.00,714.64 L165.80,714.47 L166.60,714.24 L167.40,713.91 L168.20,713.39 L169.00,712.54 L169.80,711.14 L170.60,708.86 L171.40,705.27 L172.20,699.92 L173.00,692.43 L173.80,682.67 L174.60,670.97 L175.40,658.45 L176.20,647.45 L177.00,641.39 L177.80,642.23 L178.60,647.94 L179.40,656.79 L180.20,666.88 L181.00,676.81 L181.80,685.74 L182.60,693.29 L183.40,699.34 L184.20,703.97 L185.00,707.36 L185.80,709.76 L186.60,710.93 L187.40,711.16 L188.20,711.38 L189.00,711.59 L189.80,711.79 L190.60,711.98 L191.40,712.16 L192.20,712.32 L193.00,712.48 L193.80,712.64 L194.60,712.78 L195.40,712.92 L196.20,713.04 L197.00,713.17 L197.80,713.28 L198.60,713.39 L199.40,713.50 L200.20,713.60 L201.00,713.69 L201.80,713.78 L202.60,713.86 L203.40,713.94 L204.20,714.02 L205.00,714.09 L205.80,714.16 L206.60,714.22 L207.40,714.28 L208.20,714.34 L209.00,714.40 L209.80,714.45 L210.60,714.50 L211.40,714.54 L212.20,714.59 L213.00,714.63 L213.80,714.67 L214.60,714.71 L215.40,714.75 L216.20,714.78 L217.00,714.81 L217.80,714.84 L218.60,714.87 L219.40,714.90 L220.20,714.92 L221.00,714.95 L221.80,714.97 L222.60,714.99 L223.40,715.02 L224.20,715.04 L225.00,715.05 L225.80,715.07 L226.60,715.09 L227.40,715.11 L228.20,715.12 L229.00,715.14 L229.80,715.15 L230.60,715.16 L231.40,715.17 L232.20,715.19 L233.00,715.20 L233.80,715.21 L234.60,715.22 L235.40,715.23" fill="none" stroke="#5a5250" stroke-width="0.8" stroke-linejoin="round"/>
<path d="M156.20,715.28 L157.00,715.26 L157.80,715.25 L158.60,715.23 L159.40,715.21 L160.20,715.18 L161.00,715.15 L161.80,715.12 L162.60,715.07 L163.40,715.02 L164.20,714.96 L165.00,714.89 L165.80,714.80 L166.60,714.68 L167.40,714.52 L168.20,714.31 L169.00,713.99 L169.80,713.51 L170.60,712.72 L171.40,711.42 L172.20,709.29 L173.00,705.94 L173.80,700.92 L174.60,693.87 L175.40,684.64 L176.20,673.51 L177.00,661.49 L177.80,650.75 L178.60,644.54 L179.40,644.98 L180.20,650.21 L181.00,658.57 L181.80,668.22 L182.60,677.79 L183.40,686.44 L184.20,693.77 L185.00,699.66 L185.80,704.19 L186.60,707.51 L187.40,709.87 L188.20,711.10 L189.00,711.32 L189.80,711.53 L190.60,711.73 L191.40,711.92 L192.20,712.11 L193.00,712.28 L193.80,712.44 L194.60,712.59 L195.40,712.74 L196.20,712.88 L197.00,713.01 L197.80,713.13 L198.60,713.25 L199.40,713.36 L200.20,713.47 L201.00,713.57 L201.80,713.66 L202.60,713.75 L203.40,713.84 L204.20,713.92 L205.00,714.00 L205.80,714.07 L206.60,714.14 L207.40,714.20 L208.20,714.27 L209.00,714.32 L209.80,714.38 L210.60,714.43 L211.40,714.48 L212.20,714.53 L213.00,714.58 L213.80,714.62 L214.60,714.66 L215.40,714.70 L216.20,714.73 L217.00,714.77 L217.80,714.80 L218.60,714.83 L219.40,714.86 L220.20,714.89 L221.00,714.92 L221.80,714.94 L222.60,714.97 L223.40,714.99 L224.20,715.01 L225.00,715.03 L225.80,715.05 L226.60,715.07 L227.40,715.08 L228.20,715.10 L229.00,715.12 L229.80,715.13 L230.60,715.15 L231.40,715.16 L232.20,715.17 L233.00,715.18 L233.80,715.19 L234.60,715.20 L235.40,715.22" fill="none" stroke="#9a8cb8" stroke-width="0.8" stroke-linejoin="round"/>
<path d="M156.20,715.22 L157.00,715.19 L157.80,715.16 L158.60,715.13 L159.40,715.09 L160.20,715.05 L161.00,714.99 L161.80,714.93 L162.60,714.84 L163.40,714.74 L164.20,714.60 L165.00,714.43 L165.80,714.17 L166.60,713.80 L167.40,713.21 L168.20,712.23 L169.00,710.62 L169.80,708.02 L170.60,703.99 L171.40,698.10 L172.20,690.03 L173.00,679.77 L173.80,667.85 L174.60,655.68 L175.40,646.00 L176.20,642.20 L177.00,644.72 L177.80,651.51 L178.60,660.78 L179.40,670.78 L180.20,680.31 L181.00,688.70 L181.80,695.66 L182.60,701.16 L183.40,705.32 L184.20,708.32 L185.00,710.42 L185.80,711.85 L186.60,712.80 L187.40,713.44 L188.20,713.86 L189.00,713.98 L189.80,714.08 L190.60,714.19 L191.40,714.28 L192.20,714.37 L193.00,714.45 L193.80,714.52 L194.60,714.59 L195.40,714.65 L196.20,714.71 L197.00,714.76 L197.80,714.81 L198.60,714.85 L199.40,714.90 L200.20,714.94 L201.00,714.97 L201.80,715.00 L202.60,715.03 L203.40,715.06 L204.20,715.09 L205.00,715.11 L205.80,715.13 L206.60,715.15 L207.40,715.17 L208.20,715.19 L209.00,715.21 L209.80,715.22 L210.60,715.24 L211.40,715.25 L212.20,715.26 L213.00,715.27 L213.80,715.28 L214.60,715.29 L215.40,715.30 L216.20,715.31 L217.00,715.31 L217.80,715.32 L218.60,715.33 L219.40,715.33 L220.20,715.34 L221.00,715.34 L221.80,715.35 L222.60,715.35 L223.40,715.35 L224.20,715.36 L225.00,715.36 L225.80,715.36 L226.60,715.37 L227.40,715.37 L228.20,715.37 L229.00,715.37 L229.80,715.38 L230.60,715.38 L231.40,715.38 L232.20,715.38 L233.00,715.38 L233.80,715.38 L234.60,715.39 L235.40,715.39" fill="none" stroke="#4f9ea4" stroke-width="0.8" stroke-linejoin="round"/>
<path d="M156.20,715.18 L157.00,715.15 L157.80,715.12 L158.60,715.08 L159.40,715.03 L160.20,714.97 L161.00,714.90 L161.80,714.81 L162.60,714.69 L163.40,714.55 L164.20,714.35 L165.00,714.06 L165.80,713.63 L166.60,712.93 L167.40,711.78 L168.20,709.89 L169.00,706.87 L169.80,702.26 L170.60,695.66 L171.40,686.82 L172.20,675.86 L173.00,663.55 L173.80,651.71 L174.60,643.45 L175.40,641.86 L176.20,645.90 L177.00,653.73 L177.80,663.47 L178.60,673.51 L179.40,682.81 L180.20,690.83 L181.00,697.39 L181.80,702.49 L182.60,706.29 L183.40,709.01 L184.20,710.89 L185.00,712.16 L185.80,713.01 L186.60,713.57 L187.40,713.88 L188.20,714.00 L189.00,714.11 L189.80,714.21 L190.60,714.30 L191.40,714.38 L192.20,714.46 L193.00,714.53 L193.80,714.60 L194.60,714.66 L195.40,714.72 L196.20,714.77 L197.00,714.82 L197.80,714.86 L198.60,714.90 L199.40,714.94 L200.20,714.98 L201.00,715.01 L201.80,715.04 L202.60,715.07 L203.40,715.09 L204.20,715.12 L205.00,715.14 L205.80,715.16 L206.60,715.18 L207.40,715.19 L208.20,715.21 L209.00,715.22 L209.80,715.24 L210.60,715.25 L211.40,715.26 L212.20,715.27 L213.00,715.28 L213.80,715.29 L214.60,715.30 L215.40,715.31 L216.20,715.31 L217.00,715.32 L217.80,715.33 L218.60,715.33 L219.40,715.34 L220.20,715.34 L221.00,715.35 L221.80,715.35 L222.60,715.36 L223.40,715.36 L224.20,715.36 L225.00,715.36 L225.80,715.37 L226.60,715.37 L227.40,715.37 L228.20,715.37 L229.00,715.38 L229.80,715.38 L230.60,715.38 L231.40,715.38 L232.20,715.38 L233.00,715.38 L233.80,715.39 L234.60,715.39 L235.40,715.39" fill="none" stroke="#78b246" stroke-width="0.8" stroke-linejoin="round"/>
<path d="M156.20,715.27 L157.00,715.25 L157.80,715.24 L158.60,715.22 L159.40,715.19 L160.20,715.17 L161.00,715.14 L161.80,715.10 L162.60,715.05 L163.40,715.00 L164.20,714.93 L165.00,714.85 L165.80,714.74 L166.60,714.61 L167.40,714.44 L168.20,714.19 L169.00,713.82 L169.80,713.23 L170.60,712.27 L171.40,710.67 L172.20,708.10 L173.00,704.12 L173.80,698.29 L174.60,690.31 L175.40,680.16 L176.20,668.37 L177.00,656.33 L177.80,646.75 L178.60,643.00 L179.40,645.50 L180.20,652.21 L181.00,661.38 L181.80,671.27 L182.60,680.69 L183.40,688.99 L184.20,695.88 L185.00,701.32 L185.80,705.43 L186.60,708.40 L187.40,710.48 L188.20,711.12 L189.00,711.35 L189.80,711.56 L190.60,711.76 L191.40,711.95 L192.20,712.13 L193.00,712.30 L193.80,712.46 L194.60,712.61 L195.40,712.75 L196.20,712.89 L197.00,713.02 L197.80,713.15 L198.60,713.26 L199.40,713.37 L200.20,713.48 L201.00,713.58 L201.80,713.67 L202.60,713.76 L203.40,713.85 L204.20,713.93 L205.00,714.00 L205.80,714.08 L206.60,714.15 L207.40,714.21 L208.20,714.27 L209.00,714.33 L209.80,714.39 L210.60,714.44 L211.40,714.49 L212.20,714.54 L213.00,714.58 L213.80,714.62 L214.60,714.66 L215.40,714.70 L216.20,714.74 L217.00,714.77 L217.80,714.81 L218.60,714.84 L219.40,714.87 L220.20,714.89 L221.00,714.92 L221.80,714.94 L222.60,714.97 L223.40,714.99 L224.20,715.01 L225.00,715.03 L225.80,715.05 L226.60,715.07 L227.40,715.09 L228.20,715.10 L229.00,715.12 L229.80,715.13 L230.60,715.15 L231.40,715.16 L232.20,715.17 L233.00,715.18 L233.80,715.20 L234.60,715.21 L235.40,715.22" fill="none" stroke="#7a8aa8" stroke-width="0.8" stroke-linejoin="round"/>
<path d="M156.20,715.26 L157.00,715.25 L157.80,715.23 L158.60,715.21 L159.40,715.18 L160.20,715.15 L161.00,715.12 L161.80,715.08 L162.60,715.02 L163.40,714.96 L164.20,714.88 L165.00,714.79 L165.80,714.66 L166.60,714.49 L167.40,714.25 L168.20,713.89 L169.00,713.32 L169.80,712.38 L170.60,710.83 L171.40,708.33 L172.20,704.48 L173.00,698.91 L173.80,691.33 L174.60,681.80 L175.40,670.86 L176.20,659.94 L177.00,651.66 L177.80,649.04 L178.60,651.88 L179.40,658.41 L180.20,666.98 L181.00,676.05 L181.80,684.58 L182.60,692.04 L183.40,698.19 L184.20,703.02 L185.00,706.65 L185.80,709.26 L186.60,711.08 L187.40,712.31 L188.20,713.13 L189.00,713.68 L189.80,714.01 L190.60,714.12 L191.40,714.22 L192.20,714.31 L193.00,714.39 L193.80,714.47 L194.60,714.54 L195.40,714.61 L196.20,714.67 L197.00,714.73 L197.80,714.78 L198.60,714.83 L199.40,714.87 L200.20,714.91 L201.00,714.95 L201.80,714.98 L202.60,715.01 L203.40,715.04 L204.20,715.07 L205.00,715.10 L205.80,715.12 L206.60,715.14 L207.40,715.16 L208.20,715.18 L209.00,715.20 L209.80,715.21 L210.60,715.23 L211.40,715.24 L212.20,715.25 L213.00,715.26 L213.80,715.27 L214.60,715.28 L215.40,715.29 L216.20,715.30 L217.00,715.31 L217.80,715.32 L218.60,715.32 L219.40,715.33 L220.20,715.33 L221.00,715.34 L221.80,715.34 L222.60,715.35 L223.40,715.35 L224.20,715.36 L225.00,715.36 L225.80,715.36 L226.60,715.37 L227.40,715.37 L228.20,715.37 L229.00,715.37 L229.80,715.37 L230.60,715.38 L231.40,715.38 L232.20,715.38 L233.00,715.38 L233.80,715.38 L234.60,715.38 L235.40,715.39" fill="none" stroke="#eca262" stroke-width="0.8" stroke-linejoin="round"/>
<path d="M156.20,715.19 L157.00,715.17 L157.80,715.13 L158.60,715.10 L159.40,715.05 L160.20,715.00 L161.00,714.93 L161.80,714.85 L162.60,714.75 L163.40,714.62 L164.20,714.45 L165.00,714.21 L165.80,713.87 L166.60,713.33 L167.40,712.44 L168.20,710.98 L169.00,708.61 L169.80,704.88 L170.60,699.34 L171.40,691.63 L172.20,681.63 L173.00,669.71 L173.80,657.07 L174.60,646.15 L175.40,640.45 L176.20,641.68 L177.00,647.71 L177.80,656.78 L178.60,667.00 L179.40,676.99 L180.20,685.94 L181.00,693.48 L181.80,699.50 L182.60,704.09 L183.40,707.45 L184.20,709.82 L185.00,711.44 L185.80,712.52 L186.60,713.24 L187.40,713.73 L188.20,713.91 L189.00,714.02 L189.80,714.13 L190.60,714.23 L191.40,714.32 L192.20,714.40 L193.00,714.48 L193.80,714.55 L194.60,714.61 L195.40,714.67 L196.20,714.73 L197.00,714.78 L197.80,714.83 L198.60,714.87 L199.40,714.91 L200.20,714.95 L201.00,714.98 L201.80,715.02 L202.60,715.05 L203.40,715.07 L204.20,715.10 L205.00,715.12 L205.80,715.14 L206.60,715.16 L207.40,715.18 L208.20,715.20 L209.00,715.21 L209.80,715.23 L210.60,715.24 L211.40,715.25 L212.20,715.26 L213.00,715.27 L213.80,715.28 L214.60,715.29 L215.40,715.30 L216.20,715.31 L217.00,715.32 L217.80,715.32 L218.60,715.33 L219.40,715.33 L220.20,715.34 L221.00,715.34 L221.80,715.35 L222.60,715.35 L223.40,715.36 L224.20,715.36 L225.00,715.36 L225.80,715.37 L226.60,715.37 L227.40,715.37 L228.20,715.37 L229.00,715.37 L229.80,715.38 L230.60,715.38 L231.40,715.38 L232.20,715.38 L233.00,715.38 L233.80,715.38 L234.60,715.39 L235.40,715.39" fill="none" stroke="#d8d24c" stroke-width="0.8" stroke-linejoin="round"/>
<path d="M178.00,715.50 L179.70,711.75 L181.40,708.65 L183.10,704.63 L184.80,701.95 L186.50,696.24 L188.20,692.59 L189.90,687.89 L191.60,680.23 L193.30,678.03 L195.00,673.12 L196.70,668.77 L198.40,664.41 L200.10,660.23 L201.80,663.45 L203.50,655.71 L205.20,654.17 L206.90,655.21 L208.60,651.51 L210.30,647.69 L212.00,647.81 L213.70,650.08 L215.40,656.30 L217.10,657.77 L218.80,660.25 L220.50,665.64 L222.20,672.49 L223.90,677.33 L225.60,680.46 L227.30,687.45 L229.00,691.25 L230.70,693.42 L232.40,697.44 L234.10,700.26 L235.80,701.70" fill="none" stroke="#959595" stroke-width="1.6" stroke-linejoin="round"/>
<path d="M168.90,715.00 L170.60,714.58 L172.30,711.45 L174.00,710.55 L175.70,710.00 L177.40,705.69 L179.10,703.98 L180.80,702.48 L182.50,698.49 L184.20,692.57 L185.90,689.11 L187.60,683.24 L189.30,677.99 L191.00,675.23 L192.70,670.81 L194.40,666.19 L196.10,662.69 L197.80,660.34 L199.50,661.85 L201.20,657.04 L202.90,650.92 L204.60,648.93 L206.30,646.16 L208.00,654.58 L209.70,649.25 L211.40,648.82 L213.10,651.32 L214.80,652.05 L216.50,660.27 L218.20,664.94 L219.90,666.02 L221.60,673.06 L223.30,676.16 L225.00,680.31 L226.70,685.01 L228.40,688.35 L230.10,693.43 L231.80,696.67 L233.50,701.67 L235.20,704.15" fill="none" stroke="#111" stroke-width="1.75" stroke-linejoin="round"/>
<text transform="translate(143.10,674.35) rotate(-90)" x="0" y="0" font-size="11.5" fill="#222" stroke="#222" stroke-width="0.16" text-anchor="middle" textLength="20.6" lengthAdjust="spacingAndGlyphs">Count</text>
<line x1="152.90" y1="715.70" x2="155.70" y2="715.70" stroke="#555" stroke-width="0.9"/>
<text x="153.10" y="718.30" font-size="8.0" fill="#333" text-anchor="end" textLength="4.00" lengthAdjust="spacingAndGlyphs" stroke="#333" stroke-width="0.07">0</text>
<text x="161.15" y="727.70" font-size="8.2" fill="#222" text-anchor="start" textLength="4.00" lengthAdjust="spacingAndGlyphs" stroke="#222" stroke-width="0.07">0</text>
<text x="166.90" y="727.70" font-size="8.2" fill="#222" text-anchor="start" textLength="7.90" lengthAdjust="spacingAndGlyphs" stroke="#222" stroke-width="0.07">10</text>
<text x="174.60" y="724.40" font-size="5.4" fill="#222" text-anchor="start" stroke="#222" stroke-width="0.07">2</text>
<text x="186.80" y="727.70" font-size="8.2" fill="#222" text-anchor="start" textLength="7.90" lengthAdjust="spacingAndGlyphs" stroke="#222" stroke-width="0.07">10</text>
<text x="194.50" y="724.40" font-size="5.4" fill="#222" text-anchor="start" stroke="#222" stroke-width="0.07">3</text>
<text x="205.80" y="727.70" font-size="8.2" fill="#222" text-anchor="start" textLength="7.90" lengthAdjust="spacingAndGlyphs" stroke="#222" stroke-width="0.07">10</text>
<text x="213.50" y="724.40" font-size="5.4" fill="#222" text-anchor="start" stroke="#222" stroke-width="0.07">4</text>
<text x="223.10" y="727.70" font-size="8.2" fill="#222" text-anchor="start" textLength="7.90" lengthAdjust="spacingAndGlyphs" stroke="#222" stroke-width="0.07">10</text>
<text x="230.80" y="724.40" font-size="5.4" fill="#222" text-anchor="start" stroke="#222" stroke-width="0.07">5</text>
<text x="195.65" y="741.50" font-size="10.2" fill="#222" text-anchor="middle" textLength="21.00" lengthAdjust="spacingAndGlyphs" stroke="#222" stroke-width="0.04">APC-A</text>
<text x="195.65" y="753.60" font-size="10.0" fill="#222" text-anchor="middle" textLength="58.50" lengthAdjust="spacingAndGlyphs" stroke="#222" stroke-width="0.04">P3×290, epD3.1</text>
<text x="186.00" y="640.20" font-size="7.9" fill="#111" text-anchor="start" font-style="italic" textLength="40.40" lengthAdjust="spacingAndGlyphs" stroke="#111" stroke-width="0.07">RHD*1227A</text>
<line x1="200.50" y1="641.00" x2="200.50" y2="646.40" stroke="#111" stroke-width="1.0"/>
<polygon points="200.50,650.00 198.80,646.40 202.20,646.40" fill="#111"/>
<text x="196.00" y="689.40" font-size="7.9" fill="#9a9a9a" text-anchor="start" textLength="25.00" lengthAdjust="spacingAndGlyphs" stroke="#9a9a9a" stroke-width="0.07">wt <tspan font-style="italic">RHD</tspan></text>
<line x1="200.50" y1="681.50" x2="200.50" y2="676.60" stroke="#9a9a9a" stroke-width="1.0"/>
<polygon points="200.50,673.00 202.20,676.60 198.80,676.60" fill="#9a9a9a"/>
<rect x="277.20" y="631.00" width="80.40" height="84.70" fill="#fff" stroke="#8a8a8a" stroke-width="1.1"/>
<path d="M277.70,715.23 L278.50,715.21 L279.30,715.18 L280.10,715.15 L280.90,715.11 L281.70,715.06 L282.50,714.99 L283.30,714.92 L284.10,714.82 L284.90,714.69 L285.70,714.51 L286.50,714.26 L287.30,713.88 L288.10,713.23 L288.90,712.09 L289.70,710.04 L290.50,706.45 L291.30,700.59 L292.10,691.77 L292.90,679.71 L293.70,665.04 L294.50,650.08 L295.30,639.59 L296.10,638.51 L296.90,644.96 L297.70,655.87 L298.50,668.21 L299.30,679.87 L300.10,689.81 L300.90,697.64 L301.70,703.43 L302.50,707.47 L303.30,709.33 L304.10,709.56 L304.90,709.78 L305.70,709.99 L306.50,710.19 L307.30,710.39 L308.10,710.57 L308.90,710.75 L309.70,710.93 L310.50,711.09 L311.30,711.26 L312.10,711.41 L312.90,711.56 L313.70,711.70 L314.50,711.84 L315.30,711.97 L316.10,712.10 L316.90,712.23 L317.70,712.34 L318.50,712.46 L319.30,712.57 L320.10,712.67 L320.90,712.78 L321.70,712.87 L322.50,712.97 L323.30,713.06 L324.10,713.15 L324.90,713.23 L325.70,713.31 L326.50,713.39 L327.30,713.47 L328.10,713.54 L328.90,713.61 L329.70,713.67 L330.50,713.74 L331.30,713.80 L332.10,713.86 L332.90,713.92 L333.70,713.97 L334.50,714.03 L335.30,714.08 L336.10,714.13 L336.90,714.18 L337.70,714.22 L338.50,714.27 L339.30,714.31 L340.10,714.35 L340.90,714.39 L341.70,714.43 L342.50,714.46 L343.30,714.50 L344.10,714.53 L344.90,714.56 L345.70,714.59 L346.50,714.62 L347.30,714.65 L348.10,714.68 L348.90,714.71 L349.70,714.73 L350.50,714.76 L351.30,714.78 L352.10,714.81 L352.90,714.83 L353.70,714.85 L354.50,714.87 L355.30,714.89 L356.10,714.91 L356.90,714.93" fill="none" stroke="#5a5250" stroke-width="0.8" stroke-linejoin="round"/>
<path d="M277.70,715.28 L278.50,715.26 L279.30,715.24 L280.10,715.22 L280.90,715.19 L281.70,715.16 L282.50,715.12 L283.30,715.07 L284.10,715.01 L284.90,714.94 L285.70,714.84 L286.50,714.72 L287.30,714.56 L288.10,714.32 L288.90,713.96 L289.70,713.37 L290.50,712.31 L291.30,710.40 L292.10,707.07 L292.90,701.59 L293.70,693.30 L294.50,681.90 L295.30,667.92 L296.10,653.44 L296.90,642.92 L297.70,641.30 L298.50,647.14 L299.30,657.45 L300.10,669.30 L300.90,680.59 L301.70,690.26 L302.50,697.92 L303.30,703.60 L304.10,707.58 L304.90,709.55 L305.70,709.77 L306.50,709.98 L307.30,710.19 L308.10,710.38 L308.90,710.57 L309.70,710.75 L310.50,710.92 L311.30,711.09 L312.10,711.25 L312.90,711.41 L313.70,711.56 L314.50,711.70 L315.30,711.84 L316.10,711.97 L316.90,712.10 L317.70,712.22 L318.50,712.34 L319.30,712.46 L320.10,712.57 L320.90,712.67 L321.70,712.77 L322.50,712.87 L323.30,712.97 L324.10,713.06 L324.90,713.14 L325.70,713.23 L326.50,713.31 L327.30,713.39 L328.10,713.46 L328.90,713.54 L329.70,713.61 L330.50,713.67 L331.30,713.74 L332.10,713.80 L332.90,713.86 L333.70,713.92 L334.50,713.97 L335.30,714.03 L336.10,714.08 L336.90,714.13 L337.70,714.17 L338.50,714.22 L339.30,714.26 L340.10,714.31 L340.90,714.35 L341.70,714.39 L342.50,714.42 L343.30,714.46 L344.10,714.50 L344.90,714.53 L345.70,714.56 L346.50,714.59 L347.30,714.62 L348.10,714.65 L348.90,714.68 L349.70,714.71 L350.50,714.73 L351.30,714.76 L352.10,714.78 L352.90,714.81 L353.70,714.83 L354.50,714.85 L355.30,714.87 L356.10,714.89 L356.90,714.91" fill="none" stroke="#9a8cb8" stroke-width="0.8" stroke-linejoin="round"/>
<path d="M277.70,715.20 L278.50,715.18 L279.30,715.14 L280.10,715.10 L280.90,715.04 L281.70,714.98 L282.50,714.89 L283.30,714.79 L284.10,714.65 L284.90,714.46 L285.70,714.18 L286.50,713.74 L287.30,712.98 L288.10,711.63 L288.90,709.21 L289.70,705.06 L290.50,698.44 L291.30,688.76 L292.10,675.96 L292.90,661.08 L293.70,647.11 L294.50,639.35 L295.30,641.03 L296.10,649.08 L296.90,660.56 L297.70,672.66 L298.50,683.69 L299.30,692.84 L300.10,699.90 L300.90,705.03 L301.70,708.54 L302.50,710.83 L303.30,712.28 L304.10,712.67 L304.90,712.82 L305.70,712.96 L306.50,713.10 L307.30,713.23 L308.10,713.35 L308.90,713.46 L309.70,713.57 L310.50,713.67 L311.30,713.77 L312.10,713.86 L312.90,713.94 L313.70,714.02 L314.50,714.10 L315.30,714.17 L316.10,714.24 L316.90,714.30 L317.70,714.37 L318.50,714.42 L319.30,714.48 L320.10,714.53 L320.90,714.58 L321.70,714.62 L322.50,714.67 L323.30,714.71 L324.10,714.75 L324.90,714.78 L325.70,714.82 L326.50,714.85 L327.30,714.88 L328.10,714.91 L328.90,714.94 L329.70,714.96 L330.50,714.99 L331.30,715.01 L332.10,715.03 L332.90,715.05 L333.70,715.07 L334.50,715.09 L335.30,715.11 L336.10,715.12 L336.90,715.14 L337.70,715.15 L338.50,715.17 L339.30,715.18 L340.10,715.19 L340.90,715.20 L341.70,715.21 L342.50,715.22 L343.30,715.23 L344.10,715.24 L344.90,715.25 L345.70,715.26 L346.50,715.27 L347.30,715.28 L348.10,715.28 L348.90,715.29 L349.70,715.29 L350.50,715.30 L351.30,715.31 L352.10,715.31 L352.90,715.32 L353.70,715.32 L354.50,715.33 L355.30,715.33 L356.10,715.33 L356.90,715.34" fill="none" stroke="#4f9ea4" stroke-width="0.8" stroke-linejoin="round"/>
<path d="M277.70,715.16 L278.50,715.13 L279.30,715.08 L280.10,715.02 L280.90,714.95 L281.70,714.86 L282.50,714.74 L283.30,714.59 L284.10,714.37 L284.90,714.05 L285.70,713.53 L286.50,712.62 L287.30,710.98 L288.10,708.08 L288.90,703.20 L289.70,695.61 L290.50,684.83 L291.30,671.10 L292.10,655.94 L292.90,643.18 L293.70,638.41 L294.50,642.42 L295.30,651.96 L296.10,663.97 L296.90,675.97 L297.70,686.54 L298.50,695.11 L299.30,701.59 L300.10,706.21 L300.90,709.32 L301.70,711.33 L302.50,712.54 L303.30,712.69 L304.10,712.84 L304.90,712.99 L305.70,713.12 L306.50,713.25 L307.30,713.37 L308.10,713.48 L308.90,713.59 L309.70,713.69 L310.50,713.78 L311.30,713.87 L312.10,713.96 L312.90,714.04 L313.70,714.11 L314.50,714.18 L315.30,714.25 L316.10,714.32 L316.90,714.38 L317.70,714.43 L318.50,714.49 L319.30,714.54 L320.10,714.59 L320.90,714.63 L321.70,714.67 L322.50,714.71 L323.30,714.75 L324.10,714.79 L324.90,714.82 L325.70,714.85 L326.50,714.88 L327.30,714.91 L328.10,714.94 L328.90,714.97 L329.70,714.99 L330.50,715.01 L331.30,715.03 L332.10,715.05 L332.90,715.07 L333.70,715.09 L334.50,715.11 L335.30,715.12 L336.10,715.14 L336.90,715.15 L337.70,715.17 L338.50,715.18 L339.30,715.19 L340.10,715.20 L340.90,715.22 L341.70,715.23 L342.50,715.24 L343.30,715.24 L344.10,715.25 L344.90,715.26 L345.70,715.27 L346.50,715.28 L347.30,715.28 L348.10,715.29 L348.90,715.30 L349.70,715.30 L350.50,715.31 L351.30,715.31 L352.10,715.32 L352.90,715.32 L353.70,715.33 L354.50,715.33 L355.30,715.33 L356.10,715.34 L356.90,715.34" fill="none" stroke="#78b246" stroke-width="0.8" stroke-linejoin="round"/>
<path d="M277.70,715.27 L278.50,715.25 L279.30,715.23 L280.10,715.21 L280.90,715.18 L281.70,715.14 L282.50,715.10 L283.30,715.05 L284.10,714.98 L284.90,714.90 L285.70,714.79 L286.50,714.66 L287.30,714.47 L288.10,714.19 L288.90,713.76 L289.70,713.01 L290.50,711.67 L291.30,709.28 L292.10,705.17 L292.90,698.62 L293.70,689.04 L294.50,676.37 L295.30,661.65 L296.10,647.83 L296.90,640.15 L297.70,641.81 L298.50,649.78 L299.30,661.13 L300.10,673.11 L300.90,684.02 L301.70,693.08 L302.50,700.07 L303.30,705.14 L304.10,708.61 L304.90,709.56 L305.70,709.78 L306.50,709.99 L307.30,710.19 L308.10,710.39 L308.90,710.57 L309.70,710.75 L310.50,710.93 L311.30,711.09 L312.10,711.25 L312.90,711.41 L313.70,711.56 L314.50,711.70 L315.30,711.84 L316.10,711.97 L316.90,712.10 L317.70,712.23 L318.50,712.34 L319.30,712.46 L320.10,712.57 L320.90,712.67 L321.70,712.78 L322.50,712.87 L323.30,712.97 L324.10,713.06 L324.90,713.15 L325.70,713.23 L326.50,713.31 L327.30,713.39 L328.10,713.47 L328.90,713.54 L329.70,713.61 L330.50,713.67 L331.30,713.74 L332.10,713.80 L332.90,713.86 L333.70,713.92 L334.50,713.97 L335.30,714.03 L336.10,714.08 L336.90,714.13 L337.70,714.18 L338.50,714.22 L339.30,714.26 L340.10,714.31 L340.90,714.35 L341.70,714.39 L342.50,714.43 L343.30,714.46 L344.10,714.50 L344.90,714.53 L345.70,714.56 L346.50,714.59 L347.30,714.62 L348.10,714.65 L348.90,714.68 L349.70,714.71 L350.50,714.73 L351.30,714.76 L352.10,714.78 L352.90,714.81 L353.70,714.83 L354.50,714.85 L355.30,714.87 L356.10,714.89 L356.90,714.91" fill="none" stroke="#7a8aa8" stroke-width="0.8" stroke-linejoin="round"/>
<path d="M277.70,715.26 L278.50,715.24 L279.30,715.22 L280.10,715.19 L280.90,715.16 L281.70,715.12 L282.50,715.07 L283.30,715.01 L284.10,714.93 L284.90,714.83 L285.70,714.70 L286.50,714.51 L287.30,714.25 L288.10,713.82 L288.90,713.08 L289.70,711.76 L290.50,709.39 L291.30,705.37 L292.10,699.01 L292.90,689.82 L293.70,677.85 L294.50,664.20 L295.30,651.89 L296.10,645.88 L296.90,648.30 L297.70,656.18 L298.50,666.83 L299.30,677.80 L300.10,687.66 L300.90,695.76 L301.70,701.96 L302.50,706.42 L303.30,709.46 L304.10,711.44 L304.90,712.69 L305.70,712.93 L306.50,713.07 L307.30,713.20 L308.10,713.32 L308.90,713.43 L309.70,713.54 L310.50,713.65 L311.30,713.74 L312.10,713.84 L312.90,713.92 L313.70,714.00 L314.50,714.08 L315.30,714.15 L316.10,714.22 L316.90,714.29 L317.70,714.35 L318.50,714.41 L319.30,714.46 L320.10,714.52 L320.90,714.57 L321.70,714.61 L322.50,714.66 L323.30,714.70 L324.10,714.74 L324.90,714.77 L325.70,714.81 L326.50,714.84 L327.30,714.87 L328.10,714.90 L328.90,714.93 L329.70,714.95 L330.50,714.98 L331.30,715.00 L332.10,715.02 L332.90,715.05 L333.70,715.07 L334.50,715.08 L335.30,715.10 L336.10,715.12 L336.90,715.13 L337.70,715.15 L338.50,715.16 L339.30,715.18 L340.10,715.19 L340.90,715.20 L341.70,715.21 L342.50,715.22 L343.30,715.23 L344.10,715.24 L344.90,715.25 L345.70,715.26 L346.50,715.27 L347.30,715.27 L348.10,715.28 L348.90,715.29 L349.70,715.29 L350.50,715.30 L351.30,715.30 L352.10,715.31 L352.90,715.32 L353.70,715.32 L354.50,715.32 L355.30,715.33 L356.10,715.33 L356.90,715.34" fill="none" stroke="#eca262" stroke-width="0.8" stroke-linejoin="round"/>
<path d="M277.70,715.18 L278.50,715.14 L279.30,715.10 L280.10,715.05 L280.90,714.99 L281.70,714.91 L282.50,714.80 L283.30,714.67 L284.10,714.49 L284.90,714.23 L285.70,713.83 L286.50,713.16 L287.30,711.96 L288.10,709.81 L288.90,706.07 L289.70,699.98 L290.50,690.86 L291.30,678.48 L292.10,663.55 L292.90,648.55 L293.70,638.44 L294.50,637.94 L295.30,644.83 L296.10,656.02 L296.90,668.49 L297.70,680.19 L298.50,690.10 L299.30,697.88 L300.10,703.61 L300.90,707.59 L301.70,710.22 L302.50,711.89 L303.30,712.56 L304.10,712.71 L304.90,712.86 L305.70,713.00 L306.50,713.14 L307.30,713.26 L308.10,713.38 L308.90,713.49 L309.70,713.60 L310.50,713.70 L311.30,713.79 L312.10,713.88 L312.90,713.97 L313.70,714.05 L314.50,714.12 L315.30,714.19 L316.10,714.26 L316.90,714.32 L317.70,714.38 L318.50,714.44 L319.30,714.49 L320.10,714.54 L320.90,714.59 L321.70,714.64 L322.50,714.68 L323.30,714.72 L324.10,714.76 L324.90,714.79 L325.70,714.83 L326.50,714.86 L327.30,714.89 L328.10,714.92 L328.90,714.94 L329.70,714.97 L330.50,714.99 L331.30,715.02 L332.10,715.04 L332.90,715.06 L333.70,715.08 L334.50,715.09 L335.30,715.11 L336.10,715.13 L336.90,715.14 L337.70,715.16 L338.50,715.17 L339.30,715.18 L340.10,715.19 L340.90,715.21 L341.70,715.22 L342.50,715.23 L343.30,715.24 L344.10,715.25 L344.90,715.25 L345.70,715.26 L346.50,715.27 L347.30,715.28 L348.10,715.28 L348.90,715.29 L349.70,715.30 L350.50,715.30 L351.30,715.31 L352.10,715.31 L352.90,715.32 L353.70,715.32 L354.50,715.33 L355.30,715.33 L356.10,715.33 L356.90,715.34" fill="none" stroke="#d8d24c" stroke-width="0.8" stroke-linejoin="round"/>
<path d="M292.00,714.95 L293.70,713.11 L295.40,712.19 L297.10,710.60 L298.80,708.53 L300.50,706.57 L302.20,704.09 L303.90,698.92 L305.60,695.39 L307.30,689.39 L309.00,685.79 L310.70,677.23 L312.40,674.99 L314.10,671.63 L315.80,666.41 L317.50,664.62 L319.20,660.63 L320.90,652.81 L322.60,648.67 L324.30,646.04 L326.00,646.59 L327.70,645.78 L329.40,644.40 L331.10,645.41 L332.80,645.99 L334.50,648.01 L336.20,648.67 L337.90,651.21 L339.60,655.26 L341.30,658.47 L343.00,665.94 L344.70,670.27 L346.40,673.76 L348.10,678.07 L349.80,680.54 L351.50,684.57 L353.20,688.23 L354.90,692.74 L356.60,694.44" fill="none" stroke="#959595" stroke-width="1.6" stroke-linejoin="round"/>
<path d="M289.90,715.07 L291.60,714.07 L293.30,713.56 L295.00,712.88 L296.70,712.10 L298.40,710.26 L300.10,708.59 L301.80,705.58 L303.50,701.53 L305.20,696.00 L306.90,689.36 L308.60,686.34 L310.30,683.42 L312.00,681.40 L313.70,678.65 L315.40,677.82 L317.10,674.71 L318.80,676.79 L320.50,669.31 L322.20,667.27 L323.90,662.03 L325.60,662.86 L327.30,659.95 L329.00,657.13 L330.70,654.86 L332.40,658.02 L334.10,664.52 L335.80,668.61 L337.50,672.94 L339.20,677.17 L340.90,678.52 L342.60,682.74 L344.30,688.41 L346.00,690.47 L347.70,693.16 L349.40,697.53 L351.10,701.03 L352.80,703.15 L354.50,706.48 L356.20,708.35" fill="none" stroke="#111" stroke-width="1.75" stroke-linejoin="round"/>
<text transform="translate(264.60,674.05) rotate(-90)" x="0" y="0" font-size="11.5" fill="#222" stroke="#222" stroke-width="0.16" text-anchor="middle" textLength="20.6" lengthAdjust="spacingAndGlyphs">Count</text>
<line x1="274.40" y1="715.70" x2="277.20" y2="715.70" stroke="#555" stroke-width="0.9"/>
<text x="274.60" y="718.30" font-size="8.0" fill="#333" text-anchor="end" textLength="4.00" lengthAdjust="spacingAndGlyphs" stroke="#333" stroke-width="0.07">0</text>
<text x="278.50" y="727.70" font-size="8.2" fill="#222" text-anchor="start" textLength="7.90" lengthAdjust="spacingAndGlyphs" stroke="#222" stroke-width="0.07">10</text>
<text x="286.20" y="724.40" font-size="5.4" fill="#222" text-anchor="start" stroke="#222" stroke-width="0.07">0</text>
<text x="292.30" y="727.70" font-size="8.2" fill="#222" text-anchor="start" textLength="7.90" lengthAdjust="spacingAndGlyphs" stroke="#222" stroke-width="0.07">10</text>
<text x="300.00" y="724.40" font-size="5.4" fill="#222" text-anchor="start" stroke="#222" stroke-width="0.07">1</text>
<text x="313.40" y="727.70" font-size="8.2" fill="#222" text-anchor="start" textLength="7.90" lengthAdjust="spacingAndGlyphs" stroke="#222" stroke-width="0.07">10</text>
<text x="321.10" y="724.40" font-size="5.4" fill="#222" text-anchor="start" stroke="#222" stroke-width="0.07">2</text>
<text x="333.00" y="727.70" font-size="8.2" fill="#222" text-anchor="start" textLength="7.90" lengthAdjust="spacingAndGlyphs" stroke="#222" stroke-width="0.07">10</text>
<text x="340.70" y="724.40" font-size="5.4" fill="#222" text-anchor="start" stroke="#222" stroke-width="0.07">3</text>
<text x="353.70" y="727.70" font-size="8.2" fill="#222" text-anchor="start" textLength="7.90" lengthAdjust="spacingAndGlyphs" stroke="#222" stroke-width="0.07">10</text>
<text x="361.40" y="724.40" font-size="5.4" fill="#222" text-anchor="start" stroke="#222" stroke-width="0.07">4</text>
<text x="316.90" y="741.50" font-size="10.2" fill="#222" text-anchor="middle" textLength="21.00" lengthAdjust="spacingAndGlyphs" stroke="#222" stroke-width="0.04">APC-A</text>
<text x="316.90" y="753.60" font-size="10.0" fill="#222" text-anchor="middle" textLength="70.50" lengthAdjust="spacingAndGlyphs" stroke="#222" stroke-width="0.04">LHM76/59, epD15.1</text>
<text x="345.60" y="640.20" font-size="7.9" fill="#9a9a9a" text-anchor="start" font-style="italic" textLength="6.20" lengthAdjust="spacingAndGlyphs" stroke="#9a9a9a" stroke-width="0.07">wt</text>
<text x="341.50" y="648.30" font-size="7.9" fill="#9a9a9a" text-anchor="start" font-style="italic" textLength="14.90" lengthAdjust="spacingAndGlyphs" stroke="#9a9a9a" stroke-width="0.07">RHD</text>
<line x1="345.50" y1="650.50" x2="341.75" y2="653.67" stroke="#9a9a9a" stroke-width="1.0"/>
<polygon points="339.00,656.00 340.65,652.38 342.85,654.97" fill="#9a9a9a"/>
<text x="306.50" y="699.50" font-size="7.9" fill="#111" text-anchor="start" font-style="italic" textLength="40.00" lengthAdjust="spacingAndGlyphs" stroke="#111" stroke-width="0.07">RHD*1227A</text>
<line x1="323.40" y1="692.00" x2="323.40" y2="675.60" stroke="#111" stroke-width="1.0"/>
<polygon points="323.40,672.00 325.10,675.60 321.70,675.60" fill="#111"/>
<line x1="375.20" y1="634.20" x2="396.00" y2="634.20" stroke="#e8e070" stroke-width="1.6"/>
<text x="399.70" y="636.70" font-size="7.3" fill="#333" text-anchor="start" textLength="53.90" lengthAdjust="spacingAndGlyphs" stroke="#333" stroke-width="0.07">Unstained control</text>
<line x1="375.20" y1="645.05" x2="396.00" y2="645.05" stroke="#3a9fa8" stroke-width="1.6"/>
<text x="399.70" y="647.55" font-size="7.3" fill="#333" text-anchor="start" textLength="101.50" lengthAdjust="spacingAndGlyphs" stroke="#333" stroke-width="0.07">Exon 9 deletion + 170bp intron 7</text>
<line x1="375.20" y1="655.90" x2="396.00" y2="655.90" stroke="#6e4f8e" stroke-width="1.6"/>
<text x="399.70" y="658.40" font-size="7.3" fill="#333" text-anchor="start" textLength="108.20" lengthAdjust="spacingAndGlyphs" stroke="#333" stroke-width="0.07">Exons 8/9 deletion +170bp intron 7</text>
<line x1="375.20" y1="666.75" x2="396.00" y2="666.75" stroke="#c0a0b8" stroke-width="1.6"/>
<text x="399.70" y="669.25" font-size="7.3" fill="#333" text-anchor="start" textLength="48.20" lengthAdjust="spacingAndGlyphs" stroke="#333" stroke-width="0.07">Exon 9 deletion</text>
<line x1="375.20" y1="677.60" x2="396.00" y2="677.60" stroke="#34463f" stroke-width="1.6"/>
<text x="399.70" y="680.10" font-size="7.3" fill="#333" text-anchor="start" textLength="56.80" lengthAdjust="spacingAndGlyphs" stroke="#333" stroke-width="0.07">Exons 7/9 deletion</text>
<line x1="375.20" y1="688.45" x2="396.00" y2="688.45" stroke="#6cbd48" stroke-width="1.6"/>
<text x="399.70" y="690.95" font-size="7.3" fill="#333" text-anchor="start" textLength="56.80" lengthAdjust="spacingAndGlyphs" stroke="#333" stroke-width="0.07">Exons 8/9 deletion</text>
<line x1="375.20" y1="699.30" x2="396.00" y2="699.30" stroke="#f2a040" stroke-width="1.6"/>
<text x="399.70" y="701.80" font-size="7.3" fill="#333" text-anchor="start" textLength="63.20" lengthAdjust="spacingAndGlyphs" stroke="#333" stroke-width="0.07">Exons 7/8/9 deletion</text>
<line x1="375.20" y1="710.15" x2="396.00" y2="710.15" stroke="#a8a8a8" stroke-width="1.6"/>
<text x="399.70" y="712.65" font-size="7.3" fill="#333" text-anchor="start" textLength="23.70" lengthAdjust="spacingAndGlyphs" stroke="#333" stroke-width="0.07">wt RHD</text>
<line x1="375.20" y1="721.00" x2="396.00" y2="721.00" stroke="#111111" stroke-width="1.6"/>
<text x="399.70" y="723.50" font-size="7.3" fill="#333" text-anchor="start" textLength="38.10" lengthAdjust="spacingAndGlyphs" stroke="#333" stroke-width="0.07">RHD*1227A</text>
</svg>
</body></html>
